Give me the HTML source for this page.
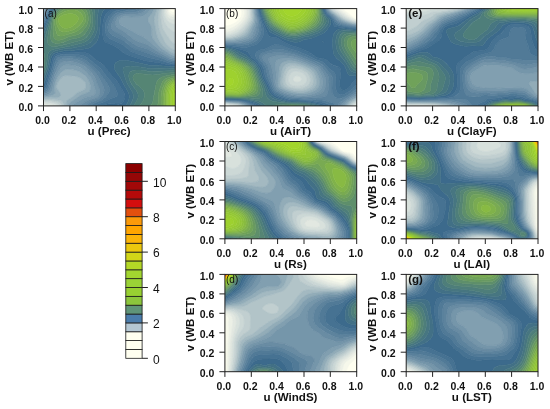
<!DOCTYPE html><html><head><meta charset="utf-8"><title>Figure</title>
<style>html,body{margin:0;padding:0;background:#fff}svg{display:block}text{font-family:"Liberation Sans",sans-serif;fill:#111}.tk{font-size:10.5px;font-weight:bold}.xl{font-size:11.6px;font-weight:bold}.pl{font-size:10px}.pl.b{font-weight:bold;font-size:11.5px}.cb{font-size:12px}</style></head><body>
<svg width="550" height="409" viewBox="0 0 550 409">
<rect width="550" height="409" fill="#fff"/>
<g>
<clipPath id="cpa"><rect x="43.5" y="8.6" width="131.8" height="97.3"/></clipPath>
<g clip-path="url(#cpa)">
<path fill="#fffff0" stroke="#fffff0" stroke-width="0.6" fill-rule="evenodd" d="M169.9,8.6 173.8,8.6 174.9,11.6 174.3,12.3 173.3,12.5 172.3,12.2 171.3,11.7 170.3,10.6Z"/>
<path fill="#f6f8eb" stroke="#f6f8eb" stroke-width="0.6" fill-rule="evenodd" d="M168.1,8.6 169.9,8.6 170.3,10.6 171.2,11.6 172.3,12.2 173.3,12.5 174.3,12.3 174.9,11.6 173.8,8.6 175.3,8.6 175.3,15.1 173.3,15.1 172.3,14.9 170.3,13.9 169.3,12.8 168.3,10.5Z"/>
<path fill="#ecf0e6" stroke="#ecf0e6" stroke-width="0.6" fill-rule="evenodd" d="M166.7,8.6 168.1,8.6 168.3,10.5 169.3,12.8 170.3,13.9 172.3,14.9 173.3,15.1 175.3,15.1 175.3,17.2 173.3,17.2 171.3,16.9 170.3,16.4 169.2,15.6 168.3,14.6 167.3,12.6 166.8,10.6ZM43.5,105.2 45.5,105.3 48.8,105.9 43.5,105.9Z"/>
<path fill="#e2e8e1" stroke="#e2e8e1" stroke-width="0.6" fill-rule="evenodd" d="M165.4,8.6 166.7,8.6 166.8,10.6 167.3,12.6 168.3,14.6 169.3,15.7 170.3,16.4 172.3,17.1 175.3,17.2 175.3,19.9 173.3,19.8 171.3,19.5 169.3,18.5 168.2,17.5 166.8,15.6 166.0,13.6 165.6,11.6ZM43.5,103.9 46.5,104.0 49.5,104.4 52.5,105.1 54.7,105.9 48.8,105.9 45.5,105.3 43.5,105.2Z"/>
<path fill="#d8e1dc" stroke="#d8e1dc" stroke-width="0.6" fill-rule="evenodd" d="M164.2,8.6 165.4,8.6 165.6,11.6 166.0,13.6 166.8,15.6 168.3,17.7 169.3,18.5 171.3,19.5 173.3,19.8 175.3,19.9 175.3,24.6 172.3,23.8 170.3,22.9 168.3,21.5 166.6,19.5 165.3,17.2 164.5,14.6 164.1,11.6ZM43.5,102.6 48.5,102.9 53.5,103.7 56.5,104.8 58.0,105.9 54.7,105.9 52.5,105.1 49.5,104.4 46.5,104.0 43.5,103.9Z"/>
<path fill="#ccd8d6" stroke="#ccd8d6" stroke-width="0.6" fill-rule="evenodd" d="M162.8,8.6 164.2,8.6 164.2,12.6 164.7,15.6 166.0,18.5 167.3,20.5 168.3,21.5 170.3,22.9 172.3,23.8 175.3,24.6 175.3,32.5 172.3,31.0 169.3,28.8 167.3,26.8 165.3,23.7 163.7,19.5 162.8,15.6 162.6,12.6ZM43.5,101.5 49.5,101.6 52.5,102.0 55.5,102.7 58.3,103.9 60.2,105.9 58.0,105.9 56.7,104.9 55.5,104.3 51.5,103.3 47.5,102.8 43.5,102.6Z"/>
<path fill="#c1cfd0" stroke="#c1cfd0" stroke-width="0.6" fill-rule="evenodd" d="M161.3,8.6 162.8,8.6 162.6,13.6 162.9,16.5 164.3,21.4 165.8,24.5 167.3,26.8 169.3,28.8 172.3,31.0 175.3,32.5 175.3,43.8 174.1,43.4 172.5,42.4 170.3,40.2 165.3,33.0 162.7,28.5 161.5,23.5 160.7,17.5 160.7,13.6ZM43.5,100.3 47.5,100.2 50.5,100.3 54.5,100.9 57.5,101.6 59.5,102.5 60.5,103.3 61.5,104.5 62.2,105.9 60.2,105.9 58.3,103.9 55.5,102.7 52.5,102.0 49.5,101.6 43.5,101.5Z"/>
<path fill="#b2c4c8" stroke="#b2c4c8" stroke-width="0.6" fill-rule="evenodd" d="M159.3,8.6 161.3,8.6 160.7,13.6 160.7,17.5 161.5,23.5 162.7,28.5 165.3,33.0 170.3,40.2 172.5,42.4 174.1,43.4 175.3,43.8 175.3,50.1 173.3,49.5 171.3,48.4 168.4,46.3 166.4,44.3 164.3,41.3 160.1,32.4 158.7,27.5 157.9,20.5 158.1,15.6ZM43.5,99.1 48.5,98.9 51.5,98.9 58.5,99.9 60.5,100.3 61.6,100.9 62.6,101.9 63.5,103.5 64.3,105.9 62.2,105.9 61.5,104.5 60.5,103.3 59.5,102.5 57.5,101.6 54.5,100.9 50.5,100.3 47.5,100.2 43.5,100.3Z"/>
<path fill="#a3b9c1" stroke="#a3b9c1" stroke-width="0.6" fill-rule="evenodd" d="M43.5,9.9 43.5,8.6 44.1,8.6ZM156.9,8.6 159.3,8.6 158.1,15.6 157.9,20.5 158.7,27.5 160.3,33.0 164.3,41.3 166.4,44.3 168.4,46.3 171.3,48.4 173.3,49.5 175.3,50.1 175.3,53.7 173.3,53.2 171.3,52.2 165.5,48.3 163.1,46.3 161.4,44.3 160.2,42.4 157.2,36.4 156.1,32.4 154.1,21.5 154.0,19.5 154.5,16.5ZM67.5,75.5 75.5,76.4 78.4,77.1 80.4,78.1 82.4,79.4 84.4,81.5 85.8,84.1 86.1,86.0 85.5,88.0 84.4,89.2 83.2,90.0 77.4,92.7 75.5,94.2 72.4,97.0 67.7,99.9 66.9,100.9 66.5,101.9 66.2,103.9 66.3,105.9 64.3,105.9 63.5,103.5 62.6,101.9 61.6,100.9 60.5,100.3 58.5,99.9 51.5,98.9 48.5,98.9 43.5,99.1 43.5,98.0 50.5,97.3 57.5,97.5 59.1,97.0 60.3,96.0 60.6,95.0 60.5,94.0 60.2,93.0 57.5,89.3 56.5,87.0 56.7,85.0 58.5,81.3 59.5,79.8 61.5,77.6 62.5,76.9 64.5,75.9 65.5,75.6Z"/>
<path fill="#92acb8" stroke="#92acb8" stroke-width="0.6" fill-rule="evenodd" d="M45.3,8.6 43.5,12.3 43.5,9.9 44.1,8.6ZM154.0,8.6 156.9,8.6 154.3,17.5 154.0,20.5 156.3,33.4 157.6,37.4 160.2,42.4 161.4,44.3 163.1,46.3 165.5,48.3 171.3,52.2 173.3,53.2 175.3,53.7 175.3,56.3 173.3,55.8 170.3,54.3 161.1,48.3 159.0,46.3 153.5,39.4 152.3,37.4 151.6,34.4 151.7,29.4 151.4,27.5 150.3,24.8 148.3,21.5 148.0,19.5 148.7,17.5 152.3,12.4ZM68.5,69.3 73.5,69.8 77.4,70.8 80.4,72.1 83.4,74.2 86.4,77.2 87.9,79.1 89.0,81.1 90.0,84.1 90.5,88.0 90.1,90.0 89.6,91.0 88.5,92.0 86.7,93.0 82.4,94.5 79.8,96.0 70.5,102.2 69.0,103.9 68.5,105.9 66.3,105.9 66.2,103.9 66.5,101.9 66.9,100.9 67.7,99.9 72.4,97.0 75.5,94.2 77.4,92.7 83.4,89.9 84.7,89.0 85.5,88.0 85.9,87.0 86.0,85.0 85.4,83.1 84.9,82.1 82.4,79.4 80.4,78.1 78.4,77.1 74.5,76.2 67.5,75.5 65.5,75.6 63.5,76.3 61.5,77.6 59.5,79.8 57.5,83.1 56.5,86.0 56.5,87.0 57.3,89.0 60.2,93.0 60.6,95.0 60.3,96.0 59.1,97.0 57.5,97.5 56.5,97.6 50.5,97.3 43.5,98.0 43.5,96.8 48.3,96.0 52.6,95.0 54.6,94.0 55.0,93.0 54.4,88.0 54.6,85.0 55.5,82.2 57.5,77.6 59.5,74.5 62.5,71.2 63.5,70.5 65.5,69.6Z"/>
<path fill="#819fb0" stroke="#819fb0" stroke-width="0.6" fill-rule="evenodd" d="M46.5,8.6 43.5,14.7 43.5,12.3 45.3,8.6ZM121.3,17.5 122.4,17.0 124.4,16.6 131.4,16.9 139.4,16.7 142.4,16.2 144.3,15.2 147.3,13.0 149.3,10.8 150.7,8.6 154.0,8.6 152.3,12.4 148.7,17.5 148.0,19.5 148.3,21.5 150.3,24.8 151.4,27.5 151.7,29.4 151.6,34.4 152.3,37.4 153.5,39.4 159.0,46.3 161.1,48.3 170.3,54.3 173.3,55.8 175.3,56.3 175.3,58.1 173.3,57.7 170.3,56.5 161.4,51.3 157.2,48.3 151.3,43.0 143.3,37.1 141.4,36.0 136.4,33.8 121.4,25.1 119.8,23.5 119.3,21.5 119.7,19.5 120.3,18.5ZM66.5,64.7 68.5,64.7 71.5,65.0 74.5,65.6 77.4,66.4 81.7,68.2 83.4,69.3 85.4,71.0 89.2,75.1 91.9,79.1 93.4,83.1 95.5,91.0 95.4,93.1 95.1,94.0 94.0,95.0 91.4,95.9 85.4,97.4 83.4,98.2 74.1,103.9 72.8,104.9 72.1,105.9 68.5,105.9 69.0,103.9 70.5,102.2 80.4,95.6 82.4,94.5 86.7,93.0 88.4,92.1 89.6,91.0 90.4,89.0 90.4,86.0 89.8,83.1 88.5,80.1 87.2,78.1 85.4,76.1 82.4,73.4 79.4,71.6 76.4,70.4 72.5,69.6 67.5,69.3 65.5,69.6 64.5,70.0 62.5,71.2 60.5,73.2 58.5,75.9 57.5,77.6 55.5,82.2 54.5,86.0 54.4,88.0 55.0,93.0 54.6,94.0 52.6,95.0 48.3,96.0 43.5,96.8 43.5,95.5 46.5,94.9 48.9,94.0 50.6,93.0 51.5,92.0 52.3,90.0 53.0,85.0 54.1,81.1 55.5,77.1 57.5,73.0 59.5,69.5 61.5,66.9 63.5,65.5 64.5,65.1Z"/>
<path fill="#7596aa" stroke="#7596aa" stroke-width="0.6" fill-rule="evenodd" d="M47.6,8.6 43.5,17.1 43.5,14.7 46.5,8.6ZM118.9,16.5 120.5,15.6 123.4,14.7 125.4,14.5 134.4,14.3 139.4,13.6 141.4,13.0 143.3,12.0 145.3,10.4 147.0,8.6 150.7,8.6 149.3,10.8 147.3,13.0 144.3,15.2 142.4,16.2 139.4,16.7 131.4,16.9 124.4,16.6 122.4,17.0 121.4,17.5 120.3,18.5 119.3,20.5 119.4,22.5 119.8,23.5 120.6,24.5 121.9,25.5 137.4,34.3 141.4,36.0 143.3,37.1 151.3,43.0 157.2,48.3 159.8,50.3 170.3,56.5 173.3,57.7 175.3,58.1 175.3,59.5 172.3,59.1 169.3,58.0 157.1,51.3 149.3,45.8 145.3,44.1 138.4,41.8 135.4,40.4 133.4,39.0 128.4,34.8 125.4,32.5 122.4,30.5 118.5,28.5 117.4,27.7 116.4,26.6 115.8,25.5 115.5,24.5 115.5,22.5 116.5,19.5 117.8,17.5ZM64.5,61.3 66.5,61.1 69.5,61.2 75.5,62.3 78.4,63.2 81.4,64.4 83.4,65.5 85.4,66.9 88.0,69.2 90.8,72.1 94.4,76.9 96.1,80.1 99.5,89.0 99.9,91.0 99.8,93.0 99.1,95.0 97.5,97.0 95.4,98.0 89.4,99.8 86.6,100.9 84.4,102.2 79.5,105.9 72.1,105.9 72.8,104.9 74.5,103.7 83.4,98.2 85.4,97.4 91.4,95.9 94.0,95.0 95.1,94.0 95.4,93.1 95.5,91.0 92.8,81.1 91.3,78.1 89.4,75.4 86.4,72.0 83.2,69.2 80.4,67.5 76.4,66.1 71.5,65.0 68.5,64.7 66.5,64.7 64.5,65.1 63.5,65.5 61.5,66.9 60.4,68.2 58.5,71.2 55.5,77.1 53.5,83.1 52.3,90.0 51.5,92.0 50.6,93.0 48.9,94.0 46.5,94.9 43.5,95.5 43.5,94.2 45.5,93.6 47.5,92.7 48.5,92.0 50.1,90.0 50.8,88.0 52.2,82.1 53.5,77.9 58.3,66.2 59.5,64.2 60.5,63.1 62.5,61.9Z"/>
<path fill="#698ca3" stroke="#698ca3" stroke-width="0.6" fill-rule="evenodd" d="M48.7,8.6 43.5,19.4 43.5,17.1 47.6,8.6ZM117.4,15.0 120.4,13.6 123.4,13.0 136.4,11.9 138.4,11.4 140.2,10.6 143.0,8.6 147.0,8.6 145.3,10.4 143.3,12.0 141.4,13.0 139.6,13.6 137.4,14.0 134.4,14.3 125.4,14.5 123.4,14.7 121.4,15.2 119.4,16.2 117.8,17.5 117.0,18.5 115.7,21.5 115.5,24.5 116.3,26.5 117.1,27.5 118.4,28.4 122.4,30.5 126.4,33.2 133.4,39.0 135.4,40.4 138.4,41.8 145.3,44.1 148.3,45.3 150.3,46.4 157.1,51.3 167.9,57.2 170.3,58.4 172.3,59.1 175.3,59.5 175.3,60.9 172.3,60.6 169.3,59.7 166.3,58.4 162.3,56.3 155.4,53.3 147.3,48.9 139.4,46.7 136.4,45.6 132.4,43.2 126.4,38.2 123.4,36.0 121.4,34.9 116.1,32.4 113.4,30.7 112.3,29.4 111.4,27.5 111.4,25.5 111.8,23.5 112.9,20.5 114.0,18.5 115.5,16.5ZM61.5,59.0 64.5,58.5 67.5,58.4 69.5,58.4 72.5,58.8 76.4,59.6 79.4,60.5 82.4,61.7 84.4,62.8 87.4,64.9 90.0,67.2 93.0,70.2 95.6,73.1 98.4,77.1 102.8,85.0 103.9,88.0 104.2,91.0 103.3,94.0 102.1,96.0 100.1,98.0 98.7,99.0 96.6,99.9 90.4,102.4 87.8,103.9 85.6,105.9 79.5,105.9 84.4,102.2 86.6,100.9 89.4,99.8 95.4,98.0 97.5,97.0 98.4,96.0 99.5,94.0 99.9,92.0 99.8,90.0 95.6,79.1 93.9,76.1 91.7,73.1 88.0,69.2 84.4,66.1 81.0,64.2 76.4,62.6 70.5,61.3 66.5,61.1 64.5,61.3 62.5,61.9 60.5,63.1 59.5,64.2 58.3,66.2 54.5,75.1 52.5,81.1 50.8,88.0 50.1,90.0 48.5,92.0 47.5,92.7 45.5,93.6 43.5,94.2 43.5,92.7 45.4,92.0 46.5,91.4 47.5,90.5 48.7,89.0 49.8,86.0 52.5,76.2 56.7,64.2 57.5,62.4 58.5,60.8 59.5,59.9Z"/>
<path fill="#5d839d" stroke="#5d839d" stroke-width="0.6" fill-rule="evenodd" d="M49.8,8.6 45.2,18.5 43.5,21.6 43.5,19.4 48.7,8.6ZM115.4,13.7 118.4,12.3 121.4,11.6 127.4,10.7 135.4,9.9 136.5,9.6 138.6,8.6 143.0,8.6 140.4,10.5 137.4,11.7 134.4,12.2 123.4,13.0 120.4,13.6 117.4,15.0 115.5,16.5 114.7,17.5 113.4,19.5 112.1,22.5 111.5,24.5 111.3,26.5 111.7,28.5 112.3,29.4 113.4,30.7 115.4,32.1 121.4,34.9 124.4,36.7 132.4,43.2 135.4,45.1 138.4,46.4 147.3,48.9 155.4,53.3 162.3,56.3 168.1,59.2 171.3,60.3 175.3,60.9 175.3,62.2 171.3,61.9 168.3,61.1 161.3,58.1 154.3,55.8 146.3,52.7 138.4,50.4 135.4,49.4 133.4,48.4 131.4,47.0 125.4,42.1 122.4,39.9 119.4,38.4 113.4,35.8 111.4,34.5 109.4,32.5 108.3,30.4 107.8,28.5 108.0,25.5 108.8,22.5 110.9,18.5 113.1,15.6ZM59.0,57.2 61.5,56.6 64.5,56.3 69.5,56.2 72.5,56.4 77.4,57.1 80.4,57.9 83.4,59.0 85.4,60.1 87.4,61.4 90.4,63.8 97.2,70.2 100.4,74.1 108.1,85.0 109.3,88.0 109.4,91.0 108.6,93.0 106.5,96.0 104.4,98.0 101.6,99.9 99.4,101.0 93.4,103.5 91.4,104.7 89.9,105.9 85.6,105.9 87.4,104.2 89.4,102.9 91.3,101.9 96.6,99.9 98.7,99.0 100.1,98.0 102.1,96.0 103.3,94.0 104.0,92.0 104.2,90.0 103.9,88.0 102.8,85.0 98.4,77.1 96.4,74.1 93.9,71.2 89.4,66.7 85.4,63.4 82.4,61.7 78.4,60.1 72.5,58.8 69.5,58.4 67.5,58.4 62.5,58.8 60.5,59.4 59.1,60.2 57.6,62.2 56.5,64.6 52.2,77.1 49.1,88.0 48.0,90.0 47.0,91.0 45.5,92.0 43.5,92.7 43.5,91.2 45.5,90.1 46.5,89.2 47.9,87.0 55.5,61.4 56.5,59.3 57.3,58.2Z"/>
<path fill="#517a97" stroke="#517a97" stroke-width="0.6" fill-rule="evenodd" d="M50.9,8.6 45.5,20.2 43.5,23.9 43.5,21.6 45.2,18.5 49.8,8.6ZM112.5,12.6 114.4,11.5 117.4,10.4 128.0,8.6 138.6,8.6 136.5,9.6 135.4,9.9 126.4,10.8 119.4,12.0 116.4,13.1 114.2,14.6 112.2,16.5 110.9,18.5 109.3,21.5 108.2,24.5 107.8,26.5 107.8,28.5 108.3,30.4 109.4,32.4 110.4,33.7 112.7,35.4 120.4,38.9 123.4,40.6 131.4,47.0 134.4,48.9 137.4,50.1 146.3,52.7 154.3,55.8 161.3,58.1 168.3,61.1 171.3,61.9 175.3,62.2 175.3,63.5 171.3,63.4 167.3,62.6 160.3,60.3 149.3,57.8 134.4,53.0 131.4,51.7 129.4,50.4 124.4,46.1 121.4,44.0 118.2,42.4 111.4,39.5 109.4,38.3 107.4,36.4 105.9,33.4 105.1,29.4 105.2,25.5 106.1,21.5 107.5,18.5 110.2,14.6ZM56.4,56.3 58.6,55.3 62.5,54.6 67.5,54.3 73.5,54.3 78.4,54.7 81.5,55.3 84.4,56.1 87.4,57.7 97.9,66.2 100.4,68.6 102.7,71.2 107.4,77.5 113.0,84.1 115.4,88.0 117.3,93.0 117.3,95.0 116.4,96.3 115.3,97.0 110.4,98.7 102.4,102.4 96.4,104.5 94.0,105.9 89.9,105.9 91.4,104.7 93.4,103.5 99.4,101.0 101.6,99.9 103.1,99.0 105.5,97.0 108.0,94.0 109.1,92.0 109.5,90.0 109.1,87.0 107.4,84.1 98.9,72.1 95.2,68.2 88.4,62.2 85.4,60.1 81.4,58.2 76.4,57.0 70.5,56.2 64.5,56.3 60.5,56.8 58.5,57.5 57.5,58.1 56.5,59.2 55.2,62.2 47.9,87.0 46.5,89.2 45.5,90.1 43.5,91.2 43.5,89.5 45.5,88.0 47.1,85.0 51.7,69.2 53.9,60.2 54.8,58.2 55.5,57.1Z"/>
<path fill="#467292" stroke="#467292" stroke-width="0.6" fill-rule="evenodd" d="M52.1,8.6 49.5,13.5 46.1,21.5 43.5,26.5 43.5,23.9 45.5,20.2 48.9,12.6 50.9,8.6ZM109.8,10.6 111.5,9.6 114.0,8.6 128.0,8.6 122.6,9.6 118.4,10.2 115.4,11.0 113.4,12.0 111.4,13.4 108.7,16.5 107.0,19.5 106.1,21.5 105.3,24.5 105.0,27.5 105.2,30.4 105.9,33.4 106.8,35.4 108.4,37.5 109.5,38.4 111.4,39.5 118.2,42.4 121.4,44.0 124.4,46.1 129.2,50.3 131.4,51.7 133.4,52.6 137.4,54.0 148.3,57.5 152.3,58.5 160.3,60.3 167.3,62.6 171.3,63.4 175.3,63.5 175.3,64.8 171.3,64.9 168.3,64.7 159.3,62.7 149.3,61.6 144.3,60.4 130.4,56.1 125.4,54.1 123.4,52.8 119.5,49.3 116.4,47.3 112.9,45.3 107.4,43.0 105.4,41.9 104.4,40.8 103.6,39.4 102.8,36.4 102.4,30.4 102.8,23.5 103.6,19.5 105.2,15.6 107.4,12.6ZM55.5,54.8 56.5,54.2 58.5,53.5 62.5,52.8 66.5,52.5 77.4,52.2 81.4,52.3 85.4,52.8 88.4,53.7 90.4,54.9 95.4,59.8 101.2,63.2 103.7,65.2 105.5,67.2 110.4,74.1 115.8,80.1 118.4,83.6 123.7,92.0 124.9,95.0 125.1,97.0 124.7,99.0 123.4,101.5 122.0,102.9 120.4,103.8 119.4,104.1 117.4,104.2 112.4,103.6 110.4,103.6 107.4,104.1 101.0,105.9 94.0,105.9 96.4,104.5 102.4,102.4 110.4,98.7 115.4,96.9 116.8,96.0 117.3,95.0 117.3,93.0 115.4,88.0 113.0,84.1 107.4,77.5 102.7,71.2 100.4,68.6 97.9,66.2 87.4,57.7 84.4,56.1 80.4,55.0 73.5,54.3 65.5,54.3 62.5,54.6 59.5,55.0 57.5,55.7 56.4,56.3 55.5,57.1 54.8,58.2 53.9,60.2 51.7,69.2 46.7,86.0 45.4,88.0 43.5,89.5 43.5,87.6 44.5,86.6 45.5,84.8 49.9,70.2 52.5,59.1 53.9,56.3Z"/>
<path fill="#3c6a8c" stroke="#3c6a8c" stroke-width="0.6" fill-rule="evenodd" d="M53.3,8.6 50.0,14.6 46.5,23.4 43.5,29.8 43.5,26.5 46.1,21.5 49.5,13.6 52.1,8.6ZM105.0,8.6 114.0,8.6 110.4,10.2 107.4,12.6 105.2,15.6 104.3,17.5 103.4,20.2 102.5,26.5 102.6,34.4 103.4,38.9 104.4,40.8 105.4,41.9 107.4,43.0 112.9,45.3 116.4,47.3 119.5,49.3 123.4,52.8 125.4,54.1 130.4,56.1 144.3,60.4 149.3,61.6 159.3,62.7 168.3,64.7 171.3,64.9 175.3,64.8 175.3,66.2 170.3,66.6 167.3,66.5 158.3,65.4 149.3,65.3 131.4,61.3 128.4,60.8 125.4,60.5 122.4,60.5 119.4,60.8 117.4,61.5 116.3,62.2 115.3,63.2 114.3,65.2 114.2,67.2 114.7,69.2 116.2,72.1 120.5,78.1 124.0,85.0 127.6,91.0 128.6,93.0 129.1,95.0 129.3,97.0 128.7,99.9 127.4,102.9 125.5,105.9 101.0,105.9 107.4,104.1 109.4,103.7 112.4,103.6 118.4,104.2 120.4,103.8 121.4,103.4 122.4,102.6 123.4,101.5 124.7,99.0 125.1,96.0 124.7,94.0 123.4,91.4 117.4,82.1 115.4,79.6 110.4,74.1 104.4,65.9 101.4,63.3 95.4,59.8 90.4,54.9 88.4,53.7 85.4,52.8 82.4,52.4 78.4,52.2 63.5,52.7 58.5,53.5 56.5,54.2 54.9,55.3 53.5,56.9 52.5,59.2 50.2,69.2 45.8,84.1 44.9,86.0 43.5,87.6 43.5,84.7 44.5,82.4 48.8,69.2 51.0,58.2 51.8,56.3 53.5,54.1 54.6,53.3 56.5,52.4 60.5,51.4 64.5,50.8 71.5,50.4 84.4,49.0 88.4,48.3 90.4,47.5 91.4,46.9 93.4,45.1 96.1,42.4 97.8,39.4 99.2,34.4 99.8,29.4 100.4,19.5 101.2,15.6 102.7,11.6 103.4,10.4Z"/>
<path fill="#427086" stroke="#427086" stroke-width="0.6" fill-rule="evenodd" d="M54.5,8.6 52.5,11.8 50.6,15.6 43.5,34.5 43.5,29.8 46.5,23.4 49.6,15.6 51.5,11.6 53.3,8.6ZM105.0,8.6 103.4,10.4 102.7,11.6 101.2,15.6 100.4,19.5 99.8,29.4 99.2,34.4 97.8,39.4 96.1,42.4 93.4,45.1 91.4,46.9 90.4,47.5 88.4,48.3 84.4,49.0 71.5,50.4 64.5,50.8 60.5,51.4 56.5,52.4 54.6,53.3 53.5,54.1 51.8,56.3 51.0,58.2 48.8,69.2 44.5,82.4 43.5,84.7 43.5,79.4 47.5,68.3 49.5,57.0 50.1,55.3 51.4,53.3 52.5,52.3 54.2,51.3 58.5,50.0 63.5,49.1 71.5,48.3 83.4,45.8 87.3,44.3 90.2,42.4 92.4,40.1 94.4,37.3 95.8,34.4 97.1,30.4 97.5,27.5 97.6,17.5 98.5,8.6ZM175.3,66.2 175.3,67.9 169.3,68.6 159.3,68.2 149.3,68.5 140.4,66.9 130.4,66.1 126.4,66.4 124.0,67.2 123.1,68.2 122.9,70.2 125.8,80.1 127.5,84.1 132.3,92.0 133.1,94.0 133.4,96.0 133.2,98.0 132.6,99.9 129.7,105.9 125.5,105.9 127.4,102.9 128.7,99.9 129.3,97.0 129.1,95.0 128.6,93.0 127.6,91.0 124.0,85.0 120.5,78.1 116.2,72.1 114.7,69.2 114.2,67.2 114.3,65.2 115.3,63.2 116.3,62.2 117.4,61.5 119.4,60.8 122.4,60.5 126.4,60.6 131.4,61.3 149.3,65.3 158.3,65.4 169.3,66.6Z"/>
<path fill="#477681" stroke="#477681" stroke-width="0.6" fill-rule="evenodd" d="M55.9,8.6 52.6,13.6 50.8,17.5 44.7,38.4 43.5,41.8 43.5,34.5 49.8,17.5 51.5,13.6 54.5,8.7ZM98.5,8.6 97.6,17.5 97.6,25.5 97.3,29.4 96.5,32.4 95.4,35.4 93.0,39.4 91.3,41.4 88.9,43.4 86.4,44.8 84.4,45.5 80.4,46.5 71.5,48.3 63.5,49.1 59.5,49.8 55.5,50.8 53.5,51.7 52.5,52.3 50.6,54.3 49.7,56.3 49.0,59.2 47.5,68.3 43.5,79.4 43.5,74.3 45.9,68.2 46.5,65.2 47.7,55.3 48.2,53.3 49.4,51.3 51.5,49.9 53.5,49.2 62.5,47.4 69.5,46.3 81.4,43.3 85.4,41.7 88.4,39.5 90.4,37.3 92.3,34.4 93.8,31.4 94.7,28.5 95.0,26.5 95.1,22.5 94.9,13.6 94.5,8.6ZM175.3,67.9 175.3,69.8 170.3,70.7 151.3,71.4 147.3,71.1 140.4,70.1 137.4,70.0 133.4,70.4 131.4,71.1 130.4,71.8 129.4,73.1 128.8,75.1 128.8,77.1 129.5,80.1 131.4,83.9 135.9,90.0 137.1,92.0 137.9,94.0 138.2,96.0 137.9,98.0 137.1,99.9 133.6,105.9 129.7,105.9 131.8,101.9 133.0,99.0 133.4,97.0 133.3,95.0 132.3,92.0 127.5,84.1 125.8,80.1 122.9,70.2 123.1,68.2 124.0,67.2 126.4,66.4 130.4,66.1 140.4,66.9 149.3,68.5 159.3,68.2 169.3,68.6Z"/>
<path fill="#4e7e7a" stroke="#4e7e7a" stroke-width="0.6" fill-rule="evenodd" d="M94.5,8.6 94.9,13.6 95.1,22.5 94.9,27.5 94.4,29.7 93.4,32.4 91.8,35.4 90.4,37.3 88.5,39.4 86.4,41.1 84.4,42.2 82.4,43.0 69.5,46.3 62.5,47.4 53.5,49.2 51.5,49.9 50.5,50.4 49.4,51.3 48.7,52.3 47.9,54.3 46.2,67.2 45.3,70.2 43.5,74.3 43.5,69.8 44.7,66.2 45.0,58.2 44.5,54.3 43.5,52.3 43.5,41.8 44.7,38.4 50.8,17.5 52.6,13.6 55.9,8.6 57.5,8.6 55.5,11.0 53.8,13.6 52.5,16.0 51.5,18.5 48.2,33.4 47.5,40.4 47.9,43.4 48.5,44.5 49.3,45.3 51.5,46.2 55.5,46.4 58.5,46.0 64.5,44.7 72.5,42.4 80.4,40.5 83.4,39.4 86.1,37.4 87.9,35.4 89.9,32.4 91.4,29.4 92.3,26.5 92.7,22.5 92.7,17.5 92.4,13.6 91.4,8.6ZM175.3,69.8 175.3,72.0 171.3,72.8 162.3,73.7 156.3,74.8 152.3,74.9 138.4,73.4 136.4,73.6 135.4,73.9 134.4,74.5 133.4,75.7 132.9,77.1 132.9,78.1 133.5,80.1 134.8,82.1 136.4,83.9 141.2,88.0 143.0,90.0 144.1,92.0 144.5,95.0 144.1,98.0 143.0,100.9 141.7,102.9 139.1,105.9 133.6,105.9 137.5,99.0 138.1,97.0 138.1,95.0 137.6,93.0 136.6,91.0 131.5,84.1 129.5,80.1 128.8,77.1 128.8,75.1 129.4,73.1 130.4,71.8 132.4,70.7 134.4,70.2 136.4,70.0 140.4,70.1 148.3,71.2 153.3,71.4 169.3,70.7Z"/>
<path fill="#558574" stroke="#558574" stroke-width="0.6" fill-rule="evenodd" d="M91.4,8.6 92.4,13.6 92.7,17.5 92.7,22.5 92.3,26.5 91.4,29.4 89.9,32.4 87.9,35.4 85.4,38.0 83.4,39.4 80.4,40.5 72.5,42.4 66.0,44.3 59.5,45.8 56.5,46.3 53.5,46.4 51.5,46.2 49.5,45.5 48.5,44.5 47.9,43.4 47.6,41.4 47.6,39.4 48.2,33.4 50.5,22.5 51.5,18.5 52.7,15.6 54.5,12.4 57.5,8.6 59.4,8.6 56.5,11.6 54.5,14.4 53.4,16.5 52.4,19.5 51.5,24.5 50.4,35.4 50.9,39.4 51.9,41.4 53.0,42.4 54.5,43.1 55.5,43.4 57.5,43.5 60.5,43.1 63.2,42.4 70.5,39.3 76.4,38.2 79.4,37.5 82.4,36.1 84.4,34.4 86.4,31.8 88.5,28.5 89.7,25.5 90.3,22.5 90.5,19.5 90.3,15.6 89.5,11.6 88.4,8.6ZM43.5,52.3 44.5,54.3 45.0,58.2 44.7,66.2 43.5,69.8ZM175.3,72.0 175.3,74.1 173.3,74.6 166.3,75.8 162.3,77.0 160.4,78.1 159.1,79.1 157.3,81.1 156.7,82.1 156.1,84.1 154.1,94.0 153.1,100.9 151.8,103.9 150.2,105.9 139.1,105.9 141.7,102.9 143.4,99.9 144.3,97.0 144.5,95.0 144.3,93.0 143.7,91.0 143.0,90.0 141.2,88.0 136.4,83.9 134.8,82.1 133.5,80.1 132.9,78.1 132.9,77.1 133.4,75.7 134.4,74.5 135.4,73.9 136.4,73.6 138.4,73.4 152.3,74.9 155.3,74.9 163.3,73.6 172.3,72.6Z"/>
<path fill="#5e8f6b" stroke="#5e8f6b" stroke-width="0.6" fill-rule="evenodd" d="M88.4,8.6 89.5,11.6 90.3,15.6 90.5,19.5 90.2,23.5 89.4,26.5 88.0,29.4 85.4,33.2 83.4,35.3 82.0,36.4 79.7,37.4 76.4,38.2 70.5,39.3 65.5,41.5 61.5,42.8 58.5,43.4 56.5,43.5 54.5,43.1 53.5,42.7 52.5,42.0 51.5,40.7 50.9,39.4 50.5,37.4 50.5,33.4 51.8,22.5 52.6,18.5 53.8,15.6 55.5,12.9 58.5,9.5 59.4,8.6 61.9,8.6 59.5,10.5 57.5,12.4 55.7,14.6 54.5,16.5 53.3,20.5 53.0,25.5 53.1,33.4 53.3,35.4 53.9,37.4 54.5,38.5 55.5,39.5 56.5,40.0 58.5,40.3 60.5,40.0 62.5,39.5 69.5,36.5 75.5,35.3 77.4,34.7 80.0,33.4 82.4,31.3 85.4,27.6 86.7,25.5 87.5,23.5 88.2,20.5 88.3,17.5 87.8,14.6 86.8,11.6 85.0,8.6ZM175.3,74.1 175.3,75.9 169.3,77.2 166.3,78.3 163.7,80.1 162.3,82.1 159.7,89.0 158.9,92.0 158.4,96.0 158.2,102.9 157.5,105.9 150.2,105.9 151.8,103.9 152.8,101.9 156.1,84.1 156.7,82.1 158.1,80.1 160.4,78.1 163.3,76.6 167.3,75.6 173.3,74.6Z"/>
<path fill="#689962" stroke="#689962" stroke-width="0.6" fill-rule="evenodd" d="M85.0,8.6 86.8,11.6 87.8,14.6 88.3,17.5 88.2,20.5 87.5,23.5 86.4,26.0 84.4,28.9 82.3,31.4 80.4,33.1 78.1,34.4 75.5,35.3 69.5,36.5 63.5,39.1 61.5,39.8 58.5,40.3 56.5,40.0 55.5,39.5 54.5,38.5 53.9,37.4 53.3,35.4 53.1,31.4 53.1,22.5 53.5,19.5 54.5,16.7 55.5,14.9 57.5,12.4 59.5,10.5 61.9,8.6 65.7,8.6 61.5,10.9 58.5,13.4 55.9,16.5 54.8,19.5 54.6,21.5 54.7,24.5 55.8,30.4 56.6,33.4 57.5,35.0 58.5,35.8 59.5,36.1 61.5,36.1 63.5,35.6 73.5,32.8 76.4,31.6 79.4,29.6 82.5,26.5 84.4,23.8 85.4,21.7 85.9,19.5 86.0,17.5 85.4,15.1 84.3,12.6 82.4,10.2 80.5,8.6ZM175.3,75.9 175.3,77.4 171.3,78.4 168.3,79.6 166.2,81.1 164.6,83.1 162.6,88.0 161.5,92.0 161.1,96.0 161.1,103.9 160.9,105.9 157.5,105.9 158.2,102.9 158.4,96.0 158.9,92.0 159.7,89.0 162.3,82.1 163.7,80.1 166.3,78.3 169.3,77.2Z"/>
<path fill="#70a25a" stroke="#70a25a" stroke-width="0.6" fill-rule="evenodd" d="M80.5,8.6 82.4,10.2 83.6,11.6 84.8,13.6 85.8,16.5 86.0,18.5 85.5,21.5 84.6,23.5 83.3,25.5 79.4,29.6 77.4,31.1 75.5,32.1 62.5,35.9 60.5,36.1 58.5,35.8 57.5,35.0 56.5,33.1 55.5,28.9 54.6,23.5 54.6,20.5 55.0,18.5 55.9,16.5 57.3,14.6 59.5,12.5 61.5,10.9 65.7,8.6ZM76.8,10.6 74.5,10.0 72.5,9.9 69.5,10.1 66.5,10.9 64.5,11.6 61.5,13.2 59.5,14.6 57.5,16.7 56.5,18.4 56.3,19.5 56.5,23.5 57.5,26.5 58.5,28.6 59.8,30.4 61.5,31.6 63.5,32.0 66.5,31.7 70.5,30.8 73.5,29.7 75.5,28.6 77.4,27.2 79.4,25.3 81.4,23.0 82.4,21.4 83.2,19.5 83.3,18.5 83.0,16.5 82.0,14.6 80.4,12.8 78.4,11.3ZM175.3,77.4 175.3,78.6 171.3,79.9 168.3,81.6 166.9,83.1 165.7,85.0 164.2,89.0 163.3,93.0 163.0,97.0 163.1,105.9 160.9,105.9 161.1,103.9 161.0,97.0 161.4,93.0 162.0,90.0 164.1,84.1 165.3,82.0 167.4,80.1 170.3,78.7Z"/>
<path fill="#79aa52" stroke="#79aa52" stroke-width="0.6" fill-rule="evenodd" d="M76.8,10.6 78.4,11.3 80.4,12.8 82.0,14.6 83.0,16.5 83.3,18.5 83.2,19.5 82.4,21.4 81.4,23.0 79.4,25.3 77.4,27.2 75.5,28.6 73.5,29.7 70.5,30.8 66.5,31.7 63.5,32.0 61.5,31.6 59.8,30.4 58.5,28.6 57.5,26.5 56.5,23.5 56.3,19.5 56.5,18.4 57.5,16.7 59.5,14.6 61.5,13.2 64.5,11.6 66.5,10.9 69.5,10.1 72.5,9.9 74.5,10.0ZM72.5,13.8 70.5,13.6 68.5,13.7 64.5,14.5 62.5,15.3 60.6,16.5 59.5,17.5 58.8,18.5 58.4,19.5 58.5,21.5 59.5,24.2 61.5,26.7 63.5,27.9 64.5,28.2 66.5,28.3 68.5,28.0 70.5,27.4 72.5,26.3 74.5,24.8 75.9,23.5 77.5,21.5 78.4,19.5 78.5,18.5 78.3,17.5 77.7,16.5 76.7,15.6 75.5,14.8ZM175.3,78.6 175.3,79.7 171.8,81.1 169.3,82.7 168.1,84.1 166.9,86.0 165.5,90.0 164.8,94.0 164.7,105.9 163.1,105.9 163.0,97.0 163.3,93.0 164.2,89.0 165.7,85.0 166.9,83.1 169.0,81.1 171.3,79.9Z"/>
<path fill="#80b24a" stroke="#80b24a" stroke-width="0.6" fill-rule="evenodd" d="M72.5,13.8 75.5,14.8 76.7,15.6 77.7,16.5 78.3,17.5 78.5,18.5 78.4,19.5 77.5,21.5 75.9,23.5 74.5,24.8 72.5,26.3 70.5,27.4 68.5,28.0 66.5,28.3 64.5,28.2 63.5,27.9 61.5,26.7 59.5,24.2 58.5,21.5 58.4,19.5 58.8,18.5 59.5,17.5 60.6,16.5 62.5,15.3 64.5,14.5 68.5,13.7 70.5,13.6ZM175.3,79.7 175.3,80.9 172.3,82.2 169.9,84.1 168.5,86.0 167.5,88.0 166.7,91.0 166.3,94.0 166.2,105.9 164.7,105.9 164.8,94.0 165.5,90.0 166.4,87.0 167.4,85.0 169.3,82.7 171.8,81.1Z"/>
<path fill="#88ba43" stroke="#88ba43" stroke-width="0.6" fill-rule="evenodd" d="M175.3,80.9 175.3,82.0 173.0,83.1 171.3,84.4 170.0,86.0 169.0,88.0 168.1,91.0 167.6,94.0 167.6,105.9 166.2,105.9 166.3,94.0 166.7,91.0 167.5,88.0 169.1,85.0 170.3,83.6 172.5,82.1Z"/>
<path fill="#8dc03e" stroke="#8dc03e" stroke-width="0.6" fill-rule="evenodd" d="M175.3,82.0 175.3,83.1 173.6,84.1 172.3,85.1 170.8,87.0 170.0,89.0 169.2,92.0 168.9,95.0 168.9,105.9 167.6,105.9 167.6,95.0 167.9,92.0 168.6,89.0 170.0,86.0 171.3,84.4 173.0,83.1Z"/>
<path fill="#92c539" stroke="#92c539" stroke-width="0.6" fill-rule="evenodd" d="M175.3,83.1 175.3,84.3 174.1,85.0 173.0,86.0 171.7,88.0 171.0,90.0 170.2,95.0 170.3,105.9 168.9,105.9 168.9,95.0 169.7,90.0 170.3,88.0 171.5,86.0 173.3,84.2Z"/>
<path fill="#96c936" stroke="#96c936" stroke-width="0.6" fill-rule="evenodd" d="M175.3,84.3 175.3,85.7 174.3,86.5 173.3,87.9 172.1,91.0 171.6,96.0 171.7,105.9 170.3,105.9 170.2,96.0 170.8,91.0 171.3,89.0 172.3,87.0 173.3,85.8Z"/>
<path fill="#9acd32" stroke="#9acd32" stroke-width="0.6" fill-rule="evenodd" d="M175.3,85.7 175.3,87.5 174.0,90.0 173.1,94.0 173.1,105.9 171.7,105.9 171.5,97.0 171.9,92.0 172.4,90.0 173.2,88.0 174.3,86.5Z"/>
<path fill="#9ed12f" stroke="#9ed12f" stroke-width="0.6" fill-rule="evenodd" d="M175.3,87.5 175.3,91.3 174.7,94.0 174.4,97.0 174.5,105.9 173.1,105.9 173.1,94.0 174.0,90.0Z"/>
<path fill="#a2d52c" stroke="#a2d52c" stroke-width="0.6" fill-rule="evenodd" d="M175.3,91.3 175.3,105.9 174.5,105.9 174.5,96.0Z"/>
</g>
<rect x="43.5" y="8.6" width="131.8" height="97.3" fill="none" stroke="#222" stroke-width="1"/>
<path d="M43.5,105.9v5.2M43.5,105.9h-5.5M69.9,105.9v5.2M43.5,86.4h-5.5M96.2,105.9v5.2M43.5,67.0h-5.5M122.6,105.9v5.2M43.5,47.5h-5.5M148.9,105.9v5.2M43.5,28.1h-5.5M175.3,105.9v5.2M43.5,8.6h-5.5" stroke="#222" stroke-width="1" fill="none"/>
<text class="tk" x="42.5" y="124.0" text-anchor="middle">0.0</text>
<text class="tk" x="33.0" y="111.0" text-anchor="end">0.0</text>
<text class="tk" x="68.9" y="124.0" text-anchor="middle">0.2</text>
<text class="tk" x="33.0" y="91.5" text-anchor="end">0.2</text>
<text class="tk" x="95.2" y="124.0" text-anchor="middle">0.4</text>
<text class="tk" x="33.0" y="72.1" text-anchor="end">0.4</text>
<text class="tk" x="121.6" y="124.0" text-anchor="middle">0.6</text>
<text class="tk" x="33.0" y="52.6" text-anchor="end">0.6</text>
<text class="tk" x="147.9" y="124.0" text-anchor="middle">0.8</text>
<text class="tk" x="33.0" y="33.2" text-anchor="end">0.8</text>
<text class="tk" x="174.3" y="124.0" text-anchor="middle">1.0</text>
<text class="tk" x="33.0" y="13.7" text-anchor="end">1.0</text>
<text class="xl" x="109.1" y="135.4" text-anchor="middle">u (Prec)</text>
<text class="xl" transform="translate(12.8,58.2) rotate(-90)" text-anchor="middle">v (WB ET)</text>
<text class="pl" x="44.6" y="16.9">(a)</text>
</g>
<g>
<clipPath id="cpb"><rect x="224.9" y="8.6" width="131.8" height="97.3"/></clipPath>
<g clip-path="url(#cpb)">
<path fill="#fffff0" stroke="#fffff0" stroke-width="0.6" fill-rule="evenodd" d="M240.6,8.6 241.7,11.6 241.7,14.6 240.6,17.5 238.9,19.9 235.9,22.3 231.9,24.5 229.9,25.3 227.9,25.7 225.9,25.8 224.9,25.6 224.9,8.6ZM341.5,8.6 356.7,8.6 356.7,18.9 355.4,18.5 353.6,17.5 347.7,12.7ZM224.9,105.6 227.2,105.9 224.9,105.9Z"/>
<path fill="#f6f8eb" stroke="#f6f8eb" stroke-width="0.6" fill-rule="evenodd" d="M243.8,8.6 244.6,11.6 244.6,13.6 244.2,15.6 243.0,18.5 240.9,21.4 237.5,24.5 232.9,27.5 230.9,28.5 228.2,29.4 226.9,29.7 224.9,29.7 224.9,25.6 225.9,25.8 227.9,25.7 229.9,25.3 231.9,24.5 235.9,22.3 237.9,20.8 239.2,19.5 241.1,16.5 241.8,13.6 241.7,11.6 240.6,8.6ZM338.5,8.6 341.5,8.6 347.7,12.7 353.6,17.5 355.4,18.5 356.7,18.9 356.7,19.8 354.7,19.3 351.5,17.5ZM224.9,105.1 230.5,105.9 227.2,105.9 224.9,105.6Z"/>
<path fill="#ecf0e6" stroke="#ecf0e6" stroke-width="0.6" fill-rule="evenodd" d="M246.1,8.6 246.6,10.6 246.7,12.6 246.1,16.5 244.7,19.5 241.9,23.3 237.9,26.9 235.8,28.5 232.9,30.2 228.9,31.8 226.9,32.2 224.9,32.2 224.9,29.7 226.9,29.7 228.2,29.4 230.9,28.5 232.9,27.5 237.5,24.5 240.9,21.4 243.0,18.5 244.2,15.6 244.6,13.6 244.6,11.6 243.8,8.6ZM336.0,8.6 338.5,8.6 351.5,17.5 354.7,19.3 356.7,19.8 356.7,20.5 353.7,19.8 351.1,18.5 346.2,15.6ZM224.9,104.5 233.9,105.9 230.5,105.9 224.9,105.1ZM356.7,105.2 356.7,105.9 355.7,105.9Z"/>
<path fill="#e2e8e1" stroke="#e2e8e1" stroke-width="0.6" fill-rule="evenodd" d="M247.9,8.6 248.4,12.6 247.9,16.8 246.2,20.5 242.9,24.9 238.9,28.7 234.7,31.4 229.9,33.4 226.9,34.1 224.9,34.2 224.9,32.2 226.9,32.2 228.9,31.8 232.9,30.2 235.8,28.5 237.9,26.9 241.9,23.3 244.7,19.5 246.1,16.5 246.7,12.6 246.6,10.6 246.1,8.6ZM334.0,8.6 336.0,8.6 347.7,16.5 353.0,19.5 354.7,20.1 356.7,20.5 356.7,21.3 354.7,20.9 352.7,20.3 347.2,17.5 344.0,15.6ZM356.7,103.9 356.7,105.2 355.7,105.9 354.1,105.9ZM224.9,104.0 233.9,105.3 236.9,105.9 233.9,105.9 224.9,104.5Z"/>
<path fill="#d8e1dc" stroke="#d8e1dc" stroke-width="0.6" fill-rule="evenodd" d="M249.4,8.6 249.7,10.6 249.8,13.6 249.5,16.5 249.0,18.5 246.9,22.4 242.9,27.5 240.9,29.4 238.9,31.0 234.9,33.3 232.1,34.4 228.9,35.3 226.9,35.7 224.9,35.8 224.9,34.2 226.9,34.1 230.0,33.4 232.9,32.3 235.9,30.8 239.9,27.9 242.9,24.9 245.5,21.5 247.3,18.5 247.9,16.5 248.4,13.6 248.3,10.6 247.9,8.6ZM332.3,8.6 334.0,8.6 345.5,16.5 349.1,18.5 352.7,20.3 354.7,20.9 356.7,21.3 356.7,21.9 354.2,21.5 351.7,20.7 345.1,17.5ZM295.8,76.0 296.8,75.8 298.8,76.1 300.5,77.1 301.2,78.1 301.4,79.1 301.2,80.1 300.5,81.1 298.8,82.1 296.8,82.3 295.3,82.1 293.8,81.1 293.3,80.1 293.2,79.1 293.8,77.3 294.8,76.4ZM356.7,102.7 356.7,103.9 354.1,105.9 352.6,105.9 354.7,103.9ZM224.9,103.5 235.4,104.9 239.1,105.9 236.9,105.9 233.9,105.3 224.9,104.0Z"/>
<path fill="#ccd8d6" stroke="#ccd8d6" stroke-width="0.6" fill-rule="evenodd" d="M250.7,8.6 251.1,13.6 250.9,16.5 250.5,18.5 248.6,22.5 243.9,28.9 240.9,31.8 238.9,33.1 236.4,34.4 233.8,35.4 230.3,36.4 226.9,37.1 224.9,37.2 224.9,35.8 227.9,35.5 230.9,34.8 233.9,33.7 236.7,32.4 239.9,30.3 242.9,27.5 246.8,22.5 248.9,18.8 249.5,16.5 249.8,13.6 249.7,10.6 249.4,8.6ZM330.9,8.6 332.3,8.6 345.1,17.5 351.7,20.7 354.2,21.5 356.7,21.9 356.7,22.6 354.7,22.3 351.7,21.5 344.7,18.5 342.7,17.2 337.7,13.5 332.7,10.2ZM292.8,71.7 293.8,71.4 295.8,71.2 297.8,71.4 299.8,71.8 301.8,72.6 303.8,73.8 305.8,75.9 306.7,78.1 306.8,80.1 306.6,81.1 305.6,83.1 304.7,84.1 302.8,85.2 300.8,85.9 298.8,86.2 296.8,86.3 294.3,86.0 292.8,85.7 291.2,85.0 289.9,84.1 289.2,83.1 288.7,82.1 288.3,80.1 288.8,76.6 289.8,74.4 290.8,73.1ZM295.8,76.0 294.8,76.4 293.8,77.3 293.2,79.1 293.3,80.1 293.8,81.1 295.3,82.1 296.8,82.3 298.8,82.1 300.5,81.1 301.2,80.1 301.4,79.1 301.2,78.1 300.5,77.1 298.8,76.1 296.8,75.8ZM356.7,101.6 356.7,102.7 354.7,103.9 352.6,105.9 351.0,105.9 353.7,103.4ZM224.9,103.0 236.9,104.6 238.9,105.1 240.8,105.9 239.1,105.9 235.4,104.9 224.9,103.5Z"/>
<path fill="#c1cfd0" stroke="#c1cfd0" stroke-width="0.6" fill-rule="evenodd" d="M251.8,8.6 252.2,14.6 252.0,17.5 251.6,19.5 249.7,23.5 245.9,29.2 244.0,31.4 240.9,33.9 236.9,35.9 230.9,37.6 226.9,38.2 224.9,38.3 224.9,37.2 226.9,37.1 230.3,36.4 233.8,35.4 236.9,34.2 240.9,31.8 243.9,28.9 247.9,23.5 250.2,19.5 250.7,17.5 251.0,14.6 251.0,11.6 250.7,8.6ZM329.9,8.6 330.9,8.6 332.7,10.2 337.7,13.5 342.7,17.2 344.7,18.5 351.7,21.5 354.7,22.3 356.7,22.6 356.7,23.2 353.7,22.8 350.7,21.9 347.1,20.5 343.7,19.0 331.7,10.5ZM291.8,68.3 293.8,68.1 296.0,68.2 298.8,68.7 301.8,69.6 304.8,71.1 306.4,72.1 307.8,73.4 309.0,75.1 309.9,77.1 310.4,79.1 310.4,81.1 309.8,83.1 308.8,84.8 307.5,86.0 305.8,87.1 303.8,87.9 301.8,88.4 298.8,88.7 295.8,88.6 292.8,88.1 290.8,87.6 288.8,86.6 286.9,85.0 286.2,84.1 285.4,82.1 285.3,80.1 285.6,77.1 286.4,74.1 287.3,72.1 288.7,70.2 289.9,69.2ZM292.8,71.7 290.8,73.1 289.8,74.4 288.8,76.6 288.3,80.1 288.7,82.1 289.2,83.1 289.9,84.1 291.2,85.0 292.8,85.7 294.3,86.0 296.8,86.3 298.8,86.2 300.8,85.9 302.8,85.2 304.7,84.1 305.6,83.1 306.6,81.1 306.8,80.1 306.7,78.1 305.8,75.9 303.8,73.8 301.8,72.6 299.8,71.8 297.8,71.4 295.8,71.2 293.8,71.4ZM356.7,100.5 356.7,101.6 353.7,103.4 351.0,105.9 349.5,105.9 352.6,102.9ZM224.9,102.6 236.9,103.9 239.9,104.8 242.4,105.9 240.8,105.9 238.3,104.9 235.9,104.4 224.9,103.0Z"/>
<path fill="#b2c4c8" stroke="#b2c4c8" stroke-width="0.6" fill-rule="evenodd" d="M252.7,8.6 253.3,15.6 253.1,18.5 252.6,20.5 250.9,24.3 247.1,30.4 245.6,32.4 243.9,34.0 241.9,35.3 237.9,37.1 234.9,37.9 230.9,38.7 227.9,39.2 224.9,39.3 224.9,38.3 227.9,38.1 231.6,37.4 235.4,36.4 237.9,35.5 241.6,33.4 244.0,31.4 245.9,29.2 248.9,24.7 251.2,20.5 251.9,18.5 252.2,15.6 251.8,8.6ZM329.1,8.6 329.9,8.6 331.7,10.5 343.7,19.0 347.1,20.5 350.7,21.9 353.7,22.8 356.7,23.2 356.7,23.8 353.7,23.4 350.2,22.5 345.7,20.8 342.9,19.5 330.7,10.6ZM288.8,66.2 290.8,65.6 292.8,65.4 295.8,65.7 299.8,66.6 302.8,67.6 306.1,69.2 309.1,71.2 310.8,72.8 312.3,75.1 313.3,78.1 313.6,81.1 313.3,83.1 312.8,84.5 311.8,86.0 309.8,87.8 307.7,89.0 304.8,90.0 301.8,90.5 298.8,90.6 295.8,90.4 292.8,90.0 289.3,89.0 286.8,87.8 284.4,86.0 283.1,84.1 282.7,82.1 282.8,79.1 283.7,74.1 284.6,71.2 285.6,69.2 286.8,67.6ZM291.8,68.3 289.9,69.2 288.7,70.2 287.3,72.1 286.4,74.1 285.6,77.1 285.3,80.1 285.4,82.1 286.2,84.1 286.9,85.0 288.8,86.6 290.8,87.6 292.8,88.1 295.8,88.6 298.8,88.7 301.8,88.4 303.8,87.9 305.8,87.1 307.5,86.0 308.8,84.8 309.8,83.1 310.4,81.1 310.4,79.1 309.9,77.1 309.0,75.1 307.8,73.4 306.4,72.1 304.8,71.1 301.8,69.6 298.8,68.7 296.0,68.2 293.8,68.1ZM356.7,99.3 356.7,100.5 352.6,102.9 349.5,105.9 347.9,105.9 349.7,103.9 351.7,102.2 353.7,100.9ZM224.9,102.1 237.9,103.5 240.9,104.5 243.9,105.9 242.4,105.9 239.9,104.8 236.9,103.9 224.9,102.6Z"/>
<path fill="#a3b9c1" stroke="#a3b9c1" stroke-width="0.6" fill-rule="evenodd" d="M253.6,8.6 254.3,16.5 254.1,19.5 253.6,21.5 252.9,23.6 248.7,31.4 246.9,34.0 245.2,35.4 243.5,36.4 241.4,37.4 238.5,38.4 234.9,39.2 230.9,39.8 224.9,40.2 224.9,39.3 227.9,39.2 231.9,38.6 235.9,37.7 238.9,36.7 242.9,34.7 245.6,32.4 247.1,30.4 250.9,24.3 252.6,20.5 253.1,18.5 253.3,15.6 252.7,8.6ZM328.3,8.6 329.1,8.6 330.7,10.6 342.9,19.5 345.7,20.8 350.2,22.5 353.7,23.4 356.7,23.8 356.7,24.5 353.7,24.1 350.7,23.4 346.7,22.1 342.7,20.4 339.8,18.5 335.0,14.6 330.7,11.5 329.7,10.6ZM286.8,63.9 288.8,63.2 291.8,63.0 294.8,63.3 298.8,64.2 302.8,65.5 306.8,67.2 310.4,69.2 312.8,71.2 314.3,73.1 315.6,76.1 316.5,80.1 316.6,83.1 316.1,85.0 314.8,87.0 312.8,88.9 310.8,90.1 307.8,91.3 303.8,92.2 299.8,92.4 295.8,92.1 290.8,91.1 287.2,90.0 283.8,88.3 281.8,86.6 280.7,85.0 280.4,84.1 280.2,82.1 281.8,70.9 282.6,68.2 283.8,66.2 284.8,65.1ZM288.8,66.2 286.8,67.6 285.6,69.2 284.6,71.2 283.7,74.1 282.8,79.1 282.7,82.1 283.1,84.1 284.4,86.0 286.8,87.8 289.3,89.0 292.8,90.0 295.8,90.4 298.8,90.6 301.8,90.5 304.8,90.0 307.7,89.0 309.8,87.8 311.8,86.0 312.8,84.5 313.3,83.1 313.6,81.1 313.3,78.1 312.3,75.1 310.8,72.8 309.1,71.2 306.1,69.2 302.8,67.6 299.8,66.6 295.8,65.7 292.8,65.4 290.8,65.6ZM356.7,98.1 356.7,99.3 353.7,100.9 351.7,102.2 349.7,103.9 347.9,105.9 346.3,105.9 348.0,103.9 350.7,101.6 353.2,99.9ZM224.9,101.7 237.9,102.9 241.2,103.9 245.4,105.9 243.9,105.9 240.9,104.5 237.9,103.5 224.9,102.1Z"/>
<path fill="#92acb8" stroke="#92acb8" stroke-width="0.6" fill-rule="evenodd" d="M254.5,8.6 255.3,16.5 255.0,21.5 253.9,25.1 252.1,28.5 250.1,33.4 248.9,35.1 247.4,36.4 245.6,37.4 242.9,38.5 239.9,39.5 236.9,40.1 232.9,40.7 228.9,41.0 224.9,41.1 224.9,40.2 227.9,40.1 231.9,39.7 235.9,39.0 238.9,38.3 243.5,36.4 245.2,35.4 246.9,34.0 248.7,31.4 252.9,23.6 253.6,21.5 254.1,19.5 254.3,16.5 253.6,8.6ZM327.6,8.6 328.3,8.6 329.7,10.6 330.7,11.5 341.7,19.8 345.2,21.5 349.7,23.1 352.7,23.9 356.7,24.5 356.7,25.1 352.7,24.6 349.7,23.9 344.7,22.2 341.7,20.8 339.7,19.5 335.0,15.6 329.7,11.6 328.7,10.5ZM282.8,62.1 285.8,61.0 288.8,60.6 291.8,60.7 295.8,61.4 300.8,62.8 306.8,65.1 311.8,67.5 314.8,69.5 316.2,71.2 317.8,74.1 319.4,79.1 319.7,82.1 319.4,85.0 318.5,87.0 316.9,89.0 314.8,90.6 311.8,92.1 307.8,93.3 303.8,93.9 298.8,93.9 293.8,93.3 286.8,91.5 283.2,90.0 280.3,88.0 278.6,86.0 278.2,85.0 277.9,83.1 278.0,81.1 278.8,76.1 279.0,70.2 279.5,67.2 280.1,65.2 281.4,63.2ZM286.8,63.9 284.8,65.1 283.8,66.2 282.6,68.2 281.8,70.9 280.2,82.1 280.4,84.1 280.7,85.0 281.8,86.6 283.8,88.3 287.2,90.0 290.8,91.1 295.8,92.1 299.8,92.4 303.8,92.2 307.8,91.3 310.8,90.1 312.8,88.9 314.8,87.0 316.1,85.0 316.6,83.1 316.5,80.1 315.6,76.1 314.3,73.1 312.8,71.2 310.4,69.2 306.8,67.2 302.8,65.5 298.8,64.2 294.8,63.3 291.8,63.0 288.8,63.2ZM356.7,96.9 356.7,98.1 353.2,99.9 350.7,101.6 348.0,103.9 346.3,105.9 344.5,105.9 346.7,103.4 349.6,100.9 352.7,98.9ZM224.9,101.3 230.9,101.9 236.9,102.2 238.9,102.5 242.9,103.9 247.0,105.9 245.4,105.9 241.2,103.9 237.9,102.9 224.9,101.7Z"/>
<path fill="#819fb0" stroke="#819fb0" stroke-width="0.6" fill-rule="evenodd" d="M255.3,8.6 256.4,17.5 256.2,22.5 255.5,25.5 252.6,33.4 250.9,36.5 249.9,37.4 247.9,38.5 244.9,39.6 240.9,40.7 237.0,41.4 232.9,41.8 224.9,41.9 224.9,41.1 228.9,41.0 232.9,40.7 236.9,40.1 240.9,39.2 245.6,37.4 247.4,36.4 248.9,35.1 250.6,32.4 252.1,28.5 253.9,25.1 254.8,22.5 255.2,20.5 255.3,17.5 254.5,8.6ZM326.9,8.6 327.6,8.6 328.8,10.6 330.7,12.4 335.0,15.6 339.7,19.5 341.7,20.8 344.7,22.2 349.7,23.9 352.7,24.6 356.7,25.1 356.7,25.7 352.7,25.2 348.7,24.3 343.7,22.7 340.7,21.3 338.7,20.0 333.8,15.6 329.7,12.5 328.0,10.6ZM277.1,60.2 278.8,59.2 279.8,58.9 283.8,58.3 288.8,58.2 292.8,58.7 297.8,59.9 304.8,62.4 313.6,66.2 316.8,68.1 318.6,70.2 320.7,74.1 322.2,78.1 322.8,81.1 322.7,84.1 321.9,87.0 320.8,89.2 318.9,91.0 315.3,93.0 310.8,94.5 305.8,95.3 300.8,95.4 294.8,94.9 287.8,93.4 283.7,92.0 279.8,89.9 277.8,88.1 277.0,87.0 276.2,85.0 275.8,83.1 275.8,81.1 276.3,76.1 275.4,64.2 275.7,62.2 276.2,61.2ZM282.7,62.2 281.4,63.2 280.6,64.2 279.5,67.2 279.0,70.2 278.8,76.1 278.0,81.1 277.9,83.1 278.2,85.0 278.8,86.4 280.3,88.0 283.2,90.0 286.8,91.5 293.8,93.3 298.8,93.9 303.8,93.9 307.8,93.3 311.8,92.1 314.8,90.6 316.9,89.0 318.5,87.0 319.4,85.0 319.7,82.1 319.4,79.1 317.8,74.1 316.2,71.2 314.8,69.5 311.8,67.5 306.8,65.1 300.8,62.8 295.8,61.4 291.8,60.7 288.8,60.6 285.1,61.2ZM356.7,95.4 356.7,96.9 352.7,98.9 349.6,100.9 346.7,103.4 344.5,105.9 342.5,105.9 344.1,103.9 347.7,100.8 350.7,98.7ZM224.9,100.8 230.9,101.4 236.9,101.7 238.9,102.0 243.9,103.6 248.7,105.9 247.0,105.9 242.9,103.9 238.9,102.5 236.9,102.2 230.9,101.9 224.9,101.3Z"/>
<path fill="#7596aa" stroke="#7596aa" stroke-width="0.6" fill-rule="evenodd" d="M256.1,8.6 257.5,18.5 257.5,24.5 256.9,27.9 255.5,32.4 254.3,35.4 252.9,37.6 251.9,38.6 249.9,39.7 246.9,40.8 242.9,41.9 238.9,42.4 233.9,42.8 224.9,42.8 224.9,41.9 228.9,42.0 233.9,41.7 237.9,41.2 241.9,40.5 244.9,39.6 248.1,38.4 249.9,37.4 250.9,36.5 252.6,33.4 255.2,26.5 256.0,23.5 256.4,20.5 256.4,17.5 255.3,8.6ZM326.2,8.6 326.9,8.6 328.0,10.6 329.7,12.5 333.8,15.6 338.7,20.0 340.7,21.3 343.7,22.7 348.7,24.3 352.7,25.2 356.7,25.7 356.7,26.4 352.7,25.9 348.7,25.1 342.7,23.2 339.7,21.8 337.7,20.4 332.7,15.6 328.7,12.5 327.2,10.6ZM268.8,58.2 270.5,57.2 272.8,56.5 277.8,55.5 283.8,55.4 290.8,56.2 295.8,57.3 300.8,59.0 313.5,64.2 317.7,66.2 319.8,68.2 322.0,71.2 324.8,76.1 325.7,79.1 325.9,83.1 325.3,87.0 324.3,90.0 322.8,92.2 321.8,93.0 319.9,94.0 313.8,95.8 307.8,96.7 302.8,96.9 294.8,96.3 287.8,94.8 283.8,93.6 279.8,91.7 277.8,90.3 276.5,89.0 275.2,87.0 274.4,85.0 273.8,82.1 273.1,75.1 272.1,69.2 271.0,65.2 268.7,60.2 268.5,59.2ZM277.1,60.2 276.2,61.2 275.7,62.2 275.4,64.2 276.3,76.1 275.8,81.1 275.8,83.1 276.2,85.0 277.0,87.0 277.8,88.1 279.8,89.9 283.7,92.0 287.8,93.4 294.8,94.9 300.8,95.4 305.8,95.3 310.8,94.5 315.3,93.0 318.9,91.0 320.8,89.2 321.9,87.0 322.7,84.1 322.8,81.1 322.2,78.1 320.7,74.1 318.6,70.2 316.8,68.1 313.6,66.2 304.8,62.4 297.8,59.9 292.8,58.7 288.8,58.2 283.8,58.3 279.8,58.9 278.8,59.2ZM356.7,93.5 356.7,95.4 350.7,98.7 347.7,100.8 344.1,103.9 342.5,105.9 340.3,105.9 341.7,103.9 345.1,100.9 349.7,97.7ZM224.9,100.4 230.9,101.0 238.9,101.4 243.9,102.9 250.4,105.9 248.7,105.9 243.9,103.6 238.9,102.0 227.9,101.2 224.9,100.8Z"/>
<path fill="#698ca3" stroke="#698ca3" stroke-width="0.6" fill-rule="evenodd" d="M256.9,8.6 258.8,20.5 259.1,27.5 258.6,30.4 257.7,33.4 256.4,36.4 254.9,38.6 252.9,40.3 250.9,41.3 246.9,42.7 243.9,43.4 240.9,43.7 234.9,43.9 224.9,43.6 224.9,42.8 233.9,42.8 238.9,42.4 242.9,41.9 246.9,40.8 249.9,39.7 251.9,38.6 252.9,37.6 254.3,35.4 255.2,33.4 256.4,29.4 257.3,25.5 257.6,22.5 257.5,19.5 256.1,8.6ZM325.5,8.6 326.2,8.6 327.2,10.6 328.9,12.6 332.7,15.6 337.7,20.4 339.7,21.8 342.7,23.2 348.7,25.1 352.7,25.9 356.7,26.4 356.7,27.0 351.7,26.5 347.7,25.7 341.7,23.9 338.8,22.5 336.7,20.9 332.7,16.5 327.9,12.6 326.4,10.6ZM263.8,55.3 264.8,54.7 266.8,54.1 271.8,53.1 275.8,52.5 280.8,52.4 286.8,53.2 293.8,54.6 298.8,56.2 306.8,59.4 316.8,63.7 319.5,65.2 321.8,67.2 324.9,71.2 327.7,75.1 328.9,78.1 329.1,82.1 328.2,90.0 327.2,94.0 326.7,95.1 326.0,96.0 324.7,96.6 323.2,97.0 315.8,97.8 303.8,98.2 293.8,97.5 288.8,96.6 284.8,95.4 280.8,93.8 277.8,92.1 276.4,91.0 274.8,89.2 273.1,86.0 270.2,76.1 268.4,67.2 266.8,64.2 263.6,60.2 262.6,58.2 262.6,57.2 262.9,56.3ZM268.8,58.2 268.5,59.2 268.7,60.2 271.0,65.2 272.1,69.2 273.1,75.1 273.8,82.1 274.4,85.0 275.2,87.0 276.5,89.0 277.8,90.3 279.8,91.7 283.8,93.6 287.8,94.8 294.8,96.3 302.8,96.9 307.8,96.7 313.8,95.8 319.9,94.0 321.8,93.0 322.8,92.2 324.3,90.0 325.3,87.0 325.9,83.1 325.7,79.1 324.8,76.1 322.0,71.2 319.8,68.2 317.7,66.2 313.5,64.2 300.8,59.0 295.8,57.3 290.8,56.2 283.8,55.4 277.8,55.5 272.8,56.5 270.5,57.2ZM356.7,91.3 356.7,93.5 349.7,97.7 345.1,100.9 341.7,103.9 340.3,105.9 337.9,105.9 338.5,103.9 339.2,102.9 340.3,101.9 353.0,94.0ZM224.9,100.0 230.9,100.6 238.9,100.9 242.8,101.9 245.7,102.9 249.9,104.7 252.1,105.9 250.4,105.9 243.9,102.9 238.9,101.4 227.9,100.7 224.9,100.4Z"/>
<path fill="#5d839d" stroke="#5d839d" stroke-width="0.6" fill-rule="evenodd" d="M257.6,8.6 260.5,23.5 261.2,29.4 261.0,31.4 260.2,34.4 258.7,37.4 256.9,39.9 254.9,41.6 252.9,42.7 247.9,44.4 244.9,45.1 241.9,45.3 234.9,45.1 224.9,44.5 224.9,43.6 235.9,43.9 241.9,43.6 244.9,43.2 247.9,42.4 250.9,41.3 252.9,40.3 254.9,38.6 256.4,36.4 257.4,34.4 258.4,31.4 259.0,28.5 259.1,24.5 258.8,20.5 256.9,8.6ZM324.9,8.6 325.5,8.6 326.4,10.6 327.9,12.6 332.7,16.5 336.7,20.9 338.8,22.5 341.7,23.9 347.7,25.7 351.7,26.5 356.7,27.0 356.7,27.7 351.7,27.2 348.7,26.7 340.7,24.7 338.1,23.5 335.7,21.5 332.6,17.5 328.7,14.3 327.0,12.6 325.7,10.7ZM260.3,54.3 261.4,53.3 262.8,52.6 270.8,50.2 273.8,49.6 278.8,49.3 281.8,49.5 284.8,50.0 294.8,52.6 298.8,54.0 307.8,57.7 320.8,63.7 323.9,66.2 330.0,73.1 331.4,75.1 332.3,78.1 332.4,81.1 332.0,89.0 332.5,93.0 333.3,95.0 335.7,97.5 336.7,98.1 338.7,98.5 340.7,98.4 343.7,97.4 347.9,95.0 352.5,92.0 356.7,88.3 356.7,91.3 353.0,94.0 340.3,101.9 339.2,102.9 338.5,103.9 337.9,105.9 335.0,105.9 334.0,103.9 332.7,103.1 329.7,102.3 324.7,100.4 321.8,100.1 316.8,100.1 311.8,99.4 303.8,99.4 297.8,98.9 291.8,98.8 288.8,98.1 282.4,96.0 278.8,94.4 275.8,92.4 273.8,90.3 272.4,88.0 267.5,76.1 266.3,69.2 265.7,67.2 264.6,65.2 260.7,60.2 259.6,58.2 259.4,56.3 259.6,55.3ZM263.8,55.3 262.9,56.3 262.6,57.2 262.6,58.2 263.6,60.2 266.8,64.2 268.4,67.2 270.2,76.1 273.1,86.0 274.8,89.2 276.4,91.0 277.8,92.1 280.8,93.8 284.8,95.4 288.8,96.6 293.8,97.5 303.8,98.2 315.8,97.8 323.2,97.0 324.7,96.6 326.0,96.0 326.7,95.1 327.2,94.0 328.2,90.0 329.1,82.1 328.9,78.1 327.7,75.1 324.9,71.2 321.8,67.2 319.5,65.2 316.8,63.7 306.8,59.4 298.8,56.2 293.8,54.6 286.8,53.2 280.8,52.4 275.8,52.5 271.8,53.1 266.8,54.1 264.8,54.7ZM224.9,99.7 230.9,100.1 237.9,100.4 240.9,100.8 244.9,101.9 247.7,102.9 251.9,104.7 253.9,105.9 252.1,105.9 249.9,104.7 245.7,102.9 242.8,101.9 238.9,100.9 227.9,100.3 224.9,100.0Z"/>
<path fill="#517a97" stroke="#517a97" stroke-width="0.6" fill-rule="evenodd" d="M258.4,8.6 259.8,15.4 263.5,28.5 263.8,31.4 263.5,34.4 262.7,36.4 261.1,39.4 258.8,42.2 256.9,44.0 254.9,45.0 250.9,45.9 246.9,47.2 244.9,47.5 242.9,47.4 237.9,46.7 224.9,45.3 224.9,44.5 234.9,45.1 241.9,45.3 244.9,45.1 247.9,44.4 252.9,42.7 254.9,41.6 256.9,39.9 258.7,37.4 260.2,34.4 261.0,31.4 261.2,29.4 260.5,23.5 257.6,8.6ZM324.2,8.6 324.9,8.6 326.3,11.6 327.7,13.4 332.6,17.5 335.7,21.5 338.1,23.5 340.7,24.7 348.7,26.7 351.7,27.2 356.7,27.7 356.7,28.4 351.7,28.0 348.7,27.6 339.7,25.7 337.7,25.0 336.8,24.5 335.7,23.6 334.8,22.5 333.0,19.5 331.5,17.5 326.7,13.4 325.5,11.6ZM257.3,51.3 259.8,50.1 263.8,49.4 265.8,48.8 272.8,45.2 274.8,44.6 275.8,44.4 277.8,44.6 280.8,45.3 284.8,46.6 289.8,48.7 297.8,50.9 308.8,55.7 315.3,59.2 320.8,61.2 322.9,62.2 325.6,64.2 329.2,68.2 333.7,71.9 335.2,74.1 335.7,76.1 335.8,79.1 335.5,86.0 335.8,89.0 337.0,92.0 338.7,93.8 339.7,94.4 341.7,94.8 343.7,94.5 345.7,93.6 348.4,92.0 351.1,90.0 353.2,88.0 356.7,84.1 356.7,88.3 352.5,92.0 347.9,95.0 343.7,97.4 341.7,98.1 339.7,98.5 337.7,98.4 336.7,98.1 335.1,97.0 333.7,95.5 332.8,94.0 332.2,92.0 332.0,88.0 332.4,79.1 332.2,77.1 331.7,75.8 330.0,73.1 323.9,66.2 321.8,64.3 318.8,62.6 313.8,60.6 307.8,57.7 299.8,54.4 295.8,52.9 282.8,49.6 279.8,49.3 273.8,49.6 270.8,50.2 264.8,51.9 261.8,53.0 260.3,54.3 259.6,55.3 259.4,57.2 259.6,58.2 260.7,60.2 264.6,65.2 265.7,67.2 266.3,69.2 267.3,75.1 267.9,77.1 272.4,88.0 273.6,90.0 275.4,92.0 277.8,93.8 280.8,95.3 285.2,97.0 290.8,98.6 297.8,98.9 303.8,99.4 311.8,99.4 316.8,100.1 321.8,100.1 324.7,100.4 329.7,102.3 332.7,103.1 334.0,103.9 335.0,105.9 332.0,105.9 330.7,104.9 325.7,103.0 322.8,102.3 316.8,101.7 310.8,100.6 303.8,100.5 296.8,99.9 290.8,100.0 281.8,97.2 277.8,95.5 275.4,94.0 273.3,92.0 271.2,89.0 268.2,82.1 265.6,77.1 265.0,75.1 264.0,69.2 263.3,67.2 262.0,65.2 257.2,59.2 255.4,56.3 255.2,54.3 255.6,53.3ZM224.9,99.3 230.9,99.7 237.9,99.9 242.9,100.7 246.9,101.8 250.9,103.3 253.9,104.7 255.8,105.9 253.9,105.9 251.9,104.7 247.7,102.9 244.9,101.9 240.9,100.8 237.9,100.4 230.9,100.1 224.9,99.7Z"/>
<path fill="#467292" stroke="#467292" stroke-width="0.6" fill-rule="evenodd" d="M258.4,8.6 259.2,8.6 260.8,15.6 263.8,24.4 267.8,34.2 268.8,35.8 269.6,36.4 270.8,36.9 275.8,37.6 277.8,38.3 282.8,41.5 289.8,45.1 291.8,45.8 297.8,47.3 303.8,50.1 308.8,52.1 311.8,53.9 316.8,57.4 318.8,57.9 323.8,58.7 325.7,59.5 327.7,60.7 331.7,64.5 333.7,65.4 338.7,67.0 340.3,68.2 340.8,69.2 341.1,71.2 339.7,82.1 339.6,85.0 340.3,88.0 340.9,89.0 341.7,89.7 342.7,90.1 343.7,90.2 344.7,90.0 346.7,89.1 347.7,88.4 350.1,86.0 353.8,81.1 354.7,80.1 356.7,78.8 356.7,84.1 352.2,89.0 348.7,91.8 344.7,94.1 342.7,94.7 341.7,94.8 339.7,94.4 337.8,93.0 337.0,92.0 335.8,89.0 335.5,85.0 335.8,78.1 335.7,76.1 335.2,74.1 333.7,71.9 329.2,68.2 325.7,64.4 324.4,63.2 321.8,61.6 315.3,59.2 308.8,55.7 297.8,50.9 289.8,48.7 283.8,46.3 279.8,45.0 276.8,44.4 274.8,44.6 271.8,45.7 265.8,48.8 263.8,49.4 259.8,50.1 257.9,50.9 256.3,52.3 255.6,53.3 255.1,55.3 255.4,56.3 256.5,58.2 262.0,65.2 263.3,67.2 264.0,69.2 265.0,75.1 265.6,77.1 268.2,82.1 270.8,88.2 272.5,91.0 274.8,93.5 277.8,95.5 281.8,97.2 289.8,99.8 291.8,100.1 297.8,99.9 303.8,100.5 310.8,100.6 316.8,101.7 321.8,102.1 324.7,102.7 330.7,104.9 332.0,105.9 327.9,105.9 324.7,104.7 321.8,103.8 310.8,101.8 303.8,101.4 297.8,100.9 290.8,101.1 289.8,100.9 280.8,98.2 275.8,96.0 272.8,93.8 271.3,92.0 270.1,90.0 267.4,84.1 263.7,77.1 262.2,70.2 261.5,68.2 260.4,66.2 258.1,63.2 255.9,60.8 251.7,57.2 250.8,56.3 248.2,52.3 246.5,51.3 237.9,48.4 228.9,46.7 224.9,46.2 224.9,45.3 237.9,46.7 242.9,47.4 245.9,47.4 247.9,46.9 250.9,45.9 254.9,45.0 256.9,44.0 258.8,42.2 261.1,39.4 262.7,36.4 263.5,34.4 263.8,31.4 263.5,28.5 259.8,15.4ZM323.5,8.6 324.2,8.6 325.5,11.6 326.7,13.4 331.5,17.5 333.0,19.5 334.8,22.5 335.7,23.6 336.7,24.5 337.7,25.0 339.7,25.7 348.7,27.6 351.7,28.0 356.7,28.4 356.7,29.3 349.7,28.6 342.7,27.4 337.7,27.1 335.7,26.7 334.7,26.2 333.7,24.9 332.2,20.5 331.1,18.5 327.7,15.6 325.9,13.6 324.7,11.6ZM322.1,41.4 322.8,41.0 323.8,41.0 324.1,41.4 323.8,42.2 322.8,42.1ZM224.9,98.9 238.9,99.6 243.9,100.3 247.9,101.4 252.4,102.9 254.9,104.0 257.9,105.9 255.8,105.9 252.9,104.2 249.9,102.9 245.9,101.5 241.9,100.5 237.9,99.9 230.9,99.7 224.9,99.3Z"/>
<path fill="#3c6a8c" stroke="#3c6a8c" stroke-width="0.6" fill-rule="evenodd" d="M259.2,8.6 259.9,8.6 261.4,14.6 264.8,23.3 267.8,28.7 269.8,31.4 271.0,32.4 272.8,33.6 278.8,36.2 283.8,39.0 287.8,40.6 292.8,41.9 295.8,42.3 298.8,42.0 300.8,41.3 304.4,39.4 309.8,38.8 311.8,38.3 321.8,34.1 324.5,32.4 326.5,30.4 330.6,24.5 330.8,23.5 330.9,21.5 330.3,19.5 329.7,18.5 326.7,15.9 324.9,13.6 323.8,11.3 322.8,8.6 323.5,8.6 324.7,11.7 326.7,14.6 331.1,18.5 332.2,20.5 333.7,24.9 334.7,26.2 335.7,26.7 337.7,27.1 342.7,27.4 349.7,28.6 356.7,29.3 356.7,30.2 349.7,29.6 343.7,28.8 340.7,28.9 338.3,29.4 336.3,30.4 335.2,31.4 333.9,33.4 333.0,36.4 332.5,41.4 333.0,50.3 333.5,53.3 334.3,55.3 336.6,58.2 341.7,62.4 344.3,65.2 345.4,67.2 347.4,73.1 348.7,75.0 349.7,75.5 350.7,75.7 352.7,75.7 356.7,75.3 356.7,78.8 354.7,80.1 353.8,81.1 349.7,86.5 348.2,88.0 346.7,89.1 344.7,90.0 343.7,90.2 342.7,90.1 341.7,89.7 340.9,89.0 339.9,87.0 339.6,85.0 339.6,83.1 340.9,73.1 341.0,70.2 340.8,69.2 340.3,68.2 339.0,67.2 337.7,66.6 332.7,65.0 330.7,63.6 327.7,60.7 325.7,59.5 323.8,58.7 318.8,57.9 316.8,57.4 310.8,53.2 307.8,51.6 303.8,50.1 297.8,47.3 291.8,45.8 289.8,45.1 282.8,41.5 277.8,38.3 275.8,37.6 270.8,36.9 269.8,36.5 268.8,35.8 267.8,34.2 262.8,21.7 260.2,13.6ZM322.1,41.4 322.8,42.1 323.8,42.2 324.1,41.4 323.8,41.0 322.8,41.0ZM224.9,46.2 228.9,46.7 237.9,48.4 246.5,51.3 248.2,52.3 250.8,56.3 251.7,57.2 255.9,60.8 258.1,63.2 260.4,66.2 261.5,68.2 262.2,70.2 263.7,77.1 267.4,84.1 270.1,90.0 271.3,92.0 272.8,93.8 275.8,96.0 280.8,98.2 289.8,100.9 290.8,101.1 297.8,100.9 303.8,101.4 310.8,101.8 321.8,103.8 324.7,104.7 327.9,105.9 323.1,105.9 320.3,104.9 317.8,104.2 308.8,102.6 297.8,101.7 291.8,101.9 289.8,101.8 280.8,99.6 276.8,98.2 274.2,97.0 271.6,95.0 269.3,92.0 266.3,85.0 262.6,78.1 260.7,71.2 259.6,68.2 257.9,65.5 255.9,63.1 253.9,61.3 249.7,58.2 246.9,55.8 244.9,54.5 235.9,49.7 230.9,48.2 224.9,47.1ZM224.9,98.5 238.9,99.1 245.9,100.1 249.3,100.9 254.9,102.7 257.9,104.3 260.2,105.9 257.9,105.9 254.9,104.0 252.4,102.9 247.9,101.4 243.9,100.3 238.9,99.6 224.9,98.9Z"/>
<path fill="#427086" stroke="#427086" stroke-width="0.6" fill-rule="evenodd" d="M259.9,8.6 260.7,8.6 262.0,13.6 265.3,21.5 267.6,25.5 269.8,28.5 271.8,30.4 274.8,32.2 283.8,36.9 287.8,38.2 293.8,39.2 295.8,39.3 297.8,39.0 303.8,36.9 309.8,36.0 313.8,34.8 319.3,32.4 322.8,30.1 325.4,27.5 327.7,24.5 328.6,22.5 328.8,21.5 328.3,19.5 325.1,15.6 323.9,13.6 322.1,8.6 322.8,8.6 324.3,12.6 325.7,14.8 329.7,18.5 330.7,20.5 330.9,22.5 330.6,24.5 327.3,29.4 325.7,31.3 323.8,33.0 320.8,34.6 312.8,37.9 310.8,38.6 308.8,38.9 304.4,39.4 300.8,41.3 298.8,42.0 295.8,42.3 291.8,41.7 286.8,40.3 283.8,39.0 278.8,36.2 272.8,33.6 271.0,32.4 269.8,31.4 267.8,28.7 264.5,22.5 261.4,14.6ZM339.7,29.1 341.7,28.8 343.7,28.8 349.7,29.6 356.7,30.2 356.7,31.2 353.7,30.9 343.7,30.3 341.7,30.7 340.0,31.4 338.7,32.4 337.9,33.4 336.8,35.4 336.0,38.4 335.8,41.4 335.9,44.3 336.5,48.3 337.5,51.3 338.4,53.3 345.7,62.6 350.2,70.2 351.3,71.2 352.7,72.0 354.7,72.6 356.7,72.9 356.7,75.3 352.7,75.7 350.7,75.7 349.7,75.5 348.7,75.0 347.4,73.1 345.4,67.2 344.3,65.2 341.7,62.4 336.6,58.2 334.9,56.3 333.8,54.3 333.1,51.3 332.5,42.4 332.7,38.4 333.2,35.4 334.5,32.4 335.7,30.9 337.7,29.7ZM224.9,47.1 227.9,47.5 231.4,48.3 234.7,49.3 237.2,50.3 245.9,55.1 253.9,61.3 255.9,63.1 257.9,65.5 259.6,68.2 260.7,71.2 262.6,78.1 266.3,85.0 269.3,92.0 271.6,95.0 274.2,97.0 276.8,98.2 280.8,99.6 289.8,101.8 291.8,101.9 297.8,101.7 309.8,102.7 318.8,104.5 323.1,105.9 319.1,105.9 316.8,105.2 311.8,104.1 306.8,103.3 297.8,102.6 290.8,102.6 286.8,102.2 281.8,101.3 274.8,99.3 272.0,98.0 269.7,96.0 267.8,93.3 265.1,86.0 261.1,78.1 258.3,69.2 256.5,66.2 254.9,64.2 251.9,61.6 246.9,58.1 244.9,56.9 239.9,54.6 235.2,51.3 233.2,50.3 230.6,49.3 226.9,48.3 224.9,48.0ZM224.9,98.1 240.9,98.8 247.9,99.7 253.9,101.1 256.9,102.1 259.8,103.6 262.8,105.9 260.2,105.9 257.9,104.3 254.9,102.7 249.3,100.9 245.9,100.1 238.9,99.1 224.9,98.5Z"/>
<path fill="#477681" stroke="#477681" stroke-width="0.6" fill-rule="evenodd" d="M260.7,8.6 261.5,8.6 262.9,13.6 266.6,21.5 268.8,25.0 270.8,27.3 273.8,29.7 279.8,33.1 283.8,35.2 287.8,36.5 293.8,37.3 295.8,37.3 297.8,37.0 303.2,35.4 309.8,34.0 312.8,33.1 317.8,30.9 320.8,28.9 322.8,27.0 324.9,24.5 326.0,22.5 326.2,21.5 326.0,19.5 323.3,14.6 321.4,8.6 322.1,8.6 323.4,12.6 324.7,15.1 328.3,19.5 328.8,21.5 328.3,23.5 325.4,27.5 322.4,30.4 318.8,32.7 313.8,34.8 309.8,36.0 303.8,36.9 298.8,38.8 296.8,39.2 293.8,39.2 287.8,38.2 283.8,36.9 274.8,32.2 271.8,30.4 269.8,28.5 267.0,24.5 264.8,20.5 262.0,13.6ZM342.7,30.4 345.7,30.4 356.7,31.2 356.7,32.3 352.7,31.9 346.7,31.9 344.7,32.1 342.7,32.8 341.7,33.4 340.7,34.3 339.7,35.9 338.9,38.4 338.6,41.4 339.1,46.3 339.9,49.3 340.9,51.3 345.7,58.2 351.7,67.7 353.7,69.5 355.0,70.2 356.7,70.6 356.7,72.9 354.7,72.6 352.7,72.0 351.3,71.2 350.2,70.2 345.7,62.6 342.7,58.6 339.1,54.3 337.9,52.3 337.1,50.3 336.3,47.3 335.8,43.4 335.9,39.4 336.5,36.4 337.3,34.4 338.7,32.4 340.7,31.1ZM224.9,48.0 226.9,48.3 230.6,49.3 234.9,51.1 239.9,54.6 244.9,56.9 246.9,58.1 251.9,61.6 254.8,64.2 256.5,66.2 258.3,69.2 261.1,78.1 265.1,86.0 267.8,93.3 269.7,96.0 272.0,98.0 273.8,98.9 275.8,99.6 280.8,101.1 285.2,101.9 289.8,102.6 297.8,102.6 306.8,103.3 311.8,104.1 316.8,105.2 319.1,105.9 314.6,105.9 308.8,104.6 303.8,103.8 296.8,103.4 288.8,103.3 280.8,102.6 272.8,101.2 270.8,100.5 269.8,99.9 267.8,98.2 266.3,96.0 265.6,94.0 263.8,87.0 260.1,79.1 257.1,70.2 255.5,67.2 253.9,65.2 250.9,62.5 246.9,59.8 243.9,58.2 238.9,56.2 234.9,53.0 232.1,51.3 228.9,50.0 224.9,49.1ZM224.9,97.7 244.9,98.5 248.7,99.0 255.9,100.2 258.9,100.9 261.8,102.2 264.4,103.9 266.5,105.9 262.8,105.9 259.8,103.6 256.9,102.1 253.9,101.1 247.9,99.7 240.9,98.8 224.9,98.1Z"/>
<path fill="#4e7e7a" stroke="#4e7e7a" stroke-width="0.6" fill-rule="evenodd" d="M261.5,8.6 262.3,8.6 263.8,13.6 266.8,19.7 268.8,22.9 270.9,25.5 273.8,27.9 279.8,31.6 283.8,33.7 287.8,35.1 290.8,35.6 293.8,35.8 295.8,35.7 298.8,35.2 308.8,32.6 311.8,31.7 315.8,29.9 318.8,28.0 320.4,26.5 322.1,24.5 323.3,22.5 323.8,20.5 323.5,18.5 321.9,13.6 320.7,8.6 321.4,8.6 323.3,14.6 326.0,19.5 326.2,20.5 326.0,22.5 324.1,25.5 320.8,28.9 317.8,30.9 312.8,33.1 309.8,34.0 303.8,35.3 298.8,36.8 296.8,37.2 294.8,37.3 292.8,37.2 287.8,36.5 283.8,35.2 279.8,33.1 273.8,29.7 270.8,27.3 268.5,24.5 265.8,20.1 262.8,13.5ZM344.7,32.1 346.7,31.9 351.7,31.9 356.7,32.3 356.7,33.6 353.7,33.2 349.7,33.3 346.7,33.8 344.7,34.5 343.5,35.4 342.1,37.4 341.5,39.4 341.2,42.4 341.8,46.3 343.4,50.3 352.8,65.2 354.7,67.3 356.7,68.3 356.7,70.6 355.0,70.2 353.7,69.5 352.7,68.8 351.3,67.2 345.7,58.2 341.5,52.3 339.6,48.3 338.9,45.3 338.6,42.4 338.7,39.4 339.2,37.4 340.0,35.4 341.7,33.4 343.5,32.4ZM224.9,49.1 228.9,50.0 232.9,51.7 234.9,53.0 238.9,56.2 244.9,58.7 247.9,60.5 251.8,63.2 253.9,65.2 255.5,67.2 257.1,70.2 260.1,79.1 263.8,87.0 265.6,94.0 266.3,96.0 267.8,98.2 269.8,99.9 270.8,100.5 272.8,101.2 280.8,102.6 288.8,103.3 296.8,103.4 303.8,103.8 308.8,104.6 314.6,105.9 310.1,105.9 305.8,104.9 303.8,104.6 290.8,104.0 278.8,104.4 275.1,104.9 273.0,105.9 266.5,105.9 264.4,103.9 261.8,102.2 258.9,100.9 255.9,100.2 248.7,99.0 244.9,98.5 224.9,97.7 224.9,97.3 237.9,97.8 245.9,97.8 254.9,98.4 258.8,98.3 260.7,98.0 261.8,97.1 262.4,96.0 262.7,93.0 262.4,89.0 261.5,86.0 258.7,79.1 256.0,71.2 254.5,68.2 253.1,66.2 251.0,64.2 247.9,62.0 243.9,59.7 237.9,57.3 233.9,54.0 231.9,52.7 228.9,51.2 224.9,50.2Z"/>
<path fill="#558574" stroke="#558574" stroke-width="0.6" fill-rule="evenodd" d="M262.3,8.6 263.1,8.6 263.6,10.6 264.8,13.6 267.8,19.4 269.8,22.4 271.8,24.6 274.8,27.1 281.8,31.3 285.8,33.2 288.8,34.0 291.8,34.4 294.8,34.5 296.8,34.3 299.8,33.6 306.8,31.8 309.8,30.8 313.8,29.0 316.8,27.2 318.6,25.5 320.2,23.5 321.5,20.5 321.6,17.5 320.0,8.6 320.7,8.6 321.9,13.6 323.5,18.5 323.8,20.5 323.3,22.5 321.3,25.5 318.2,28.5 314.8,30.4 310.8,32.0 307.8,32.9 296.8,35.6 292.8,35.8 287.8,35.1 283.8,33.7 279.6,31.4 273.8,27.9 270.8,25.4 268.5,22.5 265.8,17.8 263.4,12.6ZM348.7,33.4 353.7,33.2 356.7,33.6 356.7,35.0 353.7,34.7 350.7,34.9 348.7,35.4 346.6,36.4 345.6,37.4 344.7,38.7 344.2,40.4 344.0,42.4 344.3,45.3 345.3,48.3 353.7,61.9 355.5,64.2 356.7,65.2 356.7,68.3 354.7,67.3 352.7,65.1 343.4,50.3 341.8,46.3 341.3,43.4 341.2,41.4 341.5,39.4 342.1,37.4 343.5,35.4 344.7,34.5 346.7,33.8ZM224.9,50.2 227.9,50.9 230.9,52.1 233.9,54.0 237.9,57.3 242.9,59.3 245.9,60.7 251.0,64.2 253.9,67.2 256.0,71.2 258.7,79.1 262.1,88.0 262.7,92.0 262.6,95.0 262.0,97.0 260.8,97.9 258.8,98.3 255.9,98.4 245.9,97.8 237.9,97.8 224.9,97.3 224.9,96.9 238.9,97.4 251.9,96.8 254.9,96.5 256.9,96.0 258.8,94.7 259.8,92.9 260.3,90.0 259.7,86.0 255.3,73.1 253.5,69.2 251.9,66.7 249.9,64.9 246.9,62.7 242.9,60.5 237.4,58.2 230.9,53.5 227.9,52.1 224.9,51.4ZM273.0,105.9 274.8,105.0 277.8,104.5 281.8,104.2 290.8,104.0 303.8,104.6 305.8,104.9 310.1,105.9 306.1,105.9 303.8,105.5 290.8,104.7 285.8,105.2 281.4,105.9Z"/>
<path fill="#5e8f6b" stroke="#5e8f6b" stroke-width="0.6" fill-rule="evenodd" d="M263.1,8.6 264.0,8.6 265.4,12.6 267.8,17.4 270.6,21.5 272.8,24.0 275.8,26.3 281.8,29.9 285.8,31.9 288.8,32.8 291.8,33.2 294.8,33.2 297.8,32.8 305.8,30.7 308.8,29.6 311.8,28.2 314.8,26.4 315.9,25.5 317.7,23.5 318.9,21.5 319.6,19.5 320.0,15.6 319.3,8.6 320.0,8.6 321.4,16.5 321.6,19.5 321.2,21.5 319.5,24.5 316.8,27.2 313.8,29.0 309.8,30.8 305.8,32.1 296.8,34.3 292.8,34.5 288.8,34.0 285.8,33.2 281.8,31.3 274.8,27.1 271.8,24.6 269.2,21.5 266.8,17.6 264.4,12.6ZM352.7,34.7 354.7,34.7 356.7,35.0 356.7,36.7 354.7,36.5 352.7,36.7 350.4,37.4 348.9,38.4 348.0,39.4 347.2,41.4 347.2,44.3 348.1,47.3 349.7,50.3 354.7,58.0 356.7,60.2 356.7,65.2 355.5,64.2 353.7,61.9 346.7,50.8 344.9,47.3 344.1,44.3 344.0,42.4 344.2,40.4 344.7,38.7 345.6,37.4 346.7,36.4 348.7,35.4ZM224.9,51.4 227.9,52.1 229.9,53.0 232.0,54.3 237.4,58.2 242.9,60.5 245.9,62.1 249.9,64.9 252.2,67.2 253.5,69.2 254.9,72.1 259.4,85.0 260.1,88.0 260.2,91.0 259.8,93.0 258.5,95.0 256.9,96.0 254.9,96.5 252.9,96.8 238.9,97.4 224.9,96.9 224.9,96.4 231.9,96.5 238.9,96.9 248.9,95.8 252.9,95.1 255.4,94.0 256.9,92.7 257.7,91.0 258.1,88.0 257.4,84.1 253.8,73.1 252.0,69.2 250.5,67.2 248.3,65.2 244.9,62.8 241.9,61.3 236.9,59.1 229.7,54.3 226.9,53.1 224.9,52.6ZM281.4,105.9 285.8,105.2 290.8,104.7 303.8,105.5 306.1,105.9 296.1,105.9 290.8,105.5 287.8,105.9Z"/>
<path fill="#689962" stroke="#689962" stroke-width="0.6" fill-rule="evenodd" d="M264.0,8.6 265.0,8.6 266.0,11.6 268.8,17.1 271.1,20.5 273.8,23.4 276.6,25.5 282.8,29.2 285.8,30.7 288.8,31.7 290.8,32.0 293.8,32.1 296.8,31.8 300.8,30.9 304.8,29.8 307.8,28.6 310.8,27.0 313.1,25.5 314.8,24.0 316.1,22.5 317.2,20.5 318.0,18.5 318.8,14.6 318.8,11.6 318.5,8.6 319.3,8.6 319.9,13.6 319.9,17.5 319.3,20.5 317.7,23.5 315.8,25.6 313.2,27.5 308.8,29.6 303.8,31.3 296.8,33.0 292.8,33.3 288.8,32.8 285.8,31.9 281.8,29.9 275.8,26.3 272.3,23.5 269.8,20.5 267.8,17.4 265.4,12.6ZM353.7,36.5 356.7,36.7 356.7,39.4 355.7,39.2 354.1,39.4 352.3,40.4 351.5,41.4 351.2,42.4 351.1,44.3 351.7,46.3 352.7,48.3 354.7,51.1 356.7,53.4 356.7,60.2 354.7,58.0 349.7,50.3 348.1,47.3 347.2,44.3 347.2,41.4 347.7,39.9 348.7,38.5 350.7,37.2ZM224.9,52.6 226.9,53.1 229.7,54.3 236.9,59.1 241.9,61.3 244.9,62.8 248.9,65.6 251.3,68.2 252.5,70.2 253.9,73.3 257.1,83.1 258.0,87.0 258.0,90.0 257.3,92.0 255.9,93.7 253.9,94.7 251.9,95.3 248.9,95.8 238.9,96.9 231.9,96.5 224.9,96.4 224.9,95.9 231.9,96.0 238.9,96.4 245.9,95.2 249.9,94.3 252.9,93.1 254.3,92.0 255.6,90.0 256.1,87.0 255.5,83.1 252.9,74.7 251.5,71.2 249.6,68.2 246.9,65.6 243.3,63.2 235.9,59.7 228.9,55.2 226.9,54.4 224.9,53.9ZM287.8,105.9 290.8,105.5 296.1,105.9Z"/>
<path fill="#70a25a" stroke="#70a25a" stroke-width="0.6" fill-rule="evenodd" d="M265.0,8.6 266.1,8.6 267.1,11.6 269.8,16.7 271.8,19.7 274.5,22.5 277.8,24.9 283.8,28.5 286.8,29.9 289.8,30.8 291.8,31.0 294.8,30.9 297.8,30.4 301.8,29.4 304.7,28.5 306.9,27.5 309.8,25.9 311.7,24.5 314.6,21.5 315.8,19.5 316.8,17.2 317.5,14.6 317.8,12.7 317.6,8.6 318.5,8.6 318.8,12.6 318.5,16.5 317.6,19.5 316.1,22.5 314.3,24.5 311.7,26.5 307.8,28.6 303.8,30.1 296.8,31.8 292.8,32.1 289.8,31.9 286.8,31.1 283.8,29.7 276.8,25.6 273.8,23.4 271.1,20.5 268.8,17.1 266.0,11.6ZM354.7,39.3 356.7,39.4 356.7,53.4 354.7,51.1 352.7,48.3 351.7,46.3 351.1,44.3 351.2,42.4 351.7,41.1 352.7,40.1 353.7,39.5ZM224.9,53.9 226.9,54.4 228.9,55.2 235.9,59.7 243.9,63.5 247.6,66.2 250.4,69.2 251.9,72.1 254.0,78.1 255.7,84.1 256.1,87.0 255.9,89.1 254.9,91.3 253.0,93.0 250.9,94.0 247.3,95.0 238.9,96.4 231.9,96.0 224.9,95.9 224.9,95.3 232.9,95.5 237.9,95.9 238.9,95.8 242.9,95.0 246.9,93.9 249.9,92.8 251.2,92.0 252.3,91.0 253.6,89.0 254.2,86.0 253.6,82.1 251.2,74.1 249.9,71.1 247.8,68.2 244.9,65.5 241.9,63.6 234.9,60.3 228.9,56.6 226.9,55.7 224.9,55.2Z"/>
<path fill="#79aa52" stroke="#79aa52" stroke-width="0.6" fill-rule="evenodd" d="M266.1,8.6 267.3,8.6 268.4,11.6 270.8,16.2 272.8,19.2 275.0,21.5 277.8,23.6 284.3,27.5 287.8,29.1 290.8,29.8 292.8,29.9 295.8,29.6 302.8,27.8 306.8,25.9 310.4,23.5 313.2,20.5 315.5,16.5 316.6,12.6 316.8,10.6 316.6,8.6 317.6,8.6 317.8,12.6 317.3,15.6 316.2,18.5 314.6,21.5 311.8,24.4 308.8,26.5 304.7,28.5 299.8,29.9 294.8,30.9 290.8,30.9 287.8,30.2 283.8,28.5 277.8,24.9 274.5,22.5 271.8,19.7 269.8,16.7 267.1,11.6ZM224.9,55.2 226.9,55.7 228.9,56.6 234.9,60.3 242.9,64.2 246.9,67.2 248.7,69.2 249.9,71.1 251.2,74.1 253.3,81.1 254.0,84.1 254.1,87.0 253.6,89.0 252.3,91.0 251.2,92.0 249.9,92.8 246.7,94.0 241.9,95.2 237.9,95.9 232.9,95.5 224.9,95.3 224.9,94.6 226.9,94.8 231.9,94.8 236.9,95.2 238.9,95.1 243.2,94.0 246.0,93.0 248.9,91.5 250.6,90.0 251.8,88.0 252.3,85.0 251.7,81.1 249.6,74.1 248.2,71.2 246.0,68.2 243.8,66.2 240.9,64.2 234.6,61.2 227.9,57.6 224.9,56.5Z"/>
<path fill="#80b24a" stroke="#80b24a" stroke-width="0.6" fill-rule="evenodd" d="M267.3,8.6 268.7,8.6 269.7,11.6 271.8,15.6 273.7,18.5 275.8,20.8 278.8,23.0 284.8,26.4 287.8,27.8 290.8,28.7 293.8,28.6 298.8,27.6 302.8,26.3 306.2,24.5 310.1,21.5 311.8,19.7 313.3,17.5 314.7,14.6 315.3,12.6 315.6,10.6 315.5,8.6 316.6,8.6 316.8,10.6 316.6,12.6 315.8,15.8 313.8,19.7 311.5,22.5 308.8,24.7 304.8,27.0 300.8,28.4 294.8,29.7 292.8,29.9 290.8,29.8 287.8,29.1 284.3,27.5 277.8,23.6 275.0,21.5 272.8,19.2 270.8,16.2 268.4,11.6ZM224.9,56.5 226.9,57.1 228.9,58.0 233.9,60.9 239.9,63.7 242.5,65.2 245.0,67.2 246.9,69.2 248.2,71.2 249.6,74.1 251.2,79.1 252.1,83.1 252.3,86.0 251.8,88.0 250.6,90.0 249.6,91.0 248.1,92.0 243.9,93.8 239.6,95.0 237.9,95.2 231.9,94.8 225.9,94.8 224.9,94.6 224.9,93.9 226.9,94.2 231.9,94.2 236.9,94.4 238.9,94.3 241.9,93.4 244.9,92.1 246.8,91.0 248.1,90.0 249.0,89.0 250.1,87.0 250.4,84.1 249.8,80.1 248.0,74.1 245.9,70.2 244.2,68.2 242.0,66.2 238.9,64.3 233.9,62.1 228.9,59.5 226.9,58.6 224.9,58.0Z"/>
<path fill="#88ba43" stroke="#88ba43" stroke-width="0.6" fill-rule="evenodd" d="M268.7,8.6 270.3,8.6 271.2,11.6 273.2,15.6 275.2,18.5 276.8,20.1 279.8,22.2 285.8,25.5 288.8,26.8 290.8,27.4 291.8,27.5 295.8,26.9 299.8,25.8 303.0,24.5 306.3,22.5 309.8,19.4 312.6,15.6 313.5,13.6 314.0,11.6 314.1,8.6 315.5,8.6 315.6,10.6 314.8,14.4 313.3,17.5 310.8,20.8 307.8,23.4 304.5,25.5 300.8,27.0 295.8,28.3 291.8,28.7 289.7,28.5 285.8,26.9 279.7,23.5 275.8,20.8 273.7,18.5 271.8,15.6 269.7,11.6ZM224.9,58.0 227.9,59.0 233.9,62.1 238.9,64.3 240.9,65.4 243.2,67.2 245.1,69.2 246.5,71.2 248.0,74.1 249.6,79.1 250.4,83.1 250.3,86.0 249.6,88.0 248.1,90.0 245.9,91.6 243.0,93.0 238.9,94.3 236.9,94.4 225.9,94.1 224.9,93.9 224.9,93.1 227.9,93.4 237.9,93.5 240.1,93.0 242.4,92.0 245.5,90.0 246.9,88.6 247.8,87.0 248.5,84.1 247.9,79.2 246.3,74.1 244.1,70.2 242.4,68.2 240.1,66.2 237.9,64.9 226.9,60.1 224.9,59.6Z"/>
<path fill="#8dc03e" stroke="#8dc03e" stroke-width="0.6" fill-rule="evenodd" d="M270.3,8.6 272.0,8.6 272.8,11.6 274.2,14.6 276.0,17.5 277.8,19.4 281.1,21.5 286.8,24.5 289.8,25.7 291.8,26.0 294.8,25.7 298.8,24.5 301.8,23.3 304.7,21.5 308.2,18.5 310.8,15.3 311.7,13.6 312.4,11.6 312.5,8.6 314.1,8.6 314.2,10.6 313.5,13.6 311.8,16.9 309.7,19.5 306.8,22.1 303.8,24.1 300.8,25.5 295.8,26.9 291.8,27.5 290.8,27.4 288.8,26.8 285.8,25.5 279.8,22.2 276.8,20.1 275.2,18.5 273.2,15.6 271.2,11.6ZM224.9,59.6 226.9,60.1 237.9,64.9 240.1,66.2 242.4,68.2 244.1,70.2 246.3,74.1 247.6,78.1 248.4,82.1 248.4,85.0 247.8,87.0 246.5,89.0 244.1,91.0 241.9,92.2 238.9,93.3 236.9,93.6 227.9,93.4 224.9,93.1 224.9,92.1 227.9,92.6 235.9,92.6 237.9,92.4 239.9,91.8 242.8,90.0 244.8,88.0 245.9,86.0 246.4,83.1 246.0,79.1 244.8,75.1 242.9,71.2 240.9,68.5 239.4,67.2 237.9,66.2 227.9,62.1 224.9,61.3Z"/>
<path fill="#92c539" stroke="#92c539" stroke-width="0.6" fill-rule="evenodd" d="M272.0,8.6 273.9,8.6 274.7,11.6 276.0,14.6 277.8,17.4 279.0,18.5 282.2,20.5 286.8,22.9 289.8,24.0 291.8,24.3 293.8,24.1 296.8,23.4 299.8,22.2 302.8,20.5 306.5,17.5 309.0,14.6 310.4,11.6 310.6,8.6 312.5,8.6 312.5,10.6 311.7,13.6 309.9,16.5 307.8,18.9 304.8,21.4 301.8,23.3 298.8,24.5 294.8,25.7 291.8,26.0 289.8,25.7 286.8,24.5 281.1,21.5 277.8,19.4 276.0,17.5 274.2,14.6 272.8,11.6ZM224.9,61.3 226.9,61.8 236.9,65.7 238.9,66.8 240.5,68.2 242.2,70.2 244.4,74.1 245.7,78.1 246.3,81.1 246.4,84.1 245.9,86.0 244.8,88.0 242.8,90.0 239.9,91.8 237.9,92.4 235.9,92.6 228.9,92.6 226.9,92.5 224.9,92.1 224.9,90.8 225.9,91.2 227.9,91.6 231.9,91.6 235.9,91.4 237.8,91.0 238.9,90.5 241.1,89.0 242.8,87.0 243.7,85.0 244.2,82.1 243.9,79.1 242.8,75.1 241.5,72.1 239.4,69.2 238.4,68.2 236.9,67.2 228.9,64.2 226.9,63.6 224.9,63.2Z"/>
<path fill="#96c936" stroke="#96c936" stroke-width="0.6" fill-rule="evenodd" d="M273.9,8.6 276.3,8.6 276.8,11.6 277.8,14.0 278.8,15.7 280.7,17.5 283.8,19.5 286.8,21.0 289.8,22.0 291.8,22.3 293.8,22.2 296.4,21.5 298.8,20.5 300.8,19.4 304.4,16.5 306.8,13.9 308.0,11.6 308.4,8.6 310.6,8.6 310.7,9.6 310.4,11.6 309.0,14.6 306.8,17.2 304.1,19.5 301.2,21.5 297.8,23.1 294.8,24.0 291.8,24.3 289.8,24.0 286.8,22.9 282.2,20.5 278.8,18.4 277.1,16.5 276.0,14.6 274.7,11.6ZM224.9,63.2 226.9,63.6 228.9,64.2 236.9,67.2 237.9,67.8 240.2,70.2 242.4,74.1 243.4,77.1 244.0,80.1 244.1,83.1 243.7,85.0 242.8,87.0 241.1,89.0 238.9,90.5 236.9,91.2 233.9,91.6 228.9,91.6 226.9,91.4 224.9,90.8 224.9,89.3 226.9,90.1 228.9,90.4 230.9,90.4 234.9,90.0 237.5,89.0 239.6,87.0 240.8,85.0 241.4,83.1 241.5,81.1 241.2,78.1 240.4,75.1 239.1,72.1 237.7,70.2 235.9,68.8 233.9,67.9 227.9,65.9 224.9,65.5Z"/>
<path fill="#9acd32" stroke="#9acd32" stroke-width="0.6" fill-rule="evenodd" d="M276.3,8.6 279.2,8.6 279.6,11.6 280.4,13.6 281.8,15.4 283.2,16.5 284.8,17.6 287.8,19.0 289.8,19.6 291.8,19.9 294.7,19.5 296.8,18.8 299.1,17.5 301.8,15.6 303.8,13.6 304.8,12.2 305.5,10.6 305.7,8.6 308.4,8.6 308.4,9.6 308.0,11.6 306.8,13.9 304.8,16.2 302.0,18.5 298.8,20.5 296.8,21.4 293.8,22.2 291.8,22.3 288.8,21.7 285.8,20.5 282.1,18.5 279.8,16.8 278.7,15.6 277.6,13.6 276.8,11.5ZM224.9,65.5 226.9,65.7 228.9,66.2 233.9,67.9 235.9,68.8 237.9,70.4 239.1,72.1 240.0,74.1 241.0,77.1 241.5,80.1 241.5,82.1 241.2,84.1 240.3,86.0 238.7,88.0 236.9,89.3 235.0,90.0 231.9,90.4 228.9,90.4 226.9,90.1 224.9,89.3 224.9,86.8 226.6,88.0 228.9,88.7 231.9,88.6 233.9,88.1 234.9,87.6 235.9,86.8 237.1,85.0 238.0,83.1 238.4,81.1 238.1,78.1 237.2,75.1 236.3,73.1 235.6,72.1 234.5,71.2 232.9,70.3 229.9,69.4 226.9,69.1 225.9,69.2 224.9,69.8Z"/>
<path fill="#9ed12f" stroke="#9ed12f" stroke-width="0.6" fill-rule="evenodd" d="M279.2,8.6 283.6,8.6 283.7,10.6 284.0,11.6 285.3,13.6 286.5,14.6 288.2,15.6 289.8,16.1 291.8,16.4 293.8,16.1 295.6,15.6 298.8,13.6 300.8,11.3 301.5,9.6 301.6,8.6 305.7,8.6 305.7,9.6 305.1,11.6 304.5,12.6 302.9,14.6 300.5,16.5 297.8,18.3 295.8,19.2 293.8,19.7 291.8,19.9 289.8,19.6 286.8,18.6 284.7,17.5 282.0,15.6 280.8,14.2 279.9,12.6 279.4,10.6ZM226.1,69.2 226.9,69.1 228.9,69.2 231.9,69.9 233.9,70.8 235.9,72.5 236.9,74.1 237.5,76.1 238.4,80.1 238.3,82.1 237.7,84.1 236.5,86.0 235.6,87.0 234.1,88.0 231.9,88.6 229.9,88.7 227.9,88.5 226.6,88.0 224.9,86.8 224.9,69.8ZM231.9,78.0 230.9,77.9 229.9,78.6 228.7,80.1 227.7,82.1 227.6,83.1 227.9,84.2 228.8,85.0 229.9,85.3 230.9,85.2 231.9,84.8 232.7,84.1 233.3,83.1 233.5,82.1 233.4,80.1 232.9,78.9Z"/>
<path fill="#a2d52c" stroke="#a2d52c" stroke-width="0.6" fill-rule="evenodd" d="M283.7,10.6 283.6,8.6 301.6,8.6 301.5,9.6 300.8,11.3 298.8,13.5 295.8,15.4 292.8,16.3 291.8,16.4 289.8,16.1 288.2,15.6 286.8,14.8 284.8,13.0 284.0,11.6ZM231.9,78.0 232.9,78.9 233.4,80.1 233.5,82.1 233.3,83.1 232.7,84.1 231.9,84.8 230.9,85.2 229.9,85.3 228.8,85.0 227.9,84.2 227.6,83.1 227.7,82.1 228.7,80.1 229.9,78.6 230.9,77.9Z"/>
</g>
<rect x="224.9" y="8.6" width="131.8" height="97.3" fill="none" stroke="#222" stroke-width="1"/>
<path d="M224.9,105.9v5.2M224.9,105.9h-5.5M251.3,105.9v5.2M224.9,86.4h-5.5M277.6,105.9v5.2M224.9,67.0h-5.5M304.0,105.9v5.2M224.9,47.5h-5.5M330.3,105.9v5.2M224.9,28.1h-5.5M356.7,105.9v5.2M224.9,8.6h-5.5" stroke="#222" stroke-width="1" fill="none"/>
<text class="tk" x="223.9" y="124.0" text-anchor="middle">0.0</text>
<text class="tk" x="214.4" y="111.0" text-anchor="end">0.0</text>
<text class="tk" x="250.3" y="124.0" text-anchor="middle">0.2</text>
<text class="tk" x="214.4" y="91.5" text-anchor="end">0.2</text>
<text class="tk" x="276.6" y="124.0" text-anchor="middle">0.4</text>
<text class="tk" x="214.4" y="72.1" text-anchor="end">0.4</text>
<text class="tk" x="303.0" y="124.0" text-anchor="middle">0.6</text>
<text class="tk" x="214.4" y="52.6" text-anchor="end">0.6</text>
<text class="tk" x="329.3" y="124.0" text-anchor="middle">0.8</text>
<text class="tk" x="214.4" y="33.2" text-anchor="end">0.8</text>
<text class="tk" x="355.7" y="124.0" text-anchor="middle">1.0</text>
<text class="tk" x="214.4" y="13.7" text-anchor="end">1.0</text>
<text class="xl" x="290.5" y="135.4" text-anchor="middle">u (AirT)</text>
<text class="xl" transform="translate(194.2,58.2) rotate(-90)" text-anchor="middle">v (WB ET)</text>
<text class="pl" x="226.0" y="16.9">(b)</text>
</g>
<g>
<clipPath id="cpe"><rect x="406.2" y="8.6" width="131.8" height="97.3"/></clipPath>
<g clip-path="url(#cpe)">
<path fill="#ecf0e6" stroke="#ecf0e6" stroke-width="0.6" fill-rule="evenodd" d="M406.2,9.4 406.2,8.6 410.6,8.6ZM406.2,105.6 412.2,105.8 419.2,105.6 424.5,105.9 406.2,105.9Z"/>
<path fill="#e2e8e1" stroke="#e2e8e1" stroke-width="0.6" fill-rule="evenodd" d="M406.2,10.9 406.2,9.4 410.6,8.6 426.1,8.6 420.2,9.6ZM406.2,104.9 412.2,105.2 420.2,105.1 432.2,105.5 434.8,105.9 424.5,105.9 419.2,105.6 410.2,105.8 406.2,105.6Z"/>
<path fill="#d8e1dc" stroke="#d8e1dc" stroke-width="0.6" fill-rule="evenodd" d="M406.2,12.5 406.2,10.9 420.2,9.6 426.1,8.6 449.6,8.6 445.1,9.3 433.2,9.6 430.2,10.1 425.2,11.4 422.2,11.9 415.2,12.4ZM406.2,104.3 412.2,104.6 419.2,104.5 432.2,104.9 438.8,105.9 434.8,105.9 432.2,105.5 420.2,105.1 410.2,105.1 406.2,104.9Z"/>
<path fill="#ccd8d6" stroke="#ccd8d6" stroke-width="0.6" fill-rule="evenodd" d="M456.3,8.6 446.1,10.4 433.2,11.9 430.9,12.6 427.2,14.3 425.2,14.9 423.2,15.2 415.2,15.6 408.2,14.8 406.2,15.0 406.2,12.5 415.2,12.4 422.2,11.9 425.2,11.4 430.2,10.1 433.2,9.6 445.1,9.3 449.6,8.6ZM406.2,103.7 412.2,104.0 420.2,104.0 432.2,104.3 435.2,104.6 443.4,105.9 438.8,105.9 432.1,104.9 420.2,104.5 413.2,104.6 406.2,104.3Z"/>
<path fill="#c1cfd0" stroke="#c1cfd0" stroke-width="0.6" fill-rule="evenodd" d="M460.4,8.6 457.1,9.5 440.8,12.6 435.2,14.2 433.2,15.3 430.5,17.5 424.2,20.2 421.9,21.5 420.6,22.5 417.8,25.5 416.2,26.7 409.2,30.4 406.2,31.5 406.2,15.0 408.2,14.8 415.2,15.6 423.2,15.2 425.2,14.9 427.2,14.3 430.9,12.6 433.2,11.9 446.1,10.4 456.3,8.6ZM406.2,103.1 412.2,103.5 420.2,103.4 433.2,103.8 444.1,105.2 447.3,105.9 443.4,105.9 435.2,104.6 432.2,104.3 420.2,104.0 412.2,104.0 406.2,103.7Z"/>
<path fill="#b2c4c8" stroke="#b2c4c8" stroke-width="0.6" fill-rule="evenodd" d="M462.9,8.6 460.5,9.6 458.1,10.3 444.1,13.2 440.1,14.5 438.2,15.4 436.2,16.6 432.9,19.5 426.2,23.6 424.2,25.4 420.3,29.4 418.2,31.0 413.2,33.5 406.2,35.9 406.2,31.5 409.2,30.4 416.2,26.7 417.8,25.5 420.6,22.5 421.9,21.5 424.2,20.2 430.5,17.5 434.3,14.6 436.9,13.6 442.1,12.3 457.1,9.5 460.4,8.6ZM406.2,102.5 412.2,102.9 420.2,102.9 434.2,103.2 445.1,104.6 447.1,105.0 450.3,105.9 447.3,105.9 444.1,105.2 433.2,103.8 420.2,103.4 411.2,103.4 406.2,103.1Z"/>
<path fill="#a3b9c1" stroke="#a3b9c1" stroke-width="0.6" fill-rule="evenodd" d="M465.5,8.6 460.1,10.7 452.1,12.8 445.1,14.4 440.1,16.4 438.2,17.7 434.2,21.0 428.2,25.3 422.2,31.2 419.2,33.6 414.2,36.5 406.2,39.8 406.2,35.9 413.2,33.5 418.2,31.0 420.3,29.4 424.2,25.4 426.2,23.6 432.9,19.5 436.2,16.6 437.8,15.6 441.1,14.2 445.1,13.0 451.1,11.9 458.1,10.3 460.5,9.6 462.9,8.6ZM406.2,101.9 413.2,102.4 431.2,102.5 435.2,102.7 447.1,104.1 450.5,104.9 453.5,105.9 450.3,105.9 447.1,105.0 445.1,104.6 434.2,103.2 420.2,102.9 411.2,102.9 406.2,102.5Z"/>
<path fill="#92acb8" stroke="#92acb8" stroke-width="0.6" fill-rule="evenodd" d="M468.1,8.6 462.1,11.1 446.1,15.6 441.1,17.8 438.2,19.8 430.2,26.4 423.2,33.3 420.2,35.8 416.2,38.4 406.2,43.4 406.2,39.8 414.2,36.5 419.2,33.6 422.2,31.2 428.2,25.3 434.2,21.0 438.2,17.7 439.9,16.5 445.1,14.4 452.1,12.8 460.1,10.7 465.5,8.6ZM533.0,81.2 538.0,80.7 538.0,95.0 536.3,94.0 534.5,92.0 531.0,86.6 529.1,84.1 528.8,83.1 529.6,82.1ZM406.2,101.3 413.2,101.8 432.2,101.9 439.2,102.4 449.1,103.6 453.1,104.6 457.0,105.9 453.5,105.9 450.5,104.9 447.1,104.1 436.2,102.8 431.2,102.5 411.2,102.3 406.2,101.9Z"/>
<path fill="#819fb0" stroke="#819fb0" stroke-width="0.6" fill-rule="evenodd" d="M470.8,8.6 464.1,11.5 458.1,13.2 453.1,15.0 448.1,16.6 442.1,19.1 439.2,21.1 432.9,26.5 425.1,34.4 421.2,37.8 417.2,40.4 406.2,46.3 406.2,43.4 416.2,38.4 420.2,35.8 423.2,33.3 430.2,26.4 438.2,19.8 441.1,17.8 446.1,15.6 462.1,11.1 468.1,8.6ZM472.1,73.1 474.1,71.3 482.1,66.3 484.8,65.2 487.1,64.9 493.1,65.2 498.1,65.2 500.1,65.5 505.1,66.8 511.0,67.3 512.9,68.2 516.0,70.8 518.0,72.0 520.0,72.8 523.0,73.4 526.0,73.7 529.0,73.5 538.0,72.3 538.0,80.7 531.0,81.6 529.6,82.1 528.8,83.1 529.1,84.1 531.0,86.6 534.5,92.0 536.3,94.0 538.0,95.0 538.0,96.9 535.6,96.0 534.0,95.0 528.0,89.7 526.0,88.7 522.0,87.6 518.0,87.2 512.0,87.8 506.0,87.8 499.1,88.2 492.1,87.7 485.1,88.0 479.1,87.1 476.1,86.4 474.1,85.5 473.1,84.7 472.1,83.6 471.1,81.7 470.4,79.1 470.3,77.1 470.8,75.1ZM406.2,100.8 413.2,101.3 432.2,101.3 441.1,101.8 449.1,102.6 452.1,103.1 458.1,104.9 460.6,105.9 457.0,105.9 453.1,104.6 449.1,103.6 439.2,102.4 432.2,101.9 411.2,101.7 406.2,101.3Z"/>
<path fill="#7596aa" stroke="#7596aa" stroke-width="0.6" fill-rule="evenodd" d="M473.2,8.6 465.1,12.3 459.1,14.0 454.1,16.1 448.1,18.2 444.1,19.9 442.1,21.0 440.0,22.5 436.6,25.5 426.2,36.2 422.2,39.7 419.8,41.4 416.4,43.4 409.0,47.3 406.2,48.5 406.2,46.3 417.2,40.4 421.2,37.8 425.1,34.4 432.9,26.5 438.7,21.5 441.5,19.5 444.1,18.1 447.1,16.9 453.1,15.0 458.1,13.2 463.1,11.8 470.8,8.6ZM469.7,71.2 471.1,69.6 472.9,68.2 479.1,64.5 483.1,62.8 485.1,62.3 487.1,62.0 491.1,62.1 498.1,62.7 511.1,64.2 514.7,65.2 521.0,68.1 523.0,68.7 525.0,69.0 527.0,69.0 529.0,68.7 536.0,66.9 538.0,66.6 538.0,72.3 530.0,73.4 526.0,73.7 522.0,73.3 519.0,72.4 516.0,70.8 512.9,68.2 511.0,67.3 505.1,66.8 500.1,65.5 498.1,65.2 493.1,65.2 487.1,64.9 485.1,65.1 482.1,66.3 475.7,70.2 473.1,72.1 472.0,73.1 470.8,75.1 470.4,76.1 470.2,78.1 470.9,81.1 472.1,83.6 473.5,85.0 476.1,86.4 479.1,87.1 485.1,88.0 492.1,87.7 499.1,88.2 506.0,87.8 512.0,87.8 518.0,87.2 522.0,87.6 526.0,88.7 528.0,89.7 534.0,95.0 535.6,96.0 538.0,96.9 538.0,98.2 535.0,97.3 532.4,96.0 530.9,95.0 528.0,92.6 526.0,91.4 524.0,90.7 522.0,90.3 517.0,89.9 513.0,89.9 509.0,90.1 503.1,90.7 494.1,90.8 478.1,90.2 475.1,89.7 473.1,89.0 471.1,87.8 469.6,86.0 468.6,84.1 467.8,81.1 467.5,78.1 467.8,75.1 468.5,73.1ZM406.2,100.2 415.2,100.7 438.2,100.8 450.1,101.7 454.1,102.3 459.1,103.7 462.1,104.8 464.1,105.9 460.6,105.9 456.1,104.2 451.1,102.9 441.1,101.8 433.2,101.3 411.2,101.2 406.2,100.8Z"/>
<path fill="#698ca3" stroke="#698ca3" stroke-width="0.6" fill-rule="evenodd" d="M475.4,8.6 473.1,9.9 466.1,13.1 459.1,15.5 455.1,17.2 447.1,20.2 443.1,22.2 441.1,23.6 439.0,25.5 428.9,36.4 426.2,39.1 423.5,41.4 420.6,43.4 417.0,45.3 409.2,49.2 406.2,50.4 406.2,48.5 409.0,47.3 417.2,42.9 420.2,41.1 423.2,38.9 427.0,35.4 433.5,28.5 436.6,25.5 440.0,22.5 442.1,21.0 444.1,19.9 448.1,18.2 454.1,16.1 459.1,14.0 465.1,12.3 473.2,8.6ZM467.7,69.2 469.1,67.6 471.1,66.0 478.1,62.1 482.1,60.4 484.1,59.9 487.1,59.4 491.1,59.4 498.1,60.3 506.0,60.9 515.0,62.3 522.0,64.3 525.0,64.9 528.0,64.8 535.0,63.6 538.0,63.3 538.0,66.6 536.0,66.9 530.0,68.5 526.0,69.0 524.0,68.9 522.0,68.4 520.0,67.7 514.7,65.2 511.0,64.2 500.1,62.9 492.1,62.1 488.1,62.0 485.1,62.3 482.1,63.1 479.7,64.2 474.4,67.2 471.6,69.2 469.7,71.2 468.5,73.1 467.8,75.1 467.5,78.1 468.1,82.4 469.6,86.0 471.4,88.0 474.1,89.4 476.1,89.9 478.1,90.2 494.1,90.8 503.1,90.7 509.0,90.1 513.0,89.9 517.0,89.9 522.0,90.3 525.0,91.0 527.0,91.9 532.4,96.0 535.0,97.3 538.0,98.2 538.0,99.4 534.0,98.2 530.9,97.0 529.1,96.0 526.0,93.6 525.0,93.1 523.0,92.6 512.0,91.7 510.0,91.8 505.1,92.8 503.1,93.0 498.1,93.0 493.1,93.3 485.1,92.5 477.1,93.2 474.1,92.9 471.4,92.0 469.1,90.5 467.2,88.0 466.1,85.4 465.4,82.1 465.1,78.1 465.5,74.1 466.5,71.2ZM406.2,99.6 410.2,100.0 416.2,100.2 438.2,100.1 446.1,100.6 453.1,100.7 455.1,101.0 463.1,102.9 466.1,104.3 468.1,105.9 464.1,105.9 462.1,104.8 459.9,103.9 454.1,102.3 451.1,101.8 437.2,100.8 411.2,100.6 406.2,100.2Z"/>
<path fill="#5d839d" stroke="#5d839d" stroke-width="0.6" fill-rule="evenodd" d="M477.6,8.6 474.3,10.6 466.1,14.4 460.7,16.5 455.1,19.0 447.1,22.0 444.0,23.5 442.1,24.8 440.4,26.5 433.0,35.4 429.2,39.4 425.2,42.8 422.2,44.9 419.5,46.3 410.2,50.6 406.2,52.1 406.2,50.4 409.2,49.2 418.2,44.7 421.2,43.0 424.2,40.8 429.2,36.2 439.0,25.5 441.1,23.6 443.1,22.2 447.1,20.2 455.1,17.2 459.1,15.5 466.1,13.1 473.1,9.9 475.4,8.6ZM465.5,67.2 467.1,65.6 469.1,64.1 479.1,58.7 483.1,57.4 489.1,56.4 493.1,56.4 498.1,57.5 499.1,57.6 503.1,57.4 505.1,57.5 511.0,59.0 518.0,59.3 525.0,60.4 533.0,60.2 538.0,60.3 538.0,63.3 535.0,63.6 529.0,64.6 526.0,64.9 523.0,64.6 514.4,62.2 505.1,60.8 498.1,60.3 493.1,59.5 490.1,59.3 486.1,59.5 483.1,60.1 479.1,61.6 474.1,64.2 470.9,66.2 468.6,68.2 467.0,70.2 466.0,72.1 465.3,75.1 465.1,78.1 465.6,83.1 466.3,86.0 467.2,88.0 468.1,89.5 469.7,91.0 471.1,91.9 473.1,92.6 475.1,93.0 477.1,93.2 484.1,92.5 486.1,92.5 491.1,93.2 494.1,93.3 498.1,93.0 504.1,92.9 510.0,91.8 512.0,91.7 523.0,92.6 525.0,93.1 526.0,93.6 529.1,96.0 530.9,97.0 534.0,98.2 538.0,99.4 538.0,100.5 529.0,97.9 527.3,97.0 525.0,95.1 524.0,94.8 518.0,94.3 512.0,93.4 510.0,93.6 505.1,94.9 502.1,95.1 498.1,95.1 494.1,95.8 491.1,95.8 487.1,94.9 485.1,94.7 483.8,95.0 480.1,96.5 477.1,97.1 471.1,96.6 468.1,96.0 467.1,95.5 466.1,94.6 464.7,92.0 463.7,88.0 462.9,82.1 462.7,77.1 463.1,72.4 464.1,69.3ZM406.2,99.1 411.2,99.4 419.2,99.7 439.2,99.3 446.1,99.5 454.1,99.0 459.1,99.4 464.1,99.1 466.1,99.7 467.1,100.3 472.0,104.9 472.5,105.9 468.1,105.9 466.1,104.3 463.1,102.9 455.1,101.0 453.1,100.7 446.1,100.6 439.2,100.1 414.2,100.2 406.2,99.6Z"/>
<path fill="#517a97" stroke="#517a97" stroke-width="0.6" fill-rule="evenodd" d="M479.8,8.6 475.1,11.5 471.1,13.3 458.1,19.8 455.1,21.1 448.0,23.5 445.1,24.8 443.1,26.2 441.9,27.5 437.2,34.9 435.2,37.3 430.9,41.4 427.2,44.4 424.3,46.3 421.2,47.9 410.2,52.4 406.2,53.8 406.2,52.1 410.2,50.6 419.5,46.3 423.0,44.3 425.8,42.4 429.2,39.4 433.0,35.4 440.4,26.5 442.1,24.8 444.0,23.5 447.1,22.0 455.1,19.0 460.7,16.5 466.1,14.4 474.3,10.6 477.6,8.6ZM524.5,28.5 525.4,29.4 526.2,31.4 526.2,33.4 525.7,38.4 526.2,40.4 528.4,46.3 529.7,52.3 531.0,54.0 533.0,55.2 535.7,56.3 538.0,56.8 538.0,60.3 533.0,60.2 525.0,60.4 518.0,59.3 511.0,59.0 505.1,57.5 503.1,57.4 498.1,57.5 494.1,56.6 492.1,56.3 489.1,56.4 486.1,56.8 483.1,57.4 480.1,58.3 477.1,59.7 469.0,64.2 466.1,66.5 464.2,69.2 463.2,72.1 462.7,76.1 462.9,82.1 463.7,88.0 464.7,92.0 465.7,94.0 467.1,95.5 469.1,96.3 474.1,96.9 477.1,97.1 480.1,96.5 483.8,95.0 485.1,94.7 487.1,94.9 491.1,95.8 494.1,95.8 498.1,95.1 504.3,95.0 507.0,94.5 511.0,93.4 513.0,93.4 518.0,94.3 523.0,94.7 524.6,95.0 526.0,95.8 527.3,97.0 529.0,97.9 538.0,100.5 538.0,101.7 531.0,99.6 526.0,98.7 524.0,97.5 522.0,96.8 515.6,96.0 512.0,95.1 511.0,95.2 508.0,96.3 501.1,97.2 497.1,98.1 491.1,98.2 488.1,98.6 487.1,99.0 484.7,100.9 479.1,103.4 478.1,104.2 476.8,105.9 472.5,105.9 472.0,104.9 467.1,100.3 466.1,99.7 464.1,99.1 459.1,99.4 454.1,99.0 446.1,99.5 439.2,99.3 419.2,99.7 411.2,99.4 406.2,99.1 406.2,98.5 419.2,99.1 426.2,98.8 433.2,98.8 440.1,98.4 446.1,98.3 448.9,98.0 452.1,97.2 455.6,96.0 457.0,95.0 458.8,93.0 460.1,90.0 460.5,86.0 460.2,73.1 460.3,70.2 461.3,67.2 462.1,65.9 463.7,64.2 467.1,61.6 472.1,59.2 478.1,55.8 481.1,54.8 488.1,53.1 490.4,52.3 492.1,51.3 493.1,50.3 493.8,49.3 495.9,44.3 498.1,41.8 499.9,40.4 501.1,39.8 507.4,37.4 508.8,36.4 509.2,35.4 509.9,31.4 511.0,29.4 512.1,28.5 514.5,27.5 518.0,27.1 522.0,27.4Z"/>
<path fill="#467292" stroke="#467292" stroke-width="0.6" fill-rule="evenodd" d="M482.0,8.6 477.1,11.9 471.5,14.6 458.1,22.4 455.1,23.7 448.1,25.6 446.1,26.4 445.1,27.0 443.8,28.5 442.8,30.4 441.1,37.1 439.9,39.4 437.7,41.4 432.2,44.7 428.2,47.5 425.2,49.0 417.2,51.5 406.2,55.6 406.2,53.8 410.2,52.4 422.4,47.3 425.2,45.8 428.2,43.6 432.0,40.4 436.0,36.4 437.5,34.4 440.5,29.4 441.9,27.5 443.1,26.2 445.1,24.8 448.0,23.5 455.1,21.1 458.1,19.8 471.1,13.3 475.1,11.5 479.8,8.6ZM528.0,26.5 529.7,28.5 530.5,30.4 531.8,39.4 533.7,45.3 534.6,47.3 535.8,49.3 538.0,51.3 538.0,56.8 535.7,56.3 533.0,55.2 531.0,54.0 529.7,52.3 528.4,46.3 526.2,40.4 525.7,38.4 526.2,32.4 525.9,30.4 525.0,29.0 524.0,28.2 523.0,27.7 521.0,27.3 517.0,27.2 514.0,27.6 512.0,28.5 511.0,29.4 510.4,30.4 509.6,32.4 509.2,35.4 508.8,36.4 507.4,37.4 502.1,39.3 500.1,40.3 497.5,42.4 495.4,45.3 493.8,49.3 493.1,50.3 492.1,51.3 490.4,52.3 488.1,53.1 481.1,54.8 478.1,55.8 472.1,59.2 467.1,61.6 464.8,63.2 462.7,65.2 461.9,66.2 460.8,68.2 460.2,71.2 460.5,86.0 460.1,90.0 458.8,93.0 456.1,95.6 453.2,97.0 448.9,98.0 446.1,98.3 440.1,98.4 433.2,98.8 426.2,98.8 419.2,99.1 406.2,98.5 406.2,97.9 419.2,98.6 426.2,98.2 433.2,98.2 440.1,97.3 446.1,96.9 449.5,96.0 451.6,95.0 453.1,93.9 454.9,92.0 456.1,90.0 457.1,87.0 457.4,84.1 457.5,78.1 456.4,70.2 456.3,67.2 456.7,65.2 457.2,64.2 459.0,62.2 465.1,57.3 469.8,54.3 472.1,52.4 473.1,51.8 475.1,51.3 483.1,50.6 485.1,50.1 487.1,49.1 488.7,47.3 491.2,42.4 493.4,39.4 496.1,37.0 501.1,33.4 503.0,31.4 506.1,27.5 507.3,26.5 509.0,25.5 511.0,24.7 513.0,24.3 520.0,24.4 523.0,24.6 525.0,25.0 526.3,25.5ZM538.0,101.7 538.0,103.0 535.0,101.8 531.0,100.6 529.0,100.3 525.0,100.1 522.0,98.6 519.0,97.8 516.0,97.8 511.0,98.6 508.0,98.1 505.1,98.1 502.1,98.6 498.1,99.9 493.1,99.8 490.1,100.4 488.1,101.4 480.9,105.9 476.8,105.9 478.1,104.2 479.1,103.4 484.7,100.9 487.1,99.0 488.1,98.6 491.1,98.2 497.1,98.1 501.1,97.2 508.0,96.3 511.0,95.2 512.0,95.1 515.6,96.0 522.0,96.8 524.0,97.5 526.0,98.7 531.0,99.6Z"/>
<path fill="#3c6a8c" stroke="#3c6a8c" stroke-width="0.6" fill-rule="evenodd" d="M531.3,25.5 532.2,26.5 533.3,28.5 536.0,38.4 538.0,42.8 538.0,51.3 535.8,49.3 534.6,47.3 533.7,45.3 531.8,39.4 530.5,30.4 529.7,28.5 528.0,26.5 526.0,25.4 524.0,24.8 522.0,24.5 514.0,24.3 512.0,24.5 510.0,25.0 508.0,26.0 506.1,27.5 502.1,32.5 500.1,34.2 496.1,37.0 493.4,39.4 491.2,42.4 488.7,47.3 487.1,49.1 485.1,50.1 483.1,50.6 475.1,51.3 473.1,51.8 472.1,52.4 469.8,54.3 465.1,57.3 458.0,63.2 456.7,65.2 456.3,67.2 456.4,70.2 457.4,77.1 457.3,86.0 456.8,88.0 456.1,90.0 454.9,92.0 453.0,94.0 451.6,95.0 449.5,96.0 446.1,96.9 439.2,97.4 434.2,98.1 426.2,98.2 419.2,98.6 406.2,97.9 406.2,97.3 419.2,98.0 426.2,97.4 432.2,97.5 435.2,97.1 444.1,95.5 446.3,95.0 448.2,94.0 449.5,93.0 450.5,92.0 451.9,90.0 453.4,86.0 454.0,82.1 454.0,78.1 453.2,74.1 452.1,71.2 450.1,67.9 446.0,63.2 443.1,60.7 441.1,59.4 439.2,58.4 437.2,57.8 433.2,56.9 432.1,56.3 429.2,53.4 427.2,52.6 425.2,52.4 421.2,52.5 418.2,53.1 406.2,57.5 406.2,55.6 417.2,51.5 426.2,48.6 428.2,47.5 432.2,44.7 438.2,41.0 439.9,39.4 441.1,37.4 442.1,32.4 443.2,29.4 444.6,27.5 446.0,26.5 448.1,25.6 454.1,24.0 457.1,22.9 471.5,14.6 477.1,11.9 482.0,8.6 484.3,8.6 478.1,13.0 473.1,15.6 469.8,17.5 458.1,26.1 456.1,26.8 449.0,28.5 447.3,29.4 446.7,30.4 446.6,32.4 447.3,34.4 450.1,40.3 451.1,41.7 452.1,42.6 453.3,43.4 455.1,44.0 463.1,45.9 466.1,46.3 472.1,45.7 479.1,46.0 481.1,45.8 483.1,45.0 484.1,44.1 486.3,40.4 488.0,38.4 498.8,30.4 499.8,29.4 501.8,26.5 502.8,25.5 504.4,24.5 507.0,23.5 510.0,22.6 512.0,22.3 523.0,22.7 525.0,22.9 527.4,23.5 529.8,24.5ZM538.0,103.0 538.0,104.2 535.0,102.8 532.0,101.7 529.0,101.1 525.0,101.0 521.0,99.4 519.0,99.0 516.0,99.0 512.0,100.2 511.0,100.2 508.0,99.4 505.1,99.2 502.1,99.7 498.1,101.0 494.1,101.0 492.1,101.3 489.1,102.5 484.1,105.9 480.9,105.9 488.1,101.4 490.1,100.4 493.1,99.8 498.1,99.9 502.1,98.6 505.1,98.1 508.0,98.1 511.0,98.6 516.0,97.8 519.0,97.8 522.0,98.6 525.0,100.1 529.0,100.3 531.0,100.6 535.0,101.8Z"/>
<path fill="#427086" stroke="#427086" stroke-width="0.6" fill-rule="evenodd" d="M446.7,30.4 447.3,29.4 449.0,28.5 456.1,26.8 458.1,26.1 460.1,24.8 465.6,20.5 471.4,16.5 478.1,13.0 484.3,8.6 486.0,8.6 485.1,9.5 482.2,11.6 478.1,15.2 473.1,18.0 470.9,19.5 466.3,23.5 460.4,29.4 455.9,32.4 455.1,33.4 454.7,34.4 454.6,35.4 455.2,37.4 455.8,38.4 457.1,39.6 458.3,40.4 461.1,41.4 464.1,42.1 467.1,42.6 470.1,42.7 473.1,42.7 477.1,42.1 478.8,41.4 480.1,40.5 484.1,36.4 489.1,33.0 492.2,30.4 495.2,27.5 497.3,24.5 498.2,23.5 499.1,23.0 500.7,22.5 505.1,22.0 511.0,20.8 513.0,20.7 524.0,21.2 526.5,21.5 531.0,22.7 532.9,23.5 534.3,24.5 535.7,26.5 538.0,32.1 538.0,42.8 536.0,38.4 533.7,29.4 532.2,26.5 531.0,25.3 529.0,24.1 527.0,23.4 524.0,22.8 515.0,22.3 512.0,22.3 509.0,22.9 504.4,24.5 502.8,25.5 502.1,26.2 500.1,29.1 498.8,30.4 488.0,38.4 486.3,40.4 483.8,44.3 482.1,45.5 480.1,45.9 477.1,46.0 472.1,45.7 467.1,46.2 465.1,46.2 463.1,45.9 455.1,44.0 453.3,43.4 452.1,42.6 451.1,41.7 449.6,39.4 446.9,33.4 446.5,31.4ZM406.2,57.5 418.2,53.1 422.2,52.4 426.2,52.5 428.2,52.9 429.2,53.4 432.1,56.3 433.2,56.9 437.2,57.8 439.2,58.4 442.1,60.0 444.1,61.5 449.1,66.6 451.1,69.4 452.9,73.1 453.9,77.1 454.0,82.1 453.1,87.1 452.4,89.0 451.3,91.0 449.5,93.0 448.2,94.0 446.3,95.0 445.1,95.3 433.2,97.4 426.2,97.4 419.2,98.0 406.2,97.3 406.2,96.5 419.2,97.3 426.2,96.6 433.2,96.5 435.6,96.0 443.1,93.5 444.3,93.0 445.7,92.0 447.2,90.0 449.3,84.1 449.9,81.1 450.0,79.1 449.6,76.1 448.3,73.1 446.9,71.2 440.6,64.2 437.8,62.2 431.2,59.5 425.2,55.9 422.2,55.0 419.2,55.1 416.2,55.9 406.2,59.6ZM538.0,104.2 538.0,105.4 534.0,103.3 531.0,102.2 528.0,101.7 525.0,101.5 521.0,100.2 519.0,99.8 516.0,99.9 512.0,101.0 511.0,101.0 507.0,100.2 505.1,100.1 503.1,100.3 498.1,101.7 495.1,101.8 492.1,102.4 489.1,103.8 486.2,105.9 484.1,105.9 489.1,102.5 491.1,101.6 494.1,101.0 498.1,101.0 502.1,99.7 505.1,99.2 508.0,99.4 511.0,100.2 512.0,100.2 516.0,99.0 518.0,98.9 520.0,99.1 525.0,101.0 529.0,101.1 532.0,101.7 535.0,102.8Z"/>
<path fill="#477681" stroke="#477681" stroke-width="0.6" fill-rule="evenodd" d="M454.6,35.4 454.7,34.4 455.1,33.4 455.9,32.4 460.4,29.4 468.5,21.5 472.3,18.5 478.1,15.2 482.2,11.6 485.1,9.5 486.0,8.6 487.4,8.6 486.1,10.2 483.0,12.6 481.6,14.6 480.0,17.5 478.1,19.1 474.1,21.5 471.8,23.5 466.4,29.4 463.6,33.4 463.2,35.4 463.6,36.4 464.6,37.4 466.3,38.4 469.1,39.4 471.1,39.7 473.1,39.6 474.1,39.4 476.2,38.4 481.1,34.2 487.1,29.8 488.1,28.5 490.2,24.5 491.2,23.5 494.4,21.5 496.6,20.5 498.1,20.1 504.1,20.4 512.0,19.5 518.0,19.9 526.0,20.1 530.0,20.7 534.0,21.6 536.1,22.5 538.0,24.4 538.0,32.1 535.7,26.5 534.3,24.5 532.0,23.1 529.0,22.1 526.5,21.5 524.0,21.2 512.0,20.7 505.1,22.0 500.1,22.6 498.2,23.5 497.3,24.5 495.2,27.5 493.3,29.4 489.8,32.4 484.1,36.4 480.1,40.5 478.1,41.7 475.1,42.5 471.1,42.7 467.1,42.6 464.1,42.1 460.1,41.1 458.1,40.3 456.1,38.7 455.2,37.4ZM418.2,55.3 421.2,55.0 424.2,55.5 426.2,56.4 431.2,59.5 436.2,61.4 438.2,62.4 440.6,64.2 442.5,66.2 447.6,72.1 449.3,75.1 450.0,78.1 449.8,82.1 448.0,88.0 446.6,91.0 445.1,92.4 443.1,93.5 434.2,96.3 432.2,96.6 426.2,96.6 419.2,97.3 406.2,96.5 406.2,95.7 419.2,96.6 426.2,95.6 432.2,95.6 433.2,95.4 436.8,94.0 440.2,92.0 442.1,90.0 442.9,88.0 445.2,80.1 445.4,78.1 445.1,76.6 444.0,74.1 440.6,69.2 438.1,66.2 436.2,64.5 434.2,63.4 428.8,61.2 423.2,58.5 420.2,57.6 419.2,57.6 417.2,58.1 406.2,61.9 406.2,59.6ZM538.0,105.4 538.0,105.9 537.1,105.9 533.6,103.9 530.0,102.7 528.0,102.3 525.0,102.0 520.0,100.7 518.0,100.5 516.0,100.7 512.0,101.5 511.0,101.5 506.0,100.8 503.1,101.1 499.1,102.1 495.1,102.6 493.1,103.0 490.1,104.4 487.9,105.9 486.2,105.9 490.1,103.2 493.1,102.1 495.1,101.8 498.1,101.7 504.1,100.2 507.0,100.2 511.0,101.0 512.0,101.0 515.0,100.1 518.0,99.8 521.0,100.2 525.0,101.5 528.0,101.7 531.0,102.2 534.0,103.3Z"/>
<path fill="#4e7e7a" stroke="#4e7e7a" stroke-width="0.6" fill-rule="evenodd" d="M463.2,35.4 463.2,34.4 464.1,32.4 468.1,27.5 473.1,22.3 475.1,20.9 479.1,18.4 480.1,17.4 481.6,14.6 483.0,12.6 486.1,10.2 487.4,8.6 488.8,8.6 487.4,10.6 484.9,12.6 484.2,13.6 484.0,14.6 484.1,15.2 485.1,16.5 488.1,18.4 490.1,19.2 493.1,19.3 498.1,18.5 504.1,19.2 512.0,18.4 518.0,18.8 525.0,18.9 535.0,20.0 537.0,20.5 538.0,21.1 538.0,24.4 536.1,22.5 534.0,21.6 530.0,20.7 526.0,20.1 518.0,19.9 512.0,19.5 504.1,20.4 498.1,20.1 496.6,20.5 494.4,21.5 491.2,23.5 490.2,24.5 488.1,28.5 487.1,29.8 481.1,34.2 477.1,37.8 475.1,39.0 474.0,39.4 472.1,39.7 469.1,39.4 466.3,38.4 464.6,37.4 463.6,36.4ZM418.2,57.8 420.2,57.6 422.2,58.1 428.8,61.2 434.2,63.4 436.2,64.5 438.1,66.2 439.9,68.2 443.4,73.1 445.0,76.1 445.4,78.1 445.2,80.1 442.9,88.0 442.1,90.0 440.2,92.0 438.7,93.0 434.6,95.0 432.2,95.6 426.2,95.6 419.2,96.6 406.2,95.7 406.2,94.5 408.2,94.9 413.2,95.1 419.2,95.7 426.2,94.4 432.0,94.0 434.2,93.0 435.4,92.0 436.7,90.0 437.0,89.0 437.3,85.0 439.0,79.1 439.1,76.1 438.4,73.1 437.1,70.2 435.9,68.2 434.2,66.4 433.2,65.7 431.2,64.8 422.2,62.2 419.2,61.6 417.2,61.7 413.2,62.3 409.2,63.4 406.2,64.5 406.2,61.9ZM487.9,105.9 490.1,104.4 493.1,103.0 495.1,102.6 499.1,102.1 503.1,101.1 506.0,100.8 511.0,101.5 512.0,101.5 516.0,100.7 518.0,100.5 520.0,100.7 525.0,102.0 528.0,102.3 530.0,102.7 533.6,103.9 537.1,105.9 535.6,105.9 532.0,104.0 529.0,103.0 524.0,102.3 520.0,101.3 518.0,101.2 516.0,101.3 512.0,102.0 506.0,101.5 503.1,101.7 494.1,103.5 492.1,104.3 489.4,105.9Z"/>
<path fill="#558574" stroke="#558574" stroke-width="0.6" fill-rule="evenodd" d="M484.0,14.6 484.2,13.6 484.9,12.6 487.4,10.6 488.8,8.6 490.1,8.6 489.1,10.9 487.3,13.6 487.5,14.6 488.6,15.6 490.1,16.4 492.1,17.1 494.1,17.4 499.1,17.5 504.1,18.1 512.0,17.6 518.0,17.9 525.0,17.9 535.0,18.6 538.0,19.1 538.0,21.1 537.0,20.5 535.0,20.0 525.0,18.9 518.0,18.8 512.0,18.4 504.1,19.2 498.1,18.5 494.1,19.2 491.1,19.3 489.1,18.9 485.1,16.5 484.2,15.6ZM406.2,64.5 409.2,63.4 413.2,62.3 417.2,61.7 419.2,61.6 422.2,62.2 431.2,64.8 433.2,65.7 435.1,67.2 436.6,69.2 438.0,72.1 438.9,75.1 439.1,78.1 438.8,80.1 437.3,85.0 437.0,89.0 436.7,90.0 435.4,92.0 434.2,93.0 433.2,93.6 432.0,94.0 426.2,94.4 419.2,95.7 413.2,95.1 408.2,94.9 406.2,94.5 406.2,92.6 407.2,93.2 409.2,93.6 418.2,94.4 420.2,94.3 428.4,92.0 430.1,91.0 430.6,90.0 430.4,85.0 432.8,78.1 433.4,74.1 433.2,72.1 432.5,70.2 431.8,69.2 430.2,68.1 426.2,67.1 419.2,66.5 416.2,65.8 414.2,65.6 412.2,65.6 410.2,65.9 406.2,67.3ZM489.4,105.9 492.1,104.3 494.1,103.5 503.1,101.7 506.0,101.5 512.0,102.0 516.0,101.3 518.0,101.2 520.0,101.3 524.0,102.3 530.0,103.3 533.0,104.4 535.6,105.9 534.3,105.9 531.0,104.3 528.0,103.4 520.0,101.9 518.0,101.8 512.0,102.4 506.0,102.1 503.1,102.3 495.1,103.9 493.1,104.7 490.9,105.9Z"/>
<path fill="#5e8f6b" stroke="#5e8f6b" stroke-width="0.6" fill-rule="evenodd" d="M487.3,13.6 489.1,10.9 490.1,8.6 491.5,8.6 490.7,11.6 490.9,13.6 492.1,14.9 493.1,15.6 495.1,16.2 504.1,17.1 512.0,16.8 518.0,17.0 525.0,17.0 536.0,17.4 538.0,17.7 538.0,19.1 535.0,18.6 525.0,17.9 518.0,17.9 512.0,17.6 504.1,18.1 498.1,17.5 494.1,17.4 491.1,16.8 489.1,15.8 487.5,14.6ZM406.2,67.3 409.2,66.2 411.2,65.8 413.2,65.6 415.2,65.6 419.2,66.5 424.2,66.8 427.2,67.2 430.2,68.1 431.8,69.2 432.5,70.2 433.2,72.1 433.4,75.1 432.8,78.1 430.4,85.0 430.6,90.0 430.1,91.0 428.4,92.0 421.6,94.0 419.2,94.4 409.2,93.6 407.2,93.2 406.2,92.6 406.2,87.5 407.2,89.8 408.2,90.9 409.2,91.4 411.8,92.0 417.2,92.4 419.2,92.3 421.2,91.6 422.4,91.0 423.7,90.0 424.5,89.0 425.0,88.0 427.5,79.1 427.8,76.1 427.5,74.1 427.0,73.1 426.1,72.1 424.3,71.2 422.2,70.5 416.2,69.2 413.2,68.8 411.2,68.9 409.2,69.2 406.2,70.3ZM534.3,105.9 532.9,105.9 530.0,104.5 527.0,103.7 520.0,102.5 518.0,102.3 512.0,102.8 507.0,102.6 504.1,102.7 497.1,104.0 494.2,104.9 492.3,105.9 490.9,105.9 493.1,104.7 495.1,103.9 503.1,102.3 506.0,102.1 512.0,102.4 518.0,101.8 521.0,102.1 529.0,103.6 532.0,104.7Z"/>
<path fill="#689962" stroke="#689962" stroke-width="0.6" fill-rule="evenodd" d="M491.5,8.6 492.9,8.6 492.6,11.6 492.8,12.6 493.4,13.6 494.5,14.6 497.1,15.6 500.1,15.9 504.1,16.1 512.0,16.1 536.0,16.4 538.0,16.6 538.0,17.7 536.0,17.4 525.0,17.0 518.0,17.0 512.0,16.8 503.1,17.0 495.1,16.2 493.1,15.6 492.1,14.9 490.9,13.6 490.7,11.6ZM409.2,69.2 411.2,68.9 414.2,68.9 422.2,70.5 425.2,71.6 426.2,72.2 427.2,73.4 427.8,75.1 427.7,78.1 425.0,88.0 424.5,89.0 423.7,90.0 422.4,91.0 420.2,92.1 419.2,92.3 417.2,92.4 412.2,92.0 410.2,91.7 408.2,90.9 407.3,90.0 406.2,87.5 406.2,81.1 411.2,87.0 412.2,87.7 413.2,88.0 414.2,87.8 415.2,87.2 417.7,84.1 421.1,81.1 422.2,79.4 422.6,78.1 422.3,76.1 421.7,75.1 420.2,73.9 417.2,72.9 414.2,72.4 411.2,72.4 408.2,73.1 406.2,74.4 406.2,70.3ZM492.3,105.9 494.2,104.9 496.1,104.2 503.1,102.9 506.0,102.6 512.0,102.8 518.0,102.3 521.0,102.6 528.0,103.9 530.0,104.5 532.9,105.9 531.7,105.9 529.0,104.7 526.1,103.9 521.0,103.1 518.0,102.8 512.0,103.2 507.0,103.1 504.1,103.3 498.1,104.3 495.8,104.9 493.7,105.9Z"/>
<path fill="#70a25a" stroke="#70a25a" stroke-width="0.6" fill-rule="evenodd" d="M492.9,8.6 494.3,8.6 494.3,11.6 494.7,12.6 495.5,13.6 497.0,14.6 498.1,14.9 500.1,15.1 536.0,15.5 538.0,15.7 538.0,16.6 535.0,16.4 525.0,16.2 503.1,16.1 497.1,15.6 494.5,14.6 493.4,13.6 492.8,12.6 492.6,11.6ZM411.2,72.4 413.2,72.4 415.2,72.6 419.2,73.5 420.5,74.1 421.7,75.1 422.3,76.1 422.6,77.1 422.3,79.1 421.1,81.1 417.7,84.1 415.2,87.2 414.2,87.8 413.2,88.0 412.2,87.7 411.2,87.0 406.2,81.1 406.2,74.4 408.2,73.1ZM531.7,105.9 530.4,105.9 528.0,104.9 525.0,104.1 520.0,103.4 517.0,103.3 504.1,103.8 499.1,104.5 497.1,105.0 495.0,105.9 493.7,105.9 497.1,104.5 503.1,103.4 506.0,103.1 512.0,103.2 518.0,102.8 521.0,103.1 527.0,104.1 529.5,104.9Z"/>
<path fill="#79aa52" stroke="#79aa52" stroke-width="0.6" fill-rule="evenodd" d="M494.3,8.6 495.8,8.6 495.8,10.6 496.5,12.6 497.4,13.6 499.1,14.1 512.0,14.6 536.0,14.6 538.0,14.8 538.0,15.7 534.0,15.4 500.1,15.1 498.1,14.9 496.1,14.0 494.7,12.6 494.2,10.6ZM495.0,105.9 498.1,104.7 504.1,103.8 517.0,103.3 520.0,103.4 525.0,104.1 528.0,104.9 530.4,105.9 529.2,105.9 527.0,105.0 525.0,104.5 520.0,103.9 517.0,103.8 505.1,104.2 499.1,105.0 496.3,105.9Z"/>
<path fill="#80b24a" stroke="#80b24a" stroke-width="0.6" fill-rule="evenodd" d="M495.8,8.6 497.5,8.6 497.6,10.6 498.1,12.0 498.6,12.6 500.1,13.0 512.0,13.9 536.0,13.8 538.0,13.9 538.0,14.8 534.0,14.5 512.0,14.6 499.1,14.1 497.4,13.6 496.5,12.6 495.8,10.6ZM496.3,105.9 499.1,105.0 505.1,104.2 517.0,103.8 520.0,103.9 525.0,104.5 527.0,105.0 529.2,105.9 528.0,105.9 526.0,105.2 524.0,104.7 519.0,104.3 516.0,104.2 507.0,104.5 500.1,105.4 497.7,105.9Z"/>
<path fill="#88ba43" stroke="#88ba43" stroke-width="0.6" fill-rule="evenodd" d="M497.5,8.6 499.4,8.6 500.0,10.6 501.7,11.6 509.0,12.8 513.0,13.1 536.0,12.9 538.0,13.1 538.0,13.9 534.0,13.7 512.0,13.9 500.1,13.0 498.6,12.6 498.1,12.0 497.6,10.6ZM497.7,105.9 500.1,105.4 506.0,104.6 511.0,104.3 519.0,104.3 524.0,104.7 526.0,105.2 528.0,105.9 526.8,105.9 525.0,105.3 522.0,105.0 518.0,104.7 512.0,104.6 507.0,105.0 499.9,105.9Z"/>
<path fill="#8dc03e" stroke="#8dc03e" stroke-width="0.6" fill-rule="evenodd" d="M499.4,8.6 501.4,8.6 502.2,9.6 503.9,10.6 507.7,11.6 511.0,12.1 524.0,12.3 536.0,12.2 538.0,12.3 538.0,13.1 533.0,12.9 513.0,13.1 510.0,12.9 503.1,11.9 501.1,11.3 500.0,10.6ZM499.9,105.9 507.0,105.0 512.0,104.6 518.0,104.7 523.0,105.1 525.0,105.3 526.8,105.9 520.0,105.3 512.0,105.0 503.6,105.9Z"/>
<path fill="#92c539" stroke="#92c539" stroke-width="0.6" fill-rule="evenodd" d="M501.4,8.6 503.8,8.6 505.4,9.6 507.0,10.2 510.0,11.0 512.0,11.3 524.0,11.5 536.0,11.4 538.0,11.5 538.0,12.3 534.0,12.1 524.0,12.3 511.0,12.1 507.7,11.6 503.9,10.6 502.2,9.6ZM503.6,105.9 512.0,105.0 524.0,105.6 525.6,105.9 512.0,105.3 507.0,105.9Z"/>
<path fill="#96c936" stroke="#96c936" stroke-width="0.6" fill-rule="evenodd" d="M503.8,8.6 506.6,8.6 510.0,10.0 513.0,10.4 524.0,10.7 532.0,10.5 538.0,10.7 538.0,11.5 533.0,11.3 524.0,11.5 512.0,11.3 510.0,11.0 507.0,10.2 505.4,9.6ZM507.0,105.9 512.0,105.3 522.8,105.9 515.2,105.9 512.0,105.7Z"/>
<path fill="#9acd32" stroke="#9acd32" stroke-width="0.6" fill-rule="evenodd" d="M506.6,8.6 509.7,8.6 512.0,9.3 514.0,9.5 523.0,9.9 532.0,9.7 538.0,9.9 538.0,10.7 532.0,10.5 524.0,10.7 513.0,10.4 510.0,10.0ZM510.0,105.9 512.0,105.7 515.2,105.9Z"/>
<path fill="#9ed12f" stroke="#9ed12f" stroke-width="0.6" fill-rule="evenodd" d="M509.7,8.6 516.8,8.6 525.0,9.0 531.0,8.8 538.0,9.0 538.0,9.9 532.0,9.7 524.0,9.9 515.0,9.5 512.0,9.3Z"/>
<path fill="#a2d52c" stroke="#a2d52c" stroke-width="0.6" fill-rule="evenodd" d="M516.8,8.6 538.0,8.6 538.0,9.0 532.0,8.8 524.0,9.0Z"/>
</g>
<rect x="406.2" y="8.6" width="131.8" height="97.3" fill="none" stroke="#222" stroke-width="1"/>
<path d="M406.2,105.9v5.2M406.2,105.9h-5.5M432.6,105.9v5.2M406.2,86.4h-5.5M458.9,105.9v5.2M406.2,67.0h-5.5M485.3,105.9v5.2M406.2,47.5h-5.5M511.6,105.9v5.2M406.2,28.1h-5.5M538.0,105.9v5.2M406.2,8.6h-5.5" stroke="#222" stroke-width="1" fill="none"/>
<text class="tk" x="405.2" y="124.0" text-anchor="middle">0.0</text>
<text class="tk" x="395.7" y="111.0" text-anchor="end">0.0</text>
<text class="tk" x="431.6" y="124.0" text-anchor="middle">0.2</text>
<text class="tk" x="395.7" y="91.5" text-anchor="end">0.2</text>
<text class="tk" x="457.9" y="124.0" text-anchor="middle">0.4</text>
<text class="tk" x="395.7" y="72.1" text-anchor="end">0.4</text>
<text class="tk" x="484.3" y="124.0" text-anchor="middle">0.6</text>
<text class="tk" x="395.7" y="52.6" text-anchor="end">0.6</text>
<text class="tk" x="510.6" y="124.0" text-anchor="middle">0.8</text>
<text class="tk" x="395.7" y="33.2" text-anchor="end">0.8</text>
<text class="tk" x="537.0" y="124.0" text-anchor="middle">1.0</text>
<text class="tk" x="395.7" y="13.7" text-anchor="end">1.0</text>
<text class="xl" x="471.8" y="135.4" text-anchor="middle">u (ClayF)</text>
<text class="xl" transform="translate(375.5,58.2) rotate(-90)" text-anchor="middle">v (WB ET)</text>
<text class="pl b" x="408.2" y="17.2">(e)</text>
</g>
<g>
<clipPath id="cpc"><rect x="224.9" y="141.5" width="131.8" height="97.3"/></clipPath>
<g clip-path="url(#cpc)">
<path fill="#fffff0" stroke="#fffff0" stroke-width="0.6" fill-rule="evenodd" d="M325.6,141.5 356.7,141.5 356.7,158.8 353.7,154.7 352.7,153.8 350.7,152.9 344.7,152.0 342.9,151.4 341.5,150.4 336.7,146.0 333.7,144.0 330.6,142.5Z"/>
<path fill="#f6f8eb" stroke="#f6f8eb" stroke-width="0.6" fill-rule="evenodd" d="M321.3,141.5 325.6,141.5 330.7,142.5 333.7,144.0 335.7,145.3 337.7,146.9 341.5,150.4 342.9,151.4 344.7,152.0 349.7,152.7 352.0,153.4 353.7,154.7 356.7,158.8 356.7,160.4 355.5,159.4 352.7,156.1 350.7,154.6 348.7,153.8 343.7,152.6 342.7,152.2 341.3,151.4 334.7,146.8 329.7,143.8 326.7,142.8Z"/>
<path fill="#ecf0e6" stroke="#ecf0e6" stroke-width="0.6" fill-rule="evenodd" d="M319.0,141.5 321.3,141.5 326.7,142.8 329.7,143.8 334.7,146.8 341.3,151.4 342.7,152.2 343.7,152.6 348.7,153.8 350.7,154.6 352.7,156.1 355.5,159.4 356.7,160.4 356.7,161.4 355.2,160.4 351.7,156.7 349.7,155.3 347.7,154.5 343.7,153.3 341.5,152.4 328.4,144.5 325.7,143.5Z"/>
<path fill="#e2e8e1" stroke="#e2e8e1" stroke-width="0.6" fill-rule="evenodd" d="M317.7,141.5 319.0,141.5 327.7,144.2 329.7,145.2 341.5,152.4 343.7,153.3 347.7,154.5 349.7,155.3 351.7,156.7 355.2,160.4 356.7,161.4 356.7,162.0 355.4,161.4 350.7,157.0 348.7,155.8 346.7,154.9 342.7,153.6 340.1,152.4 332.8,148.4 328.7,145.8 326.7,144.8 324.7,144.0 319.8,142.4ZM224.9,144.0 231.7,154.4 232.0,155.4 231.9,156.4 230.9,157.0 224.9,157.3ZM305.2,221.9 306.1,220.9 306.8,220.5 308.8,219.7 311.8,219.6 314.0,219.9 316.8,221.1 319.2,222.9 319.8,223.9 320.1,224.9 319.8,225.9 318.6,226.9 316.8,227.4 315.8,227.5 310.8,227.2 307.8,226.8 305.8,225.9 305.1,224.9 304.7,223.9 304.8,222.9Z"/>
<path fill="#d8e1dc" stroke="#d8e1dc" stroke-width="0.6" fill-rule="evenodd" d="M224.9,141.5 226.5,141.5 231.9,147.7 238.3,153.4 239.8,155.4 240.9,157.4 241.4,159.4 241.3,161.4 240.9,162.9 240.1,164.3 238.9,165.8 237.9,166.7 235.9,167.8 233.9,168.4 231.9,168.4 230.9,168.3 224.9,166.0 224.9,157.3 230.9,157.0 231.9,156.4 232.0,155.4 231.2,153.4 224.9,144.0ZM316.8,141.5 317.7,141.5 319.8,142.4 324.7,144.0 326.7,144.8 328.7,145.8 332.8,148.4 340.1,152.4 342.7,153.6 346.7,154.9 348.7,155.8 350.7,157.0 355.4,161.4 356.7,162.0 356.7,162.7 354.3,161.4 350.7,158.0 348.3,156.4 340.7,153.4 332.6,149.4 326.4,145.5 323.8,144.3 318.8,142.7ZM301.1,218.9 302.1,217.9 303.8,217.0 306.8,216.3 308.8,216.2 311.8,216.4 315.8,217.4 317.8,218.2 320.7,219.9 323.3,221.9 325.0,223.9 325.6,225.9 325.5,226.9 325.0,227.9 323.8,228.9 322.8,229.3 320.8,229.9 317.8,230.2 308.8,229.7 305.8,229.3 304.2,228.9 302.8,228.0 301.8,226.9 300.3,223.9 300.2,220.9ZM305.2,221.9 304.8,222.9 304.7,223.9 305.1,224.9 305.8,225.9 307.8,226.8 310.8,227.2 315.8,227.5 316.8,227.4 318.6,226.9 319.8,225.9 320.1,224.9 319.8,223.9 319.2,222.9 316.8,221.1 314.0,219.9 311.8,219.6 308.8,219.7 306.8,220.5 306.1,220.9Z"/>
<path fill="#ccd8d6" stroke="#ccd8d6" stroke-width="0.6" fill-rule="evenodd" d="M226.5,141.5 229.2,141.5 233.9,146.4 239.9,151.4 243.7,155.4 244.9,157.4 245.6,159.4 245.8,162.3 245.2,165.3 243.9,168.9 242.5,171.3 240.9,172.9 238.9,174.1 236.9,174.8 233.9,175.4 227.9,175.7 224.9,175.1 224.9,166.0 229.9,168.0 231.9,168.4 233.9,168.4 235.9,167.8 237.9,166.7 238.9,165.8 240.7,163.3 241.3,161.4 241.2,158.4 240.4,156.4 238.3,153.4 231.9,147.7ZM316.2,141.5 316.8,141.5 318.8,142.7 325.7,145.1 327.7,146.2 332.7,149.5 340.7,153.4 348.3,156.4 350.7,158.0 354.3,161.4 356.7,162.7 356.7,163.3 354.7,162.3 349.7,158.1 347.7,156.8 341.6,154.4 332.7,150.4 330.7,149.3 325.7,145.9 323.8,145.0 317.8,142.7ZM297.8,215.4 298.8,214.7 300.8,214.0 303.8,213.6 306.8,213.6 309.8,213.8 312.8,214.2 315.5,215.0 317.8,215.9 321.4,217.9 324.5,219.9 326.7,221.8 327.7,222.9 328.7,224.9 329.1,226.9 328.8,228.9 328.2,229.9 327.1,230.9 325.7,231.4 323.8,231.9 320.8,232.1 315.8,232.0 307.8,231.5 304.8,231.0 302.8,230.3 300.6,228.9 298.8,227.0 297.5,224.9 296.8,222.9 296.4,220.9 296.3,218.9 296.8,217.0ZM301.1,218.9 300.2,220.9 300.3,223.9 301.8,226.9 302.8,228.0 304.2,228.9 305.8,229.3 308.8,229.7 317.8,230.2 320.8,229.9 322.8,229.3 323.8,228.9 325.0,227.9 325.5,226.9 325.6,225.9 325.0,223.9 323.3,221.9 320.7,219.9 317.8,218.2 315.8,217.4 311.8,216.4 308.8,216.2 306.8,216.3 303.8,217.0 302.1,217.9Z"/>
<path fill="#c1cfd0" stroke="#c1cfd0" stroke-width="0.6" fill-rule="evenodd" d="M229.2,141.5 231.5,141.5 235.9,145.9 246.1,154.4 247.8,156.4 248.9,158.4 249.4,160.4 249.6,163.3 248.7,170.3 248.4,175.3 248.0,176.2 246.7,177.2 243.3,178.2 237.9,178.9 231.9,179.0 226.9,179.3 224.9,179.2 224.9,175.1 226.9,175.6 228.9,175.7 234.7,175.3 238.6,174.3 240.9,172.9 242.5,171.3 243.9,168.9 245.2,165.3 245.8,162.3 245.8,160.4 245.4,158.4 243.7,155.4 239.9,151.4 232.9,145.5ZM315.6,141.5 316.2,141.5 317.3,142.5 318.8,143.2 323.8,145.0 325.7,145.9 330.7,149.3 332.8,150.4 341.6,154.4 347.7,156.8 349.7,158.1 354.7,162.3 356.7,163.3 356.7,163.8 353.8,162.3 349.7,158.9 347.5,157.4 331.1,150.4 325.4,146.5 322.8,145.2 317.8,143.2 316.6,142.5ZM292.9,212.0 294.2,211.0 295.8,210.5 297.8,210.3 299.8,210.3 307.8,211.4 312.8,212.3 315.8,213.1 318.8,214.5 326.7,219.4 328.6,220.9 329.7,222.4 331.0,224.9 331.6,227.9 331.4,229.9 330.3,231.9 329.1,232.8 327.7,233.5 325.7,234.0 322.8,234.0 306.8,232.9 303.8,232.3 300.8,231.2 298.8,229.9 296.7,227.9 295.2,225.9 293.7,222.9 292.7,219.9 292.0,216.0 292.1,214.0ZM297.8,215.4 296.8,217.0 296.3,218.9 296.4,220.9 296.8,222.9 297.5,224.9 298.8,227.0 300.6,228.9 302.8,230.3 304.8,231.0 307.8,231.5 315.8,232.0 320.8,232.1 323.8,231.9 325.7,231.4 327.1,230.9 328.2,229.9 328.8,228.9 329.1,226.9 328.7,224.9 327.7,222.9 326.7,221.8 324.5,219.9 321.4,217.9 317.8,215.9 315.5,215.0 312.8,214.2 309.8,213.8 306.8,213.6 303.8,213.6 300.8,214.0 298.8,214.7Z"/>
<path fill="#b2c4c8" stroke="#b2c4c8" stroke-width="0.6" fill-rule="evenodd" d="M231.5,141.5 233.6,141.5 238.9,146.5 249.2,154.4 251.6,157.4 252.6,159.4 253.5,162.3 254.4,168.3 254.9,170.3 258.4,176.2 259.0,178.2 259.0,179.2 258.6,180.2 257.6,181.2 255.4,182.2 252.9,182.6 250.9,182.7 242.9,181.8 232.9,181.3 224.9,181.3 224.9,179.2 226.9,179.3 231.9,179.0 237.9,178.9 242.9,178.3 246.7,177.2 248.0,176.2 248.4,175.3 248.7,170.3 249.6,163.3 249.4,160.4 248.4,157.4 246.1,154.4 235.9,145.9ZM315.1,141.5 315.6,141.5 316.6,142.5 317.8,143.2 322.8,145.2 325.4,146.5 331.7,150.8 347.5,157.4 349.7,158.9 353.8,162.3 356.7,163.8 356.7,164.4 353.7,162.9 348.7,158.9 346.7,157.6 330.7,151.1 324.7,146.8 316.8,143.2ZM289.8,207.2 290.8,206.6 292.8,206.2 294.8,206.1 296.8,206.4 314.8,211.1 316.8,211.8 319.2,213.0 328.7,218.9 330.7,220.9 332.0,222.9 332.8,224.9 333.5,227.9 333.6,229.9 333.1,231.9 331.9,233.8 330.7,234.8 328.7,235.7 325.7,236.1 316.8,235.1 308.8,234.6 305.8,234.2 302.8,233.5 299.8,232.4 297.8,231.3 294.9,228.9 292.4,225.9 290.1,221.9 288.0,217.0 287.3,214.0 287.4,211.0 288.1,209.0 288.8,208.0ZM292.9,212.0 292.1,214.0 292.0,216.0 292.7,219.9 293.7,222.9 295.2,225.9 296.7,227.9 298.8,229.9 300.8,231.2 303.8,232.3 306.8,232.9 322.8,234.0 325.7,234.0 327.7,233.5 329.1,232.8 330.3,231.9 331.4,229.9 331.6,227.9 331.0,224.9 329.7,222.4 328.6,220.9 326.7,219.4 318.8,214.5 315.8,213.1 312.8,212.3 307.8,211.4 299.8,210.3 297.8,210.3 295.8,210.5 294.2,211.0Z"/>
<path fill="#a3b9c1" stroke="#a3b9c1" stroke-width="0.6" fill-rule="evenodd" d="M233.6,141.5 235.5,141.5 238.6,144.5 241.9,147.3 250.8,153.4 252.9,155.4 255.3,158.4 256.5,160.4 260.1,168.3 262.1,171.3 266.3,176.2 268.1,179.2 268.6,181.2 268.3,183.2 267.1,185.2 265.9,186.2 264.8,186.7 261.8,187.3 258.8,187.2 239.9,183.9 232.9,183.2 224.9,182.8 224.9,181.3 232.9,181.3 241.9,181.7 250.9,182.7 252.9,182.6 255.4,182.2 257.6,181.2 258.6,180.2 259.0,179.2 259.0,178.2 258.4,176.2 254.9,170.3 253.3,161.4 252.1,158.4 250.9,156.4 249.2,154.4 238.9,146.5ZM314.5,141.5 315.1,141.5 315.9,142.5 317.8,143.7 322.8,145.8 324.7,146.8 330.7,151.1 346.7,157.6 348.7,158.9 353.7,162.9 356.7,164.4 356.7,164.9 353.3,163.3 348.4,159.4 345.7,157.7 330.1,151.4 325.7,148.1 323.8,146.9 316.8,143.6 315.3,142.5ZM286.8,203.3 288.8,202.4 291.8,202.1 294.8,202.5 297.8,203.4 307.8,207.4 315.8,209.8 317.8,210.6 320.8,212.3 329.6,217.9 331.7,219.9 333.1,221.9 334.5,224.9 335.3,227.9 335.5,230.9 335.1,232.8 334.1,234.8 332.7,236.3 331.7,237.0 329.7,237.8 327.7,238.1 324.7,238.0 317.8,236.6 309.8,236.1 303.8,235.2 299.2,233.8 295.5,231.9 292.1,228.9 288.7,224.9 285.6,219.9 283.9,216.0 283.2,212.0 283.4,209.0 284.4,206.0 285.8,204.1ZM289.8,207.2 288.8,208.0 288.1,209.0 287.4,211.0 287.3,214.0 288.0,217.0 290.1,221.9 292.4,225.9 294.9,228.9 297.8,231.3 299.8,232.4 302.8,233.5 305.8,234.2 308.8,234.6 316.8,235.1 325.7,236.1 328.7,235.7 330.7,234.8 331.9,233.8 333.1,231.9 333.6,229.9 333.5,227.9 332.8,224.9 332.0,222.9 330.7,220.9 328.7,218.9 319.2,213.0 316.8,211.8 314.8,211.1 296.8,206.4 294.8,206.1 292.8,206.2 290.8,206.6Z"/>
<path fill="#92acb8" stroke="#92acb8" stroke-width="0.6" fill-rule="evenodd" d="M235.5,141.5 237.2,141.5 242.9,146.6 245.9,148.7 251.9,152.4 256.6,156.4 259.1,159.4 261.8,164.0 263.8,166.9 270.8,174.6 274.4,179.2 275.4,181.2 275.6,182.2 275.5,184.2 275.0,186.2 273.5,189.2 271.8,191.1 270.5,192.1 268.8,192.9 265.8,193.2 262.8,192.8 258.8,191.5 251.9,188.9 239.9,185.9 233.9,185.0 224.9,184.2 224.9,182.8 234.9,183.3 242.9,184.3 257.9,187.1 261.8,187.3 263.8,187.0 265.9,186.2 267.1,185.2 268.3,183.2 268.6,181.2 267.6,178.2 266.3,176.2 262.8,172.2 260.7,169.3 259.1,166.3 256.5,160.4 254.6,157.4 252.9,155.4 250.8,153.4 241.9,147.3 238.6,144.5ZM314.0,141.5 314.5,141.5 315.3,142.5 316.8,143.6 322.8,146.3 324.7,147.5 330.7,151.8 344.7,157.3 346.7,158.3 348.7,159.6 353.3,163.3 356.7,164.9 356.7,165.5 354.7,164.7 352.7,163.5 347.7,159.6 345.7,158.3 331.7,152.8 329.7,151.9 323.7,147.5 316.8,144.1 314.8,142.5ZM283.8,197.9 285.8,197.0 287.8,196.9 289.8,197.2 293.8,198.7 300.8,201.8 308.9,206.0 316.8,208.8 318.8,209.7 328.7,216.0 331.5,217.9 333.3,219.9 335.2,222.9 336.7,226.9 337.3,229.9 337.3,232.8 336.7,234.8 335.5,236.8 333.2,238.8 320.4,238.8 316.8,238.0 310.8,237.6 306.8,237.1 300.8,236.0 297.8,235.0 294.8,233.5 291.8,231.3 288.1,227.9 284.1,222.9 281.8,218.9 280.1,214.0 279.4,209.0 279.7,205.0 280.3,203.1 281.2,201.1 282.5,199.1ZM286.8,203.3 285.8,204.1 284.4,206.0 283.4,209.0 283.2,212.0 283.9,216.0 285.6,219.9 288.7,224.9 292.1,228.9 295.5,231.9 299.2,233.8 303.8,235.2 309.8,236.1 317.8,236.6 324.7,238.0 327.7,238.1 329.7,237.8 331.7,237.0 332.7,236.3 334.1,234.8 335.1,232.8 335.5,230.9 335.3,227.9 334.5,224.9 333.1,221.9 331.7,219.9 329.6,217.9 320.8,212.3 317.8,210.6 315.8,209.8 307.8,207.4 297.8,203.4 294.8,202.5 291.8,202.1 288.8,202.4Z"/>
<path fill="#819fb0" stroke="#819fb0" stroke-width="0.6" fill-rule="evenodd" d="M237.2,141.5 238.9,141.5 242.0,144.5 244.9,146.7 252.5,151.4 258.2,155.4 260.5,157.4 264.8,163.3 271.7,170.3 277.8,177.6 279.4,180.2 281.8,186.7 282.8,188.0 283.8,188.9 289.8,191.7 295.8,196.4 303.8,200.9 308.8,204.1 312.7,206.0 318.1,208.0 320.8,209.4 330.7,216.0 333.1,217.9 334.8,219.9 336.7,222.9 338.0,225.9 339.1,229.9 339.4,232.8 339.1,234.8 338.3,236.8 336.8,238.8 333.2,238.8 334.7,237.7 336.2,235.8 337.1,233.8 337.4,231.9 337.3,229.9 336.7,226.9 335.6,223.9 334.0,220.9 332.5,218.9 330.2,217.0 320.8,210.8 317.8,209.2 308.9,206.0 299.8,201.3 292.8,198.3 289.8,197.2 287.8,196.9 286.8,196.9 284.8,197.4 282.8,198.8 281.8,200.1 280.3,203.1 279.4,207.0 279.5,211.0 280.3,215.0 281.8,218.9 283.5,221.9 286.4,225.9 289.1,228.9 291.2,230.9 293.8,232.8 296.8,234.5 299.8,235.7 307.8,237.3 316.8,238.0 320.4,238.8 308.1,238.8 299.8,237.3 296.8,236.4 294.8,235.5 290.8,233.0 286.0,228.9 282.5,224.9 279.8,220.9 278.4,217.9 274.4,204.1 273.2,202.1 271.8,200.8 269.8,199.8 264.8,198.1 250.9,191.5 241.2,188.2 236.9,187.1 224.9,185.5 224.9,184.2 233.9,185.0 239.9,185.9 251.9,188.9 261.8,192.5 265.8,193.2 268.8,192.9 270.5,192.1 271.8,191.1 273.8,188.6 275.3,185.2 275.6,182.2 275.4,181.2 274.4,179.2 270.8,174.6 263.8,166.9 261.8,164.0 259.1,159.4 257.6,157.4 255.5,155.4 251.9,152.4 245.9,148.7 242.9,146.6ZM313.5,141.5 314.0,141.5 314.8,142.5 316.8,144.1 323.7,147.5 329.0,151.4 330.7,152.4 343.7,157.4 345.8,158.4 347.7,159.6 352.7,163.5 354.7,164.7 356.7,165.5 356.7,166.0 354.7,165.2 352.7,164.2 347.7,160.2 344.7,158.4 331.7,153.5 329.7,152.5 322.8,147.5 315.8,143.9 314.8,143.1Z"/>
<path fill="#7596aa" stroke="#7596aa" stroke-width="0.6" fill-rule="evenodd" d="M238.9,141.5 240.4,141.5 243.6,144.5 246.9,146.9 259.5,154.4 262.2,156.4 266.4,161.4 273.0,167.3 278.8,174.2 281.0,177.2 284.4,183.2 285.8,184.9 287.8,186.6 291.8,189.2 298.1,195.1 304.8,199.3 308.5,202.1 311.6,204.1 313.8,205.1 318.8,207.0 321.8,208.6 331.7,215.4 333.7,217.0 336.3,219.9 338.2,222.9 340.0,226.9 341.2,230.9 341.6,232.8 341.5,234.8 340.9,236.8 339.7,238.8 336.8,238.8 338.3,236.8 339.1,234.8 339.4,232.8 339.1,229.9 338.0,225.9 336.7,222.9 334.8,219.9 333.1,217.9 330.7,216.0 320.8,209.4 318.1,208.0 312.7,206.0 308.8,204.1 303.8,200.9 295.8,196.4 289.8,191.7 283.8,188.9 282.8,188.0 281.8,186.7 279.4,180.2 277.8,177.6 271.7,170.3 264.8,163.3 260.5,157.4 258.2,155.4 252.5,151.4 244.9,146.7 242.0,144.5ZM313.0,141.5 313.5,141.5 314.8,143.1 315.8,143.9 322.8,147.5 329.7,152.5 331.7,153.5 344.7,158.4 347.7,160.2 352.7,164.2 354.7,165.2 356.7,166.0 356.7,166.6 352.7,164.8 347.0,160.4 344.7,159.0 329.7,153.1 327.7,151.9 322.8,148.0 315.8,144.4 314.6,143.5ZM224.9,185.5 236.9,187.1 241.2,188.2 250.9,191.5 264.8,198.1 269.8,199.8 271.8,200.8 273.2,202.1 274.4,204.1 277.4,215.0 278.8,219.0 281.8,223.9 285.1,227.9 288.2,230.9 290.6,232.8 292.8,234.4 295.5,235.8 299.8,237.3 308.1,238.8 299.1,238.8 296.8,238.2 293.8,237.0 291.6,235.8 288.8,234.0 286.1,231.9 282.0,227.9 278.8,223.8 276.2,218.9 273.3,211.0 271.8,207.7 269.8,205.0 267.3,203.1 257.9,197.9 248.9,193.6 240.8,190.1 236.9,188.9 224.9,186.8Z"/>
<path fill="#698ca3" stroke="#698ca3" stroke-width="0.6" fill-rule="evenodd" d="M240.4,141.5 241.9,141.5 244.9,144.3 247.9,146.5 255.9,151.1 261.8,154.2 263.5,155.4 268.3,160.4 275.8,166.4 281.8,173.6 287.2,182.2 289.2,184.2 293.8,187.6 298.1,192.1 300.3,194.1 305.8,197.8 312.7,203.1 314.8,204.1 320.8,206.6 323.3,208.0 328.6,212.0 333.1,215.0 335.4,217.0 337.9,219.9 340.3,223.9 341.7,226.9 343.6,231.9 343.9,233.8 343.7,235.8 342.3,238.8 339.7,238.8 340.9,236.8 341.5,234.8 341.6,232.8 341.2,230.9 340.0,226.9 338.2,222.9 336.3,219.9 333.7,217.0 331.7,215.4 321.8,208.6 318.8,207.0 313.8,205.1 311.6,204.1 308.5,202.1 304.8,199.3 299.8,196.3 297.8,194.9 291.8,189.2 287.8,186.6 285.8,184.9 284.4,183.2 281.0,177.2 278.8,174.2 273.0,167.3 266.4,161.4 262.2,156.4 259.5,154.4 246.9,146.9 243.6,144.5ZM312.5,141.5 313.0,141.5 314.6,143.5 315.8,144.4 322.8,148.0 327.7,151.9 329.7,153.1 344.7,159.0 347.0,160.4 352.7,164.8 356.7,166.6 356.7,167.1 353.7,165.9 351.7,164.8 346.7,160.8 344.4,159.4 331.7,154.6 328.7,153.2 322.5,148.4 315.2,144.5 313.8,143.2ZM224.9,186.8 236.9,188.9 239.9,189.8 248.9,193.6 257.9,197.9 267.8,203.4 269.8,205.0 271.8,207.7 273.3,211.0 276.8,220.3 278.9,223.9 281.8,227.6 286.1,231.9 290.8,235.3 294.8,237.4 299.1,238.8 293.1,238.8 288.8,236.4 286.6,234.8 280.9,229.9 278.3,226.9 275.8,222.9 274.3,219.9 271.5,213.0 269.8,209.7 267.8,207.0 264.8,204.6 257.9,200.4 238.9,191.6 235.9,190.6 227.9,188.6 224.9,188.0Z"/>
<path fill="#5d839d" stroke="#5d839d" stroke-width="0.6" fill-rule="evenodd" d="M241.9,141.5 243.2,141.5 246.6,144.5 249.9,146.7 255.9,150.1 262.8,153.3 264.5,154.4 269.8,159.4 276.8,164.2 280.1,167.3 283.8,171.8 288.2,179.2 289.7,181.2 295.8,186.0 300.1,191.1 301.8,192.8 306.8,196.3 313.7,202.1 315.8,203.2 320.8,205.2 323.8,206.7 329.1,211.0 333.7,214.0 336.2,216.0 338.7,218.9 342.1,223.9 345.5,230.9 345.9,232.8 345.9,235.8 345.7,237.0 344.8,238.8 342.3,238.8 343.7,235.8 343.9,233.8 343.6,231.9 341.7,226.9 340.3,223.9 337.1,218.9 334.7,216.3 322.8,207.7 319.8,206.1 314.6,204.1 311.8,202.5 305.8,197.8 300.3,194.1 298.1,192.1 293.8,187.6 289.2,184.2 287.2,182.2 281.6,173.3 276.7,167.3 274.7,165.3 268.8,160.8 263.8,155.7 262.2,154.4 255.9,151.1 248.9,147.1 245.1,144.5ZM312.1,141.5 312.5,141.5 313.8,143.2 315.2,144.5 322.5,148.4 328.7,153.2 331.7,154.6 342.7,158.6 344.7,159.5 346.7,160.8 351.7,164.8 353.7,165.9 356.7,167.1 356.7,167.7 353.7,166.5 351.7,165.4 345.7,160.8 343.7,159.6 331.7,155.2 328.7,153.8 326.7,152.5 321.7,148.4 314.8,144.6 313.5,143.5ZM224.9,188.0 227.9,188.6 237.9,191.2 257.9,200.4 261.8,202.6 265.5,205.0 267.8,207.1 270.0,210.0 271.5,213.0 275.3,221.9 277.0,224.9 279.1,227.9 281.9,230.9 285.8,234.2 289.4,236.8 293.1,238.8 288.6,238.8 285.8,236.9 283.2,234.8 278.0,229.9 275.8,226.9 274.0,223.9 269.8,214.5 267.9,211.0 265.8,208.4 263.2,206.0 259.8,203.8 255.9,201.6 236.9,193.2 228.0,190.1 224.9,189.4Z"/>
<path fill="#517a97" stroke="#517a97" stroke-width="0.6" fill-rule="evenodd" d="M243.2,141.5 244.5,141.5 248.9,145.1 254.9,148.6 257.9,150.1 263.8,152.5 265.1,153.4 270.8,158.4 277.3,162.3 280.0,164.3 283.5,167.3 285.2,169.3 289.8,176.4 291.8,179.1 296.8,182.7 298.3,184.2 301.6,189.2 303.2,191.1 308.8,195.1 314.7,201.1 316.8,202.3 321.8,204.1 324.7,205.6 329.8,210.0 334.7,213.2 337.0,215.0 339.7,217.9 344.0,223.9 346.7,228.5 347.4,230.9 347.6,233.8 347.5,236.8 347.0,238.8 344.8,238.8 345.7,237.0 345.9,235.8 345.9,232.8 345.5,230.9 343.7,226.9 342.1,223.9 339.4,219.9 336.2,216.0 333.7,214.0 329.1,211.0 323.8,206.7 320.8,205.2 315.8,203.2 313.7,202.1 306.8,196.3 302.2,193.1 300.1,191.1 295.8,186.0 289.7,181.2 288.2,179.2 283.5,171.3 281.1,168.3 278.1,165.3 275.6,163.3 269.8,159.4 263.8,153.9 261.8,152.8 255.9,150.1 249.9,146.7 246.6,144.5ZM311.6,141.5 312.1,141.5 313.5,143.5 314.8,144.6 321.7,148.4 326.7,152.5 328.7,153.8 331.7,155.2 343.7,159.6 345.7,160.8 351.7,165.4 353.7,166.5 356.7,167.7 356.7,168.3 353.7,167.1 351.7,166.0 345.6,161.4 343.7,160.2 331.7,155.8 327.7,153.9 320.9,148.4 314.8,145.1 312.9,143.5ZM224.9,189.4 228.0,190.1 236.9,193.2 255.9,201.6 259.8,203.8 263.2,206.0 266.4,209.0 268.5,212.0 273.8,223.5 277.2,228.9 279.8,231.7 282.8,234.5 285.8,236.9 288.6,238.8 284.6,238.8 280.8,235.6 276.8,231.6 274.7,228.9 272.8,225.9 268.3,216.0 266.7,213.0 264.5,210.0 261.3,207.0 257.9,204.6 253.9,202.5 246.9,199.6 239.9,196.9 232.9,193.8 227.9,191.9 224.9,191.0Z"/>
<path fill="#467292" stroke="#467292" stroke-width="0.6" fill-rule="evenodd" d="M244.5,141.5 245.8,141.5 249.9,144.8 255.9,148.3 258.8,149.6 263.8,151.4 264.8,152.0 271.8,157.6 278.5,161.4 284.4,165.3 287.6,168.3 290.8,172.8 292.8,175.1 294.8,176.8 299.8,179.9 301.4,181.2 302.8,183.2 305.0,188.2 305.8,189.2 308.8,191.3 310.8,193.1 314.2,198.1 316.0,200.1 317.8,201.1 322.8,202.6 325.7,204.1 327.7,205.8 330.8,209.0 335.7,212.2 338.7,214.7 340.7,216.9 345.4,222.9 346.7,225.0 348.1,227.9 348.7,230.9 348.8,236.8 348.5,238.8 347.0,238.8 347.5,236.8 347.6,233.8 347.4,230.9 346.7,228.5 344.0,223.9 339.7,217.9 337.0,215.0 334.7,213.2 329.8,210.0 324.7,205.6 321.8,204.1 316.8,202.3 314.7,201.1 308.8,195.1 303.2,191.1 301.6,189.2 298.3,184.2 296.8,182.7 291.8,179.1 289.8,176.4 285.2,169.3 283.5,167.3 280.0,164.3 277.3,162.3 270.8,158.4 265.1,153.4 263.8,152.5 257.9,150.1 251.9,147.0 248.0,144.5ZM311.1,141.5 311.6,141.5 312.9,143.5 314.8,145.1 320.9,148.4 327.7,153.9 331.7,155.8 343.7,160.2 345.6,161.4 351.7,166.0 353.7,167.1 356.7,168.3 356.7,168.9 353.7,167.7 351.1,166.3 343.7,160.8 330.7,155.9 327.7,154.5 325.7,153.1 320.8,148.9 315.8,146.2 313.8,144.9 312.4,143.5ZM224.9,191.0 227.9,191.9 232.9,193.8 239.9,196.9 246.9,199.6 253.9,202.5 257.9,204.6 261.3,207.0 264.5,210.0 266.7,213.0 268.3,216.0 272.3,224.9 275.4,229.9 278.9,233.8 284.6,238.8 280.9,238.8 274.8,232.5 272.9,229.9 271.1,226.9 266.8,217.5 264.9,214.0 262.7,211.0 259.7,208.0 255.9,205.3 251.9,203.3 245.9,200.9 238.9,198.6 230.9,195.0 224.9,193.0Z"/>
<path fill="#3c6a8c" stroke="#3c6a8c" stroke-width="0.6" fill-rule="evenodd" d="M245.8,141.5 247.1,141.5 250.9,144.5 256.9,147.9 264.8,151.0 272.8,156.9 286.3,164.3 288.8,166.3 292.2,170.3 294.8,172.7 296.8,174.0 302.8,177.0 304.8,178.5 306.4,180.2 310.0,185.2 314.5,190.1 315.3,192.1 316.2,196.1 316.8,197.5 317.8,198.7 318.8,199.3 324.7,201.1 326.7,202.1 327.7,202.8 332.5,208.0 337.7,211.7 340.3,214.0 346.2,220.9 347.7,223.7 349.6,228.9 349.7,238.8 348.5,238.8 348.8,236.8 348.7,230.7 348.4,228.9 347.7,227.0 345.4,222.9 340.7,216.9 338.7,214.7 335.7,212.2 330.8,209.0 327.7,205.8 325.7,204.1 322.8,202.6 317.8,201.1 316.0,200.1 314.2,198.1 310.8,193.1 308.8,191.3 305.8,189.2 305.0,188.2 302.8,183.2 301.4,181.2 299.8,179.9 294.8,176.8 292.8,175.1 290.8,172.8 287.6,168.3 284.4,165.3 278.5,161.4 271.8,157.6 264.8,152.0 263.8,151.4 257.9,149.2 253.9,147.2 249.4,144.5ZM310.6,141.5 311.1,141.5 312.4,143.5 313.8,144.9 315.8,146.2 320.8,148.9 325.7,153.1 327.7,154.5 330.7,155.9 343.7,160.8 351.1,166.3 353.7,167.7 356.7,168.9 356.7,169.6 352.7,167.9 350.7,166.8 343.6,161.4 330.7,156.5 327.7,155.2 325.7,153.8 320.8,149.4 313.8,145.4 311.8,143.5ZM224.9,193.0 230.9,195.0 238.9,198.6 245.9,200.9 251.9,203.3 255.9,205.3 259.7,208.0 262.7,211.0 264.9,214.0 267.0,217.9 270.6,225.9 273.5,230.9 276.8,234.8 280.9,238.8 277.2,238.8 273.8,234.8 271.6,231.9 269.2,227.9 265.4,218.9 263.2,215.0 260.2,211.0 257.0,208.0 253.9,205.9 248.9,203.6 243.9,201.8 237.9,200.0 230.9,196.9 224.9,195.2ZM224.9,238.4 227.2,238.8 224.9,238.8Z"/>
<path fill="#427086" stroke="#427086" stroke-width="0.6" fill-rule="evenodd" d="M247.1,141.5 248.3,141.5 251.9,144.3 256.9,147.1 265.3,150.4 267.0,151.4 271.8,155.0 274.8,156.9 287.9,163.3 289.8,164.6 293.8,168.7 295.8,170.3 297.8,171.5 303.9,174.3 306.8,176.2 309.1,178.2 314.8,184.1 317.8,188.0 318.8,190.1 319.8,194.4 320.7,196.1 321.9,197.1 327.7,199.7 329.7,201.0 333.7,206.3 342.1,213.0 344.1,215.0 346.7,218.2 348.2,220.9 350.4,228.9 350.5,238.8 349.7,238.8 349.6,228.9 347.7,223.7 345.7,220.3 340.3,214.0 337.7,211.7 332.5,208.0 327.7,202.8 326.7,202.1 324.7,201.1 318.8,199.3 317.8,198.7 316.8,197.5 316.2,196.1 315.3,192.1 314.5,190.1 310.0,185.2 306.4,180.2 304.8,178.5 302.8,177.0 296.8,174.0 294.8,172.7 292.2,170.3 288.8,166.3 286.3,164.3 272.8,156.9 264.8,151.0 257.9,148.4 252.9,145.8 249.4,143.5ZM310.1,141.5 310.6,141.5 311.8,143.5 313.8,145.4 320.8,149.4 326.7,154.6 329.7,156.1 343.6,161.4 350.7,166.8 352.7,167.9 356.7,169.6 356.7,170.3 352.7,168.6 350.7,167.5 344.7,162.9 342.7,161.6 329.7,156.8 326.7,155.3 324.7,153.8 320.0,149.4 314.8,146.6 313.1,145.5 311.3,143.5ZM224.9,195.2 230.9,196.9 237.9,200.0 243.9,201.8 248.9,203.6 254.1,206.0 257.9,208.7 261.1,212.0 263.2,215.0 265.4,218.9 268.3,225.9 270.3,229.9 273.0,233.8 277.2,238.8 273.4,238.8 269.8,233.5 267.7,229.9 263.6,219.9 261.5,216.0 258.6,212.0 255.7,209.0 251.9,206.5 246.9,204.3 237.9,201.4 230.9,198.7 224.9,197.3ZM224.9,237.6 231.3,238.8 227.2,238.8 224.9,238.4Z"/>
<path fill="#477681" stroke="#477681" stroke-width="0.6" fill-rule="evenodd" d="M248.3,141.5 249.5,141.5 252.9,144.0 257.9,146.8 264.8,149.5 266.8,150.4 272.8,154.6 276.8,156.9 282.8,159.7 289.8,162.6 290.8,163.3 294.8,167.1 296.8,168.6 299.8,170.2 303.8,171.6 306.8,173.3 310.9,176.2 314.2,179.2 316.8,182.0 318.8,184.8 320.6,188.2 322.3,192.1 323.8,194.3 325.7,195.9 330.9,199.1 335.7,205.2 337.8,207.0 344.7,212.1 346.7,214.0 347.7,215.5 349.2,218.9 351.0,227.9 351.2,229.9 351.2,238.8 350.5,238.8 350.5,229.9 350.2,227.9 348.2,220.9 346.7,218.2 344.1,215.0 342.1,213.0 333.7,206.3 329.7,201.0 327.7,199.7 321.9,197.1 320.7,196.1 319.8,194.4 318.8,190.1 317.8,188.0 314.8,184.1 309.1,178.2 306.8,176.2 303.9,174.3 297.8,171.5 295.8,170.3 293.8,168.7 289.8,164.6 287.9,163.3 274.8,156.9 271.8,155.0 267.0,151.4 265.3,150.4 258.8,148.0 254.9,146.1 250.9,143.6ZM309.6,141.5 310.1,141.5 311.3,143.5 313.1,145.5 314.8,146.6 320.0,149.4 324.7,153.8 326.7,155.3 329.7,156.8 342.7,161.6 344.7,162.9 350.7,167.5 352.7,168.6 356.7,170.3 356.7,171.2 350.7,168.3 342.7,162.3 328.7,157.0 326.7,156.1 324.7,154.6 320.6,150.4 319.3,149.4 314.8,147.1 312.8,145.8 310.8,143.6ZM224.9,197.3 230.9,198.7 237.9,201.4 246.9,204.3 251.9,206.5 255.7,209.0 258.6,212.0 261.5,216.0 263.6,219.9 267.7,229.9 269.8,233.5 273.4,238.8 269.4,238.8 265.0,229.9 262.1,221.9 260.3,217.9 257.1,213.0 253.9,209.6 250.9,207.5 244.9,205.0 230.9,200.2 224.9,199.1ZM224.9,236.9 237.4,238.8 231.3,238.8 224.9,237.6Z"/>
<path fill="#4e7e7a" stroke="#4e7e7a" stroke-width="0.6" fill-rule="evenodd" d="M249.5,141.5 250.7,141.5 253.9,143.8 258.7,146.5 266.8,149.7 273.8,154.2 277.8,156.3 283.8,159.0 290.3,161.4 291.8,162.3 295.8,165.9 297.8,167.3 300.8,168.8 305.2,170.3 309.1,172.3 312.2,174.3 315.8,177.3 317.8,179.3 319.8,182.0 324.6,191.1 326.2,193.1 332.5,198.1 336.7,202.9 338.7,204.8 341.7,206.9 346.7,209.5 347.7,210.2 348.7,211.5 349.7,214.2 350.5,217.9 351.7,227.9 351.8,238.8 351.2,238.8 351.2,229.9 351.0,227.9 349.2,218.9 347.7,215.5 346.7,214.0 344.7,212.1 337.8,207.0 335.7,205.2 330.9,199.1 325.7,195.9 323.8,194.3 322.3,192.1 320.6,188.2 318.8,184.8 316.8,182.0 314.2,179.2 310.9,176.2 306.8,173.3 303.8,171.6 299.8,170.2 296.8,168.6 294.8,167.1 290.8,163.3 289.8,162.6 282.8,159.7 275.8,156.3 272.8,154.6 266.8,150.4 264.8,149.5 259.8,147.7 256.9,146.3 252.0,143.5ZM309.1,141.5 309.6,141.5 310.8,143.6 312.8,145.8 314.8,147.1 319.3,149.4 325.7,155.4 328.7,157.0 342.7,162.4 350.7,168.3 356.7,171.2 356.7,172.5 354.9,171.3 351.7,169.7 349.7,168.5 342.7,163.2 340.9,162.3 327.7,157.3 325.7,156.3 323.8,154.7 319.8,150.4 317.8,149.0 313.8,147.0 311.8,145.5 310.2,143.5ZM224.9,199.1 230.9,200.2 245.1,205.0 250.9,207.5 252.9,208.7 254.4,210.0 257.8,214.0 260.3,217.9 262.1,221.9 265.0,229.9 269.4,238.8 265.0,238.8 264.5,236.8 260.7,224.9 258.9,219.9 257.4,217.0 255.5,214.0 254.0,212.0 252.0,210.0 248.8,208.0 242.9,205.6 230.9,201.6 224.9,200.6ZM224.9,236.2 237.9,237.7 242.6,238.8 237.4,238.8 224.9,236.9Z"/>
<path fill="#558574" stroke="#558574" stroke-width="0.6" fill-rule="evenodd" d="M250.7,141.5 251.9,141.5 254.7,143.5 258.2,145.5 267.8,149.4 274.8,153.7 278.8,155.8 283.8,158.0 290.8,160.4 292.4,161.4 296.8,164.9 299.8,166.8 309.4,170.3 313.2,172.3 317.0,175.3 320.5,179.2 322.8,182.8 326.0,189.2 327.7,191.7 329.2,193.1 334.0,197.1 338.7,201.8 340.7,203.2 343.7,204.6 345.7,205.1 349.7,205.5 350.7,205.8 351.7,206.5 352.3,208.0 351.7,216.0 351.8,222.9 352.4,229.9 352.4,238.8 351.8,238.8 351.8,228.9 351.0,222.9 350.7,218.9 349.7,214.2 348.7,211.5 347.7,210.2 346.7,209.5 341.7,206.9 338.7,204.8 336.7,202.9 332.5,198.1 326.2,193.1 324.6,191.1 319.8,182.0 317.8,179.3 315.8,177.3 312.2,174.3 309.1,172.3 305.2,170.3 300.8,168.8 297.8,167.3 295.8,165.9 290.8,161.7 283.8,159.0 276.8,155.8 266.3,149.4 259.8,147.0 256.7,145.5 253.3,143.5ZM308.6,141.5 309.1,141.5 310.9,144.5 312.8,146.4 314.5,147.5 317.8,149.0 319.8,150.4 323.8,154.7 325.7,156.3 327.7,157.3 340.9,162.3 342.7,163.2 349.7,168.5 356.4,172.3 356.7,172.5 356.7,174.8 355.6,173.3 354.5,172.3 349.7,169.5 342.7,164.1 340.7,163.1 331.7,159.4 326.7,157.7 324.7,156.6 323.4,155.4 319.1,150.4 317.6,149.4 313.8,147.6 311.8,146.2 310.2,144.5ZM224.9,200.6 230.9,201.6 243.9,206.0 249.9,208.6 251.9,209.9 252.9,210.8 254.8,213.0 256.2,215.0 259.3,220.9 264.2,235.8 265.0,238.8 256.4,238.8 258.3,237.8 259.0,236.8 259.4,235.8 259.6,232.8 258.9,227.9 257.6,222.9 255.5,217.9 253.2,214.0 250.9,211.2 247.5,209.0 240.9,206.2 230.9,202.9 224.9,201.8ZM224.9,235.5 239.9,236.9 249.7,238.8 242.6,238.8 237.9,237.7 224.9,236.2Z"/>
<path fill="#5e8f6b" stroke="#5e8f6b" stroke-width="0.6" fill-rule="evenodd" d="M251.9,141.5 253.2,141.5 256.0,143.5 258.8,145.1 267.8,148.7 275.8,153.3 278.8,154.8 283.8,157.0 291.8,159.8 294.2,161.4 297.8,164.1 300.8,165.8 303.8,166.9 311.8,169.1 314.8,170.5 318.8,173.8 321.8,177.2 324.3,181.2 327.8,188.2 329.9,191.1 338.7,198.9 340.7,200.3 342.7,201.2 343.7,201.4 345.7,201.5 347.7,201.1 348.7,200.7 351.2,199.1 352.1,198.1 353.4,196.1 354.5,193.1 355.6,185.2 355.6,177.2 354.7,174.7 353.6,173.3 341.7,164.5 331.7,160.2 326.1,158.4 324.3,157.4 322.8,155.9 320.2,152.4 318.3,150.4 316.8,149.5 313.8,148.2 311.3,146.5 309.6,144.5 308.0,141.5 308.6,141.5 310.2,144.5 311.8,146.2 313.8,147.6 317.6,149.4 319.1,150.4 323.4,155.4 324.7,156.6 326.7,157.7 331.5,159.4 341.7,163.6 343.7,164.8 349.7,169.5 354.5,172.3 355.6,173.3 356.7,174.8 356.7,206.9 353.8,213.0 352.9,217.0 352.6,221.9 353.0,230.9 353.0,238.8 352.4,238.8 352.4,229.9 351.8,222.9 351.7,216.0 352.3,208.0 351.7,206.5 350.7,205.8 349.7,205.5 345.7,205.1 343.7,204.6 340.7,203.2 338.7,201.8 334.0,197.1 329.2,193.1 327.7,191.7 326.0,189.2 322.8,182.8 320.5,179.2 317.0,175.3 313.2,172.3 309.4,170.3 299.8,166.8 296.8,164.9 292.4,161.4 290.8,160.4 283.8,158.0 277.8,155.3 274.8,153.7 267.8,149.4 257.9,145.3 254.7,143.5ZM224.9,201.8 228.9,202.4 231.9,203.1 242.9,206.9 245.9,208.2 248.9,209.8 250.6,211.0 251.9,212.2 253.9,215.0 256.4,219.9 257.9,223.9 259.1,228.9 259.6,232.8 259.4,235.8 259.0,236.8 258.3,237.8 256.4,238.8 249.7,238.8 239.9,236.9 224.9,235.5 224.9,234.8 231.9,235.4 246.9,236.2 249.9,236.2 251.9,235.8 253.9,234.9 254.9,233.8 255.8,231.9 256.1,228.9 255.6,224.9 254.0,219.9 251.6,215.0 249.2,212.0 245.9,209.8 239.7,207.0 230.9,204.1 227.9,203.4 224.9,203.0Z"/>
<path fill="#689962" stroke="#689962" stroke-width="0.6" fill-rule="evenodd" d="M253.2,141.5 254.5,141.5 257.4,143.5 259.8,144.8 268.9,148.4 276.8,152.9 279.8,154.3 284.8,156.4 290.8,158.4 292.8,159.3 298.8,163.3 301.8,164.9 305.8,166.0 314.0,167.3 315.8,167.9 316.8,168.5 320.8,172.2 323.8,175.8 325.8,179.2 329.6,187.2 331.7,190.1 335.0,193.1 338.7,196.1 341.7,197.8 343.7,198.3 345.7,198.1 347.8,197.1 349.8,195.1 351.5,192.1 352.7,188.2 353.4,183.2 353.7,178.2 353.4,176.2 353.0,175.3 352.3,174.3 350.2,172.3 344.1,167.3 341.7,165.7 330.7,160.7 325.7,159.4 323.8,158.5 322.8,157.6 321.8,156.4 320.1,153.4 318.7,151.4 316.8,150.1 312.8,148.2 310.5,146.5 308.4,143.5 307.5,141.5 308.0,141.5 309.6,144.5 311.3,146.5 313.8,148.2 316.8,149.5 318.3,150.4 320.2,152.4 322.8,155.9 324.7,157.7 326.7,158.6 331.7,160.2 341.7,164.5 352.3,172.3 354.5,174.3 355.4,176.2 355.7,178.2 355.5,187.2 354.5,193.1 353.9,195.1 352.8,197.1 351.2,199.1 348.7,200.7 347.7,201.1 345.7,201.5 343.7,201.4 342.7,201.2 340.7,200.3 337.7,198.0 329.7,191.0 327.8,188.2 324.3,181.2 321.8,177.2 318.8,173.8 314.8,170.5 311.8,169.1 303.8,166.9 300.8,165.8 297.8,164.1 294.2,161.4 291.8,159.8 283.8,157.0 277.8,154.4 267.8,148.7 258.8,145.1 256.0,143.5ZM224.9,203.0 227.9,203.4 230.9,204.1 240.9,207.5 246.3,210.0 248.9,211.7 250.2,213.0 252.2,216.0 254.0,219.9 255.4,223.9 255.9,226.9 256.0,229.9 255.4,232.8 254.9,233.9 253.9,234.8 252.9,235.5 250.9,236.1 247.9,236.2 231.9,235.4 224.9,234.8 224.9,234.2 231.9,234.5 238.9,234.5 244.9,234.3 247.9,233.8 250.3,232.8 251.9,231.3 252.9,229.1 253.1,226.9 252.7,222.9 251.0,217.9 249.4,215.0 246.9,212.2 242.9,209.7 236.9,207.2 229.9,205.0 224.9,204.2ZM356.7,206.9 356.7,211.1 354.6,215.0 353.6,218.9 353.4,223.9 353.7,236.8 353.6,238.8 353.0,238.8 353.0,230.9 352.6,221.9 352.9,217.0 353.8,213.0Z"/>
<path fill="#70a25a" stroke="#70a25a" stroke-width="0.6" fill-rule="evenodd" d="M254.5,141.5 255.7,141.5 260.6,144.5 269.8,148.1 276.8,151.9 280.0,153.4 285.8,155.8 292.9,158.4 294.8,159.4 299.8,162.5 302.8,164.0 305.8,164.7 308.8,165.0 312.8,164.7 316.8,163.8 317.8,163.7 318.8,164.2 326.5,175.3 331.2,185.2 333.0,188.2 335.7,191.0 338.7,193.4 341.7,194.9 343.7,195.1 345.7,194.6 347.7,193.0 349.0,191.1 350.2,188.2 351.1,184.2 351.6,179.2 351.2,176.2 350.1,174.3 345.0,169.3 342.7,167.6 340.7,166.3 329.7,161.4 324.7,160.8 322.8,160.3 321.8,159.5 321.1,158.4 319.7,154.4 317.8,151.4 316.3,150.4 312.8,149.0 310.6,147.5 309.6,146.5 308.3,144.5 306.9,141.5 307.5,141.5 309.0,144.5 310.5,146.5 312.8,148.2 316.8,150.1 318.7,151.4 320.1,153.4 321.8,156.4 322.8,157.6 323.8,158.5 325.7,159.4 330.7,160.7 341.1,165.3 344.7,167.8 350.2,172.3 352.3,174.3 353.4,176.2 353.7,178.2 353.1,186.2 351.5,192.1 350.5,194.1 348.7,196.3 347.7,197.1 345.7,198.1 343.7,198.3 342.7,198.1 340.7,197.4 338.7,196.1 333.8,192.1 331.7,190.1 330.2,188.2 325.7,179.1 323.3,175.3 319.8,171.2 316.4,168.3 314.0,167.3 305.8,166.0 301.8,164.9 298.8,163.3 292.8,159.3 290.8,158.4 284.8,156.4 278.8,153.9 268.9,148.4 261.8,145.7 259.1,144.5ZM224.9,204.2 227.9,204.6 230.9,205.3 239.9,208.4 245.1,211.0 246.9,212.2 248.7,214.0 250.0,216.0 251.3,218.9 252.7,222.9 253.1,225.9 253.1,227.9 252.6,229.9 251.5,231.9 249.9,233.1 246.9,234.0 242.9,234.4 232.9,234.6 224.9,234.2 224.9,233.5 230.9,233.7 237.9,233.5 242.9,232.9 245.9,232.1 247.9,231.0 249.1,229.9 250.2,227.9 250.6,224.9 250.2,221.9 248.9,217.9 247.2,215.0 245.3,213.0 241.9,210.7 235.9,208.1 229.9,206.2 224.9,205.3ZM356.7,211.1 356.7,213.6 355.0,217.0 354.4,219.9 354.1,224.9 354.1,238.8 353.6,238.8 353.4,222.9 353.6,218.9 354.6,215.0Z"/>
<path fill="#79aa52" stroke="#79aa52" stroke-width="0.6" fill-rule="evenodd" d="M255.7,141.5 257.0,141.5 259.8,143.4 261.8,144.4 270.2,147.5 277.8,151.4 283.8,154.1 293.8,157.8 302.0,162.3 304.8,163.2 307.8,163.4 310.8,163.1 313.8,162.0 317.8,159.1 318.8,157.6 318.9,156.4 318.2,153.4 317.7,152.4 316.8,151.4 311.8,149.2 309.8,147.7 308.8,146.5 307.6,144.5 306.3,141.5 306.9,141.5 308.8,145.3 310.6,147.5 312.8,149.0 316.3,150.4 317.8,151.4 319.7,154.4 321.1,158.4 321.8,159.5 322.8,160.3 324.7,160.8 329.7,161.4 340.7,166.3 342.7,167.6 345.0,169.3 350.1,174.3 350.8,175.3 351.5,177.2 351.6,179.2 351.4,182.2 350.7,186.2 349.8,189.2 348.7,191.6 347.6,193.1 346.5,194.1 344.7,195.0 343.7,195.1 341.7,194.9 338.7,193.4 334.8,190.1 333.0,188.2 331.7,186.2 327.5,177.2 325.9,174.3 321.5,168.3 318.8,164.2 317.8,163.7 316.8,163.8 312.8,164.7 308.8,165.0 305.8,164.7 302.8,164.0 299.8,162.5 294.8,159.4 292.9,158.4 284.8,155.5 278.8,152.9 269.8,148.1 260.6,144.5ZM326.7,163.3 325.3,164.3 324.9,165.3 325.0,166.3 325.9,168.3 328.6,172.3 331.7,180.4 333.7,184.6 335.7,187.5 338.7,190.3 340.0,191.1 341.7,191.9 342.7,192.0 343.7,192.0 345.3,191.1 346.3,190.1 347.3,188.2 348.0,186.2 348.9,182.2 349.3,179.2 349.1,177.2 348.4,175.3 347.0,173.3 345.2,171.3 342.9,169.3 340.7,167.9 330.4,163.3 328.7,163.1ZM224.9,205.3 227.9,205.7 230.9,206.4 238.9,209.3 241.9,210.7 244.0,212.0 245.9,213.5 247.2,215.0 248.4,217.0 249.6,219.9 250.4,222.9 250.6,225.9 250.2,227.9 249.1,229.9 248.1,230.9 246.5,231.9 243.2,232.8 238.9,233.4 231.9,233.7 224.9,233.5 224.9,232.8 229.9,232.9 236.9,232.5 240.8,231.9 243.8,230.9 245.9,229.6 247.3,227.9 248.1,225.9 248.3,223.9 247.9,220.9 246.9,217.8 245.0,215.0 242.9,213.0 239.5,211.0 234.9,209.0 228.9,207.1 224.9,206.5ZM356.7,213.6 356.7,215.8 355.4,218.9 355.0,221.9 354.7,227.9 354.7,238.8 354.1,238.8 354.3,220.9 355.0,217.0Z"/>
<path fill="#80b24a" stroke="#80b24a" stroke-width="0.6" fill-rule="evenodd" d="M257.0,141.5 258.3,141.5 260.8,143.2 262.8,144.2 270.8,146.9 278.8,150.8 284.8,153.5 295.3,157.4 302.8,161.3 304.8,161.8 306.8,161.9 308.8,161.8 310.8,161.3 313.8,159.8 316.6,157.4 317.2,156.4 317.4,155.4 317.1,153.4 316.4,152.4 314.8,151.4 312.8,150.7 310.8,149.6 308.8,147.7 307.8,146.3 305.7,141.5 306.3,141.5 308.1,145.5 309.8,147.7 311.8,149.2 316.8,151.4 317.7,152.4 318.8,155.4 318.8,157.4 318.4,158.4 317.5,159.4 313.8,162.0 311.8,162.9 309.8,163.3 307.8,163.4 305.8,163.4 303.8,163.0 300.8,161.7 296.8,159.3 293.8,157.8 284.6,154.4 277.8,151.4 270.2,147.5 261.8,144.4 259.8,143.4ZM326.7,163.3 328.7,163.1 330.4,163.3 340.7,167.9 342.9,169.3 345.2,171.3 347.0,173.3 348.4,175.3 349.1,177.2 349.3,179.2 348.9,182.2 348.0,186.2 347.3,188.2 346.3,190.1 345.3,191.1 343.7,192.0 342.7,192.0 341.7,191.9 340.0,191.1 338.7,190.3 335.7,187.5 333.7,184.6 331.7,180.4 328.6,172.3 325.9,168.3 325.0,166.3 324.9,165.3 325.3,164.3ZM333.7,168.3 332.8,169.3 332.7,172.3 333.4,176.2 334.7,179.7 336.7,183.3 338.7,185.6 340.7,187.1 341.7,187.4 342.7,187.3 343.7,186.6 344.6,185.2 345.7,182.0 346.3,178.2 345.7,175.3 343.7,172.3 342.7,171.3 341.3,170.3 339.3,169.3 336.7,168.5 334.7,168.2ZM224.9,206.5 227.9,206.9 230.9,207.6 237.9,210.2 240.9,211.7 242.8,213.0 244.0,214.0 245.8,216.0 246.9,217.9 247.7,219.9 248.2,222.9 248.3,224.9 247.8,226.9 246.9,228.5 245.5,229.9 243.8,230.9 240.8,231.9 236.9,232.5 229.9,232.9 224.9,232.8 224.9,232.1 228.9,232.1 234.9,231.6 238.9,231.0 241.9,229.9 243.9,228.5 245.2,226.9 246.0,224.9 246.2,222.9 245.7,219.9 244.9,217.9 243.7,216.0 241.6,214.0 238.6,212.0 234.1,210.0 228.9,208.3 224.9,207.7ZM356.7,215.8 356.7,218.1 355.9,220.9 355.3,226.9 355.2,238.8 354.7,238.8 354.7,227.9 355.0,221.9 355.4,218.9Z"/>
<path fill="#88ba43" stroke="#88ba43" stroke-width="0.6" fill-rule="evenodd" d="M258.3,141.5 259.5,141.5 261.8,143.0 263.8,143.9 272.8,146.9 287.8,153.8 296.8,156.8 303.8,160.0 305.8,160.3 308.8,159.9 310.8,159.2 312.4,158.4 313.8,157.4 314.9,156.4 315.4,155.4 315.5,154.4 315.2,153.4 313.9,152.4 310.8,150.9 309.0,149.4 308.1,148.4 306.8,146.1 305.1,141.5 305.7,141.5 307.4,145.5 309.4,148.4 311.8,150.2 314.8,151.4 316.4,152.4 317.1,153.4 317.3,154.4 317.2,156.4 316.6,157.4 314.8,159.1 312.8,160.4 310.8,161.3 308.8,161.8 306.8,161.9 303.8,161.6 301.8,160.8 295.3,157.4 284.8,153.5 277.9,150.4 271.8,147.3 262.8,144.2 260.8,143.2ZM333.7,168.3 334.7,168.2 336.7,168.5 339.3,169.3 341.3,170.3 342.7,171.3 343.7,172.3 345.7,175.3 346.3,178.2 345.7,182.0 344.6,185.2 343.7,186.6 342.7,187.3 341.7,187.4 340.7,187.1 338.7,185.6 336.7,183.3 334.7,179.7 333.4,176.2 332.7,172.3 332.8,169.3ZM224.9,207.7 226.9,207.9 229.9,208.6 233.9,209.9 236.9,211.2 239.9,212.7 241.6,214.0 242.9,215.1 244.4,217.0 245.4,218.9 246.0,220.9 246.2,222.9 246.0,224.9 245.2,226.9 244.5,227.9 242.9,229.3 240.9,230.3 237.9,231.2 233.9,231.7 228.9,232.1 224.9,232.1 224.9,231.3 227.9,231.3 232.9,230.8 237.9,229.9 239.9,229.1 241.7,227.9 242.9,226.6 243.8,224.9 244.1,222.9 243.8,219.9 242.9,217.9 241.4,216.0 239.9,214.6 236.9,212.7 233.1,211.0 228.9,209.6 224.9,208.9ZM356.7,218.1 356.7,221.3 355.8,228.9 356.0,234.8 355.8,238.8 355.2,238.8 355.3,226.9 355.9,220.9Z"/>
<path fill="#8dc03e" stroke="#8dc03e" stroke-width="0.6" fill-rule="evenodd" d="M259.5,141.5 260.8,141.5 262.8,142.7 264.6,143.5 270.8,145.2 273.8,146.3 289.8,153.6 297.8,155.9 303.8,157.9 305.8,158.1 308.8,157.5 310.8,156.5 311.8,155.4 312.0,154.4 311.4,153.4 308.0,150.4 306.8,148.5 304.4,141.5 305.1,141.5 306.8,146.1 308.1,148.4 309.0,149.4 310.8,150.9 313.9,152.4 315.2,153.4 315.5,154.4 315.4,155.4 314.9,156.4 313.8,157.4 312.4,158.4 310.4,159.4 308.8,159.9 306.8,160.3 304.8,160.2 303.8,160.0 296.8,156.8 286.9,153.4 272.8,146.9 262.9,143.5ZM224.9,208.9 226.9,209.2 230.2,210.0 233.9,211.3 236.9,212.7 240.4,215.0 241.9,216.5 242.9,217.9 243.8,219.9 244.1,221.9 243.8,224.9 242.9,226.6 241.7,227.9 240.3,228.9 237.9,229.9 234.9,230.5 230.9,231.1 227.9,231.3 224.9,231.3 224.9,230.5 227.9,230.5 232.2,229.9 236.4,228.9 238.7,227.9 240.0,226.9 241.4,224.9 241.9,223.7 242.1,221.9 241.7,219.9 240.8,217.9 239.9,216.8 237.9,215.0 234.9,213.3 231.7,212.0 227.9,210.8 224.9,210.4ZM356.7,221.3 356.7,226.2 356.4,228.9 356.6,234.8 356.4,238.8 355.8,238.8 356.0,234.8 355.8,228.9Z"/>
<path fill="#92c539" stroke="#92c539" stroke-width="0.6" fill-rule="evenodd" d="M260.8,141.5 262.1,141.5 264.8,142.8 271.8,144.6 275.8,146.0 282.8,149.1 288.8,152.2 290.8,152.9 298.8,154.6 302.8,154.9 303.8,154.8 305.1,154.4 305.9,153.4 306.0,152.4 304.8,146.5 303.5,141.5 304.4,141.5 306.8,148.5 307.8,150.2 308.8,151.3 311.4,153.4 312.0,154.4 311.8,155.4 310.9,156.4 308.8,157.5 305.8,158.1 303.8,157.9 297.8,155.9 289.3,153.4 274.8,146.7 270.8,145.2 264.6,143.5 262.8,142.7ZM224.9,210.4 226.9,210.6 228.9,211.1 231.9,212.1 234.9,213.3 236.9,214.4 238.9,215.8 240.8,217.9 242.0,220.9 241.8,223.9 240.9,225.9 240.0,226.9 238.7,227.9 236.9,228.7 233.9,229.5 229.9,230.2 226.9,230.5 224.9,230.5 224.9,229.6 226.9,229.6 231.1,228.9 234.6,227.9 236.8,226.9 238.1,225.9 238.9,224.9 239.4,223.9 239.9,221.9 239.5,219.9 239.1,218.9 238.4,217.9 236.9,216.5 234.5,215.0 230.9,213.4 227.9,212.6 224.9,212.3ZM356.7,226.2 356.7,238.8 356.4,238.8 356.6,234.8 356.4,228.9Z"/>
<path fill="#96c936" stroke="#96c936" stroke-width="0.6" fill-rule="evenodd" d="M262.1,141.5 263.6,141.5 265.8,142.4 272.8,143.9 276.8,145.1 282.8,147.6 289.7,151.4 290.8,151.8 293.8,152.4 297.8,152.8 299.8,152.6 300.8,152.3 301.8,151.8 302.8,150.4 303.4,148.4 303.5,146.5 303.1,143.5 302.3,141.5 303.5,141.5 304.8,146.5 306.0,152.4 305.9,153.4 304.8,154.6 303.8,154.8 301.8,154.9 297.8,154.4 291.8,153.2 289.3,152.4 282.8,149.1 275.8,146.0 271.8,144.6 264.8,142.8ZM224.9,212.3 226.9,212.4 229.9,213.1 232.9,214.2 235.9,215.8 237.5,217.0 238.9,218.6 239.5,219.9 239.9,221.9 239.4,223.9 238.9,224.9 238.1,225.9 236.8,226.9 234.6,227.9 231.1,228.9 227.9,229.5 225.9,229.6 224.9,229.6 224.9,228.4 226.9,228.4 229.5,227.9 232.5,226.9 234.9,225.6 235.8,224.9 236.6,223.9 237.1,222.9 237.2,220.9 236.9,219.9 235.9,218.5 234.9,217.6 232.9,216.4 230.9,215.5 228.9,214.9 226.9,214.7 224.9,214.8Z"/>
<path fill="#9acd32" stroke="#9acd32" stroke-width="0.6" fill-rule="evenodd" d="M263.6,141.5 265.9,141.5 273.8,143.0 277.8,144.0 283.8,146.3 290.8,150.4 292.8,150.9 294.8,151.0 296.8,151.0 298.8,150.5 299.8,150.0 300.8,149.0 301.6,147.5 301.9,145.5 301.7,143.5 300.6,141.5 302.3,141.5 302.8,142.5 303.4,145.5 303.5,147.5 303.2,149.4 302.8,150.5 301.8,151.8 300.8,152.3 299.8,152.6 296.8,152.7 291.8,152.1 289.7,151.4 283.8,148.1 277.8,145.5 272.8,143.9 265.8,142.4ZM226.9,214.7 228.9,214.9 230.9,215.5 234.0,217.0 236.3,218.9 236.9,219.9 237.3,221.9 236.6,223.9 235.8,224.9 234.5,225.9 232.5,226.9 229.9,227.8 225.9,228.5 224.9,228.4 224.9,226.3 225.9,226.6 226.9,226.6 229.9,225.8 231.5,224.9 232.7,223.9 233.4,222.9 233.6,221.9 233.5,220.9 232.9,219.9 231.8,218.9 229.9,218.1 228.9,217.9 226.9,217.9 224.9,218.8 224.9,214.8Z"/>
<path fill="#9ed12f" stroke="#9ed12f" stroke-width="0.6" fill-rule="evenodd" d="M265.9,141.5 272.0,141.5 276.8,142.2 280.8,143.1 285.8,144.7 291.7,148.4 293.8,148.8 295.8,148.7 296.8,148.5 298.4,147.5 299.1,146.5 299.5,144.5 298.8,142.6 297.8,141.5 300.6,141.5 301.3,142.5 301.8,144.5 301.6,147.5 300.4,149.4 298.8,150.5 295.8,151.0 291.8,150.7 289.8,149.9 284.8,146.8 279.8,144.7 274.8,143.2ZM229.9,218.1 231.8,218.9 232.9,219.9 233.5,220.9 233.6,221.9 233.4,222.9 232.7,223.9 231.9,224.6 229.9,225.8 227.9,226.4 225.9,226.6 224.9,226.3 224.9,218.8 226.9,217.9 228.9,217.9Z"/>
<path fill="#a2d52c" stroke="#a2d52c" stroke-width="0.6" fill-rule="evenodd" d="M272.0,141.5 297.8,141.5 298.7,142.5 299.3,143.5 299.5,145.5 299.1,146.5 298.4,147.5 296.8,148.4 294.8,148.8 292.8,148.7 291.8,148.5 290.8,148.0 286.8,145.2 283.8,144.0 277.8,142.4Z"/>
</g>
<rect x="224.9" y="141.5" width="131.8" height="97.3" fill="none" stroke="#222" stroke-width="1"/>
<path d="M224.9,238.8v5.2M224.9,238.8h-5.5M251.3,238.8v5.2M224.9,219.3h-5.5M277.6,238.8v5.2M224.9,199.9h-5.5M304.0,238.8v5.2M224.9,180.4h-5.5M330.3,238.8v5.2M224.9,161.0h-5.5M356.7,238.8v5.2M224.9,141.5h-5.5" stroke="#222" stroke-width="1" fill="none"/>
<text class="tk" x="223.9" y="256.9" text-anchor="middle">0.0</text>
<text class="tk" x="214.4" y="243.9" text-anchor="end">0.0</text>
<text class="tk" x="250.3" y="256.9" text-anchor="middle">0.2</text>
<text class="tk" x="214.4" y="224.4" text-anchor="end">0.2</text>
<text class="tk" x="276.6" y="256.9" text-anchor="middle">0.4</text>
<text class="tk" x="214.4" y="205.0" text-anchor="end">0.4</text>
<text class="tk" x="303.0" y="256.9" text-anchor="middle">0.6</text>
<text class="tk" x="214.4" y="185.5" text-anchor="end">0.6</text>
<text class="tk" x="329.3" y="256.9" text-anchor="middle">0.8</text>
<text class="tk" x="214.4" y="166.1" text-anchor="end">0.8</text>
<text class="tk" x="355.7" y="256.9" text-anchor="middle">1.0</text>
<text class="tk" x="214.4" y="146.6" text-anchor="end">1.0</text>
<text class="xl" x="290.5" y="268.3" text-anchor="middle">u (Rs)</text>
<text class="xl" transform="translate(194.2,191.2) rotate(-90)" text-anchor="middle">v (WB ET)</text>
<text class="pl" x="226.0" y="149.8">(c)</text>
</g>
<g>
<clipPath id="cpf"><rect x="406.2" y="141.5" width="131.8" height="97.3"/></clipPath>
<g clip-path="url(#cpf)">
<path fill="#fffff0" stroke="#fffff0" stroke-width="0.6" fill-rule="evenodd" d="M538.0,188.1 538.0,230.5 537.5,228.9 536.9,224.9 537.1,218.9 536.9,202.1 536.1,194.1 536.1,192.1 536.7,190.1Z"/>
<path fill="#f6f8eb" stroke="#f6f8eb" stroke-width="0.6" fill-rule="evenodd" d="M538.0,185.6 538.0,188.1 536.7,190.1 536.1,192.1 536.1,194.1 536.9,202.1 537.1,218.9 536.9,224.9 537.5,228.9 538.0,230.5 538.0,232.8 536.5,228.9 535.6,223.9 534.7,202.1 534.0,194.1 534.3,191.1 535.0,189.2 536.1,187.2Z"/>
<path fill="#ecf0e6" stroke="#ecf0e6" stroke-width="0.6" fill-rule="evenodd" d="M538.0,183.7 538.0,185.6 536.1,187.2 535.0,189.2 534.3,191.1 534.0,194.1 534.7,202.1 535.6,223.9 536.5,228.9 538.0,232.8 538.0,234.9 535.3,227.9 534.1,221.9 533.2,213.0 532.3,194.1 532.9,190.1 534.0,187.5 536.0,184.9ZM481.1,238.8 485.1,238.4 489.6,238.8Z"/>
<path fill="#e2e8e1" stroke="#e2e8e1" stroke-width="0.6" fill-rule="evenodd" d="M538.0,182.2 538.0,183.7 537.0,184.2 535.7,185.2 533.7,188.2 532.6,191.1 532.3,194.1 533.2,213.0 534.1,221.9 535.3,227.9 538.0,234.9 538.0,237.2 534.1,226.9 532.3,219.9 531.4,212.0 530.7,195.1 531.0,191.1 531.6,189.2 532.6,187.2 533.9,185.2 536.0,183.1ZM475.6,238.8 480.1,238.1 485.1,237.7 495.9,238.8 489.6,238.8 485.1,238.4 481.1,238.8Z"/>
<path fill="#d8e1dc" stroke="#d8e1dc" stroke-width="0.6" fill-rule="evenodd" d="M476.7,145.5 477.1,143.5 478.1,141.5 497.3,141.5 500.0,143.5 500.7,144.5 500.9,145.5 500.5,146.5 499.5,147.5 497.5,148.4 490.1,151.0 487.1,151.6 485.1,151.7 483.1,151.4 481.1,150.8 478.6,149.4 477.6,148.4 477.0,147.5ZM538.0,181.0 538.0,182.2 536.0,183.1 534.8,184.2 533.2,186.2 532.1,188.2 531.0,191.1 530.7,195.1 531.4,212.0 532.2,218.9 533.8,225.9 538.0,237.2 538.0,238.8 537.5,238.8 536.2,234.8 532.0,223.9 530.7,218.9 529.8,212.0 529.2,195.1 529.4,192.1 529.8,190.1 531.7,186.2 533.1,184.2 535.0,182.4 537.0,181.2ZM406.2,197.1 408.2,198.5 410.2,201.0 411.0,203.1 411.3,205.0 410.9,208.0 410.2,210.1 409.2,211.4 408.2,212.0 407.2,212.3 406.2,212.2ZM471.8,238.8 474.1,238.1 477.1,237.5 484.1,237.0 490.1,237.4 498.1,238.4 499.7,238.8 495.9,238.8 485.1,237.7 480.1,238.1 475.6,238.8Z"/>
<path fill="#ccd8d6" stroke="#ccd8d6" stroke-width="0.6" fill-rule="evenodd" d="M470.6,144.5 471.5,141.5 478.1,141.5 477.1,143.5 476.7,145.5 477.0,147.5 477.6,148.4 478.6,149.4 480.2,150.4 483.1,151.4 485.1,151.7 488.1,151.4 492.1,150.4 497.5,148.4 499.5,147.5 500.5,146.5 500.9,145.5 500.7,144.5 500.0,143.5 497.3,141.5 504.9,141.5 505.9,143.5 506.1,146.5 505.6,148.4 504.5,150.4 503.1,151.9 501.1,152.9 495.2,154.4 491.1,155.2 487.1,155.6 483.1,155.6 480.1,155.3 476.8,154.4 474.1,153.3 472.1,151.9 471.0,150.4 470.4,148.4 470.3,146.5ZM538.0,180.0 538.0,181.0 537.0,181.2 535.0,182.4 533.1,184.2 531.7,186.2 529.8,190.1 529.2,194.1 529.7,211.0 530.5,217.9 532.0,223.9 537.3,237.8 537.5,238.8 536.5,238.8 534.8,232.8 530.4,222.9 529.0,217.9 528.2,211.0 527.8,194.1 528.4,190.1 529.2,188.2 530.9,185.2 532.5,183.2 534.0,181.8 536.0,180.6ZM406.2,193.6 407.3,194.1 409.2,195.4 411.8,198.1 413.6,201.1 414.3,204.1 413.9,209.0 412.7,213.0 411.2,215.0 410.2,215.6 408.2,216.0 406.2,215.7 406.2,212.2 407.2,212.3 408.3,212.0 409.2,211.4 410.2,210.1 411.1,207.0 411.2,204.1 410.7,202.1 409.6,200.1 408.2,198.5 406.2,197.1ZM469.2,238.8 471.3,237.8 474.1,237.0 478.1,236.5 482.1,236.3 487.1,236.4 491.1,236.8 498.1,237.8 501.8,238.8 499.7,238.8 498.1,238.4 489.1,237.3 484.1,237.0 478.1,237.4 475.1,237.8 471.8,238.8Z"/>
<path fill="#c1cfd0" stroke="#c1cfd0" stroke-width="0.6" fill-rule="evenodd" d="M466.5,141.5 471.5,141.5 470.6,144.5 470.3,146.5 470.4,148.4 471.0,150.4 471.7,151.4 473.1,152.7 475.1,153.8 478.1,154.8 480.1,155.3 483.1,155.6 489.1,155.5 495.2,154.4 500.1,153.2 502.1,152.5 503.6,151.4 504.5,150.4 505.2,149.4 505.9,147.5 506.1,144.5 505.5,142.5 504.9,141.5 507.6,141.5 508.0,142.6 508.3,144.5 508.2,147.5 507.0,151.7 506.0,153.5 504.1,155.6 502.1,156.7 500.1,157.2 493.1,158.7 490.1,159.1 481.1,159.1 477.1,158.5 474.1,157.5 471.1,156.0 468.9,154.4 467.3,152.4 466.4,150.4 465.8,147.5 465.9,144.5ZM538.0,179.2 538.0,180.0 536.0,180.6 534.0,181.8 532.5,183.2 530.9,185.2 529.2,188.2 528.4,190.1 527.8,194.1 528.2,211.0 528.9,217.0 530.4,222.9 534.0,230.9 535.8,235.8 536.5,238.8 535.5,238.8 535.0,235.8 534.1,232.8 532.8,229.9 529.2,222.9 527.7,217.9 526.8,211.0 526.5,193.1 527.0,190.1 527.7,188.2 528.9,186.2 531.0,183.3 533.0,181.3 534.6,180.2 536.0,179.6ZM406.2,191.1 408.2,192.1 409.7,193.1 412.0,195.1 413.9,197.1 415.9,200.1 416.7,203.1 416.6,206.0 416.0,211.0 415.0,215.0 413.6,217.0 412.4,217.9 411.2,218.5 409.2,218.9 408.2,218.8 406.2,218.2 406.2,215.7 408.2,216.0 409.2,215.9 410.2,215.6 411.2,215.0 412.2,213.9 413.2,211.8 413.9,209.0 414.3,206.0 414.2,203.2 413.2,200.1 411.8,198.1 409.2,195.4 407.3,194.1 406.2,193.6ZM466.9,238.8 469.1,237.6 472.1,236.5 476.1,235.8 480.1,235.5 488.1,235.8 491.1,236.1 499.1,237.4 504.0,238.8 501.8,238.8 498.1,237.8 490.1,236.7 482.1,236.3 478.1,236.5 475.1,236.8 472.1,237.5 469.2,238.8Z"/>
<path fill="#b2c4c8" stroke="#b2c4c8" stroke-width="0.6" fill-rule="evenodd" d="M462.3,141.5 466.5,141.5 465.8,145.5 466.1,149.4 467.3,152.4 469.1,154.6 471.8,156.4 475.1,157.9 479.1,158.9 482.1,159.2 490.1,159.1 493.1,158.7 501.1,157.0 503.1,156.2 504.1,155.6 506.1,153.4 507.0,151.7 507.8,149.4 508.2,147.5 508.3,144.5 508.0,142.6 507.6,141.5 509.4,141.5 509.8,144.5 509.5,149.4 508.8,152.4 507.0,156.5 505.1,158.9 503.1,160.2 501.1,160.9 498.7,161.4 493.1,163.0 489.1,163.4 481.1,163.4 478.1,163.0 476.1,162.4 468.1,158.6 466.1,157.1 464.1,154.7 462.5,151.4 461.9,148.4 461.8,145.5ZM538.0,178.4 538.0,179.2 537.0,179.3 535.0,180.0 533.1,181.2 530.3,184.2 528.3,187.2 527.3,189.2 526.7,191.1 526.5,193.1 526.8,210.0 527.5,217.0 528.1,219.9 529.2,222.9 532.8,229.9 534.4,233.8 535.5,238.8 534.6,238.8 534.2,235.8 533.0,231.9 532.0,229.8 527.9,222.9 526.3,217.9 525.5,211.0 525.5,203.1 525.2,192.1 525.5,190.1 526.8,187.2 528.9,184.2 530.5,182.2 532.0,180.8 534.0,179.5 536.0,178.7ZM406.2,189.3 408.2,190.1 409.9,191.1 412.5,193.1 414.6,195.1 416.4,197.1 417.9,199.1 418.4,200.1 418.9,202.1 418.9,205.0 418.0,213.0 417.2,216.3 416.2,217.9 414.2,219.7 412.2,220.6 410.2,221.0 408.2,221.0 406.2,220.4 406.2,218.2 408.2,218.8 409.2,218.9 411.2,218.5 413.2,217.4 414.4,216.0 415.4,214.0 415.8,212.0 416.6,206.0 416.7,203.1 416.2,200.7 414.7,198.1 413.0,196.1 410.2,193.5 408.2,192.1 406.2,191.1ZM464.6,238.8 468.0,236.8 471.1,235.7 475.1,234.9 479.1,234.7 489.1,235.2 492.1,235.5 501.1,237.3 506.3,238.8 504.0,238.8 499.1,237.4 491.1,236.1 488.1,235.8 480.1,235.5 476.1,235.8 473.1,236.2 470.1,237.1 466.9,238.8Z"/>
<path fill="#a3b9c1" stroke="#a3b9c1" stroke-width="0.6" fill-rule="evenodd" d="M458.6,141.5 462.3,141.5 461.8,146.5 462.3,150.4 462.9,152.4 463.9,154.4 466.1,157.1 469.1,159.2 475.1,162.0 478.1,163.0 482.1,163.4 490.1,163.4 493.1,163.0 502.1,160.6 504.1,159.6 505.1,158.9 507.0,156.5 508.8,152.4 509.5,149.4 509.8,145.5 509.8,143.5 509.4,141.5 510.7,141.5 511.0,144.5 510.5,151.4 509.0,157.2 508.0,159.5 507.0,161.1 505.1,163.1 502.1,165.0 498.9,166.3 495.1,167.3 488.1,168.0 484.1,168.2 478.1,167.4 474.1,166.3 469.1,163.8 465.1,161.2 462.1,158.5 460.6,156.4 459.1,153.4 458.2,149.4 458.1,145.5ZM538.0,177.7 538.0,178.4 535.0,179.1 533.0,180.1 531.6,181.2 530.0,182.8 528.1,185.2 526.3,188.2 525.5,190.1 525.2,192.1 525.5,203.1 525.5,210.0 526.2,217.0 526.8,219.9 527.9,222.9 532.0,229.8 533.4,232.8 534.6,237.8 534.6,238.8 533.7,238.8 533.5,235.8 532.3,231.9 531.0,229.4 527.2,223.9 525.9,220.9 525.1,217.9 524.3,211.0 524.3,202.1 523.9,192.1 524.4,189.2 525.4,187.2 527.4,184.2 530.0,181.2 532.0,179.6 534.0,178.6 536.0,177.9ZM406.2,187.8 408.2,188.5 411.1,190.1 415.9,194.1 417.9,196.1 419.4,198.1 420.4,200.1 420.9,202.1 421.0,205.0 420.2,214.0 419.8,216.0 419.0,217.9 417.3,219.9 416.0,220.9 413.2,222.2 410.2,222.8 408.2,222.7 406.2,222.1 406.2,220.4 408.2,221.0 409.2,221.1 411.2,220.9 413.7,219.9 415.2,218.9 416.2,217.9 417.3,216.0 417.9,214.0 418.9,205.0 418.9,202.1 418.4,200.1 417.9,199.1 415.6,196.1 412.5,193.1 410.2,191.4 408.2,190.1 406.2,189.3ZM462.3,238.8 465.2,236.8 467.4,235.8 470.1,234.9 474.1,234.1 479.1,233.9 489.1,234.4 492.1,234.8 502.1,236.8 508.6,238.8 506.3,238.8 500.1,237.0 491.1,235.4 479.1,234.7 475.1,234.9 472.1,235.4 468.0,236.8 464.6,238.8Z"/>
<path fill="#92acb8" stroke="#92acb8" stroke-width="0.6" fill-rule="evenodd" d="M455.2,141.5 458.6,141.5 458.1,147.5 458.8,152.4 460.6,156.4 462.0,158.4 464.0,160.4 468.1,163.2 474.1,166.3 476.1,167.0 479.1,167.6 485.1,168.2 494.1,167.4 498.1,166.6 501.1,165.4 503.1,164.5 506.0,162.3 508.1,159.4 509.0,157.2 510.0,153.8 510.7,150.4 511.0,143.5 510.7,141.5 511.7,141.5 511.9,145.5 511.8,150.4 511.4,153.4 510.0,160.4 509.0,162.9 508.0,164.4 506.0,166.5 504.1,168.0 501.1,169.5 498.1,170.5 487.1,171.4 484.1,171.5 475.1,170.5 473.1,170.0 471.2,169.3 466.1,166.4 461.9,163.3 459.1,160.7 456.8,157.4 455.1,153.5 454.5,150.4 454.6,146.5ZM538.0,177.0 538.0,177.7 535.0,178.2 532.6,179.2 531.0,180.3 529.1,182.2 525.4,187.2 524.4,189.2 523.9,192.1 524.3,202.1 524.3,211.0 525.1,217.9 525.9,220.9 527.2,223.9 531.0,229.4 532.7,232.8 533.5,235.8 533.7,238.8 532.8,238.8 532.8,235.8 531.6,231.9 530.0,229.2 527.2,225.9 526.0,223.9 524.7,220.9 523.9,217.9 523.1,211.0 523.2,202.1 522.6,194.1 522.6,191.1 523.3,188.2 524.4,186.2 526.7,183.2 529.5,180.2 531.0,179.1 533.0,178.0 535.6,177.2ZM406.2,186.4 409.2,187.5 412.1,189.2 414.8,191.1 418.2,194.1 420.1,196.1 421.4,198.1 422.3,200.1 422.9,203.1 423.0,206.0 422.5,214.0 421.9,217.0 421.0,218.9 419.2,220.9 417.2,222.2 414.2,223.4 412.2,223.9 410.2,224.1 408.2,224.1 406.2,223.6 406.2,222.1 408.2,222.7 410.2,222.8 412.2,222.5 413.9,221.9 416.0,220.9 417.3,219.9 418.3,218.9 419.2,217.6 419.8,216.0 420.2,214.0 421.0,205.0 420.9,202.1 420.0,199.1 418.7,197.1 417.2,195.4 413.7,192.1 411.1,190.1 408.2,188.5 406.2,187.8ZM460.1,238.8 462.3,236.8 464.3,235.8 467.1,234.7 472.1,233.5 478.1,233.0 489.1,233.6 492.1,234.0 498.1,235.5 504.1,236.6 510.7,238.8 508.6,238.8 502.1,236.8 491.1,234.6 479.1,233.9 474.1,234.1 470.4,234.8 467.4,235.8 465.2,236.8 462.3,238.8Z"/>
<path fill="#819fb0" stroke="#819fb0" stroke-width="0.6" fill-rule="evenodd" d="M452.1,141.5 455.2,141.5 454.4,148.4 454.6,151.4 455.1,153.4 456.1,156.0 457.4,158.4 459.1,160.7 461.1,162.7 466.1,166.4 469.2,168.3 472.1,169.7 474.1,170.3 477.1,170.8 485.1,171.5 496.1,170.7 499.1,170.2 501.5,169.3 503.5,168.3 505.1,167.3 507.0,165.6 509.0,162.9 510.3,159.4 511.7,151.4 512.0,144.5 511.7,141.5 512.5,141.5 512.8,144.5 512.7,150.4 511.9,160.4 510.9,164.3 510.0,166.2 509.0,167.7 507.0,169.6 504.1,171.4 500.1,172.7 496.1,173.2 486.1,173.9 480.1,173.7 473.1,172.9 470.8,172.3 468.4,171.3 463.2,168.3 459.1,165.2 456.1,162.2 453.1,157.7 451.3,153.4 450.8,150.4 451.0,147.5ZM538.0,176.3 538.0,177.0 535.0,177.4 532.5,178.2 530.8,179.2 529.0,180.7 524.4,186.2 523.3,188.2 522.6,191.1 522.6,194.1 523.2,202.1 523.1,211.0 523.9,217.9 524.7,220.9 526.0,223.9 527.2,225.9 530.5,229.9 532.0,232.8 532.8,235.8 532.8,238.8 531.9,238.8 532.0,235.8 531.7,233.8 531.0,232.1 529.6,229.9 526.8,226.9 525.4,224.9 524.0,221.9 522.8,217.9 522.0,212.0 522.0,202.1 521.3,193.1 521.3,190.1 522.1,187.2 523.3,185.2 529.0,179.2 531.0,177.9 533.0,177.1 535.0,176.6ZM406.2,185.1 409.4,186.2 413.1,188.2 416.2,190.4 420.4,194.1 422.2,196.1 423.4,198.1 424.5,201.1 425.0,204.1 425.0,211.0 424.8,215.0 424.0,217.9 422.8,219.9 420.9,221.9 418.2,223.5 414.2,224.8 410.2,225.3 408.2,225.2 406.2,224.8 406.2,223.6 408.2,224.1 410.2,224.1 412.2,223.9 414.2,223.4 416.2,222.7 418.2,221.6 420.2,220.0 421.0,218.9 421.9,217.0 422.5,214.0 423.0,206.0 422.9,203.1 422.6,201.1 421.9,199.1 420.8,197.1 419.2,195.1 416.0,192.1 412.1,189.2 409.2,187.5 406.2,186.4ZM457.6,238.8 459.1,237.0 460.1,236.2 461.1,235.7 464.1,234.5 468.1,233.3 471.1,232.7 474.1,232.3 478.1,232.1 489.1,232.8 492.1,233.2 498.1,234.9 502.1,235.5 506.0,236.5 510.0,237.7 512.4,238.8 510.7,238.8 504.1,236.6 498.1,235.5 492.1,234.0 489.1,233.6 478.1,233.0 473.1,233.3 469.1,234.1 466.1,235.1 463.1,236.4 461.1,237.7 460.1,238.8Z"/>
<path fill="#7596aa" stroke="#7596aa" stroke-width="0.6" fill-rule="evenodd" d="M449.0,141.5 452.1,141.5 450.8,149.4 450.9,151.4 451.3,153.4 452.4,156.4 454.1,159.4 456.3,162.3 459.1,165.2 461.7,167.3 464.7,169.3 468.4,171.3 471.1,172.4 473.1,172.9 476.1,173.3 485.1,173.9 497.1,173.2 501.1,172.4 504.1,171.4 506.0,170.3 507.5,169.3 509.0,167.7 510.0,166.2 510.9,164.3 511.7,161.4 512.7,150.4 512.8,144.5 512.5,141.5 513.3,141.5 513.6,148.4 513.3,162.3 512.9,165.3 512.3,167.3 510.7,170.3 509.8,171.3 508.0,172.6 506.0,173.6 504.0,174.3 499.1,175.2 489.1,175.9 483.1,175.9 473.4,175.3 469.3,174.3 465.1,172.6 460.1,169.8 455.8,166.3 452.5,162.3 449.5,157.4 447.8,153.4 447.3,150.4 447.5,148.4ZM538.0,175.6 538.0,176.3 535.0,176.6 533.0,177.1 531.0,177.9 529.0,179.2 523.3,185.2 522.1,187.2 521.3,190.1 521.3,193.1 522.0,202.1 522.0,212.0 522.6,217.0 523.6,220.9 525.4,224.9 526.8,226.9 530.0,230.4 531.3,232.8 532.0,235.8 532.1,237.8 531.9,238.8 531.0,238.8 531.3,235.8 530.7,232.8 529.0,230.1 526.0,227.4 524.8,225.9 522.9,221.9 521.6,217.9 520.9,213.0 520.9,201.1 519.8,192.1 519.9,189.2 520.7,186.2 522.0,184.2 528.2,178.2 530.0,177.1 532.6,176.2 535.0,175.8ZM406.2,183.8 410.2,185.1 413.2,186.6 416.9,189.2 421.7,193.1 423.6,195.1 425.4,198.1 426.5,201.1 427.1,204.1 427.4,211.0 427.3,215.0 426.5,217.9 425.5,219.9 423.2,222.5 420.2,224.3 416.2,225.5 411.2,226.2 408.2,226.2 406.2,225.8 406.2,224.8 408.2,225.2 411.2,225.2 414.2,224.8 417.1,223.9 419.4,222.9 420.9,221.9 422.2,220.7 423.5,218.9 424.3,217.0 424.9,214.0 425.1,207.0 424.9,203.1 424.2,200.1 423.4,198.1 422.2,196.1 420.4,194.1 416.2,190.4 413.1,188.2 409.4,186.2 406.2,185.1ZM455.1,238.8 457.5,235.8 458.9,234.8 460.1,234.4 470.1,231.8 474.1,231.3 478.1,231.2 489.1,232.0 492.1,232.4 498.1,234.2 503.1,235.0 507.0,236.0 511.0,237.3 513.7,238.8 512.4,238.8 510.0,237.7 505.1,236.2 502.1,235.5 498.1,234.9 492.1,233.2 489.1,232.8 478.1,232.1 472.1,232.5 466.3,233.8 460.8,235.8 459.4,236.8 457.6,238.8Z"/>
<path fill="#698ca3" stroke="#698ca3" stroke-width="0.6" fill-rule="evenodd" d="M446.1,141.5 449.0,141.5 447.5,148.4 447.3,150.4 447.5,152.4 448.5,155.4 450.1,158.6 452.5,162.3 454.9,165.3 456.9,167.3 459.4,169.3 462.6,171.3 466.6,173.3 470.1,174.5 472.1,175.0 475.1,175.5 485.1,176.0 497.1,175.3 503.1,174.5 506.0,173.6 508.0,172.6 509.8,171.3 510.7,170.3 512.3,167.3 513.2,163.3 513.6,149.4 513.3,141.5 514.0,141.5 514.3,144.5 514.4,155.4 514.9,166.3 514.4,170.3 513.5,172.3 512.9,173.3 511.9,174.3 510.0,175.4 508.0,176.2 506.0,176.6 502.1,177.1 487.1,177.9 476.1,177.5 472.1,177.1 467.1,175.8 461.1,173.5 457.1,171.2 455.1,169.7 453.1,167.8 449.7,163.3 446.4,157.4 444.8,153.4 444.3,150.4 444.7,147.5ZM538.0,175.0 538.0,175.6 535.0,175.8 532.0,176.4 529.8,177.2 528.0,178.4 522.0,184.2 520.7,186.2 519.9,189.2 519.8,192.1 520.9,201.1 520.9,212.0 521.4,217.0 522.5,220.9 524.3,224.9 525.6,226.9 529.0,230.1 530.7,232.8 531.2,234.8 531.3,236.8 531.0,238.8 530.0,238.8 530.4,237.8 530.6,235.8 530.0,232.8 528.8,230.9 525.3,227.9 523.7,225.9 521.8,221.9 520.5,217.9 519.8,212.0 519.8,201.1 518.2,191.1 518.2,187.2 518.7,185.2 520.0,182.9 521.0,181.9 527.0,177.2 529.0,176.2 532.0,175.4 535.0,175.1ZM406.2,182.5 410.2,183.7 414.2,185.7 418.0,188.2 423.2,192.1 425.2,194.2 427.1,197.1 428.4,200.1 429.4,204.1 430.0,212.0 430.0,215.0 429.4,217.9 428.4,219.9 425.8,222.9 424.6,223.9 422.8,224.9 419.2,226.1 414.2,226.9 410.2,227.1 407.2,226.9 406.2,226.7 406.2,225.8 408.2,226.2 410.2,226.3 414.1,225.9 417.2,225.3 421.2,223.8 423.2,222.5 424.8,220.9 426.5,217.9 427.3,215.0 427.4,209.0 426.9,203.1 426.2,200.1 425.4,198.1 424.2,195.9 422.2,193.6 418.2,190.1 414.0,187.2 410.2,185.1 406.2,183.8ZM452.4,238.8 453.7,236.8 454.6,235.8 457.5,233.8 459.1,233.2 470.1,230.8 474.1,230.4 478.1,230.2 482.1,230.4 488.1,230.9 493.1,231.7 498.1,233.4 504.1,234.4 509.0,235.8 512.0,237.0 515.0,238.8 513.7,238.8 511.0,237.3 506.0,235.7 503.1,235.0 498.1,234.2 492.1,232.4 489.1,232.0 478.1,231.2 474.1,231.3 470.1,231.8 460.1,234.4 458.9,234.8 457.5,235.8 455.1,238.8Z"/>
<path fill="#5d839d" stroke="#5d839d" stroke-width="0.6" fill-rule="evenodd" d="M442.7,141.5 446.1,141.5 444.4,149.4 444.4,151.4 444.8,153.4 446.4,157.4 449.1,162.4 452.1,166.7 455.1,169.7 457.2,171.3 460.6,173.3 465.1,175.2 469.1,176.4 472.1,177.1 474.1,177.3 486.1,177.9 501.1,177.2 506.0,176.6 508.0,176.2 510.3,175.3 511.9,174.3 513.0,173.1 514.4,170.3 514.8,167.3 514.3,144.5 514.0,141.5 514.7,141.5 515.6,158.4 518.0,172.5 519.0,175.7 520.0,176.5 522.0,176.6 526.8,175.3 530.0,174.7 534.0,174.3 538.0,174.3 538.0,175.0 535.0,175.1 532.0,175.4 529.0,176.2 527.0,177.2 521.0,181.9 520.0,182.9 518.7,185.2 518.2,187.2 518.2,191.1 519.8,201.1 519.8,212.0 520.5,217.9 521.8,221.9 523.7,225.9 525.3,227.9 528.8,230.9 530.0,232.8 530.6,235.8 530.4,237.8 530.0,238.8 529.0,238.8 529.5,237.8 529.9,235.8 529.3,232.8 528.0,230.9 525.0,228.7 523.3,226.9 521.1,222.9 519.6,218.9 518.9,216.0 518.7,213.0 518.8,203.1 518.5,199.1 517.9,196.1 515.8,188.2 515.0,182.2 514.6,181.2 514.0,180.6 513.0,180.1 512.0,179.9 499.1,179.4 486.1,179.6 472.1,178.9 468.5,178.2 462.1,176.5 458.5,175.3 456.1,174.1 454.1,172.9 452.2,171.3 449.7,168.3 446.1,162.3 443.1,155.8 442.0,152.4 441.7,149.4ZM406.2,181.1 410.2,182.3 414.2,184.1 419.4,187.2 424.2,190.5 426.2,192.2 428.5,195.1 430.2,198.1 431.7,202.1 432.7,206.0 433.4,213.0 433.3,216.0 432.8,217.9 431.1,220.9 428.1,223.9 425.0,225.9 423.2,226.6 421.2,227.0 416.2,227.7 409.2,227.8 406.2,227.5 406.2,226.7 408.2,227.1 412.2,227.0 416.2,226.6 419.9,225.9 422.8,224.9 424.6,223.9 425.8,222.9 427.7,220.9 429.4,217.9 429.9,216.0 430.1,214.0 429.6,205.0 428.4,200.1 426.6,196.1 425.1,194.1 423.2,192.1 418.0,188.2 414.2,185.7 410.2,183.7 406.2,182.5ZM449.7,238.8 450.4,236.8 451.2,235.8 453.1,234.3 456.2,232.8 458.1,232.2 468.1,230.1 473.1,229.5 478.1,229.3 486.1,229.7 491.1,230.3 494.1,231.0 499.1,232.7 504.1,233.6 510.0,235.4 513.0,236.7 516.4,238.8 515.0,238.8 512.0,237.0 508.0,235.5 503.1,234.2 499.1,233.6 493.1,231.7 488.1,230.9 482.1,230.4 478.1,230.2 474.1,230.4 470.1,230.8 459.1,233.2 457.5,233.8 454.6,235.8 453.7,236.8 452.4,238.8Z"/>
<path fill="#517a97" stroke="#517a97" stroke-width="0.6" fill-rule="evenodd" d="M406.2,142.1 406.2,141.5 409.4,141.5ZM439.1,141.5 442.7,141.5 441.7,148.4 441.8,151.4 443.0,155.4 446.1,162.3 449.0,167.3 451.1,170.1 453.3,172.3 456.4,174.3 459.1,175.5 463.1,176.8 468.5,178.2 472.1,178.9 486.1,179.6 499.1,179.4 512.0,179.9 513.0,180.1 514.0,180.6 514.6,181.2 515.0,182.2 515.8,188.2 517.9,196.1 518.5,199.1 518.8,203.1 518.7,213.0 519.3,217.9 521.1,222.9 523.3,226.9 525.0,228.7 528.0,230.9 529.3,232.8 529.9,235.8 529.5,237.8 529.0,238.8 527.7,238.8 528.5,237.8 529.2,235.8 529.0,233.8 528.6,232.8 527.1,230.9 524.0,228.9 522.3,226.9 520.5,223.9 518.7,219.9 517.9,217.0 517.5,214.0 517.7,203.1 517.1,198.1 516.3,195.1 515.0,192.1 513.0,188.3 511.0,185.4 509.5,184.2 508.0,183.4 506.0,182.8 503.1,182.2 498.1,181.5 487.1,181.3 471.1,180.4 459.1,178.2 455.1,177.0 452.1,175.6 450.3,174.3 449.4,173.3 447.3,170.3 445.1,165.8 440.1,154.4 439.2,151.4 438.8,149.4ZM514.7,141.5 515.3,141.5 516.0,153.7 516.9,159.4 518.9,166.3 520.0,168.9 521.0,170.3 523.0,172.1 525.0,173.0 528.0,173.4 538.0,173.7 538.0,174.3 534.0,174.3 530.0,174.7 526.8,175.3 522.0,176.6 520.0,176.5 519.0,175.7 518.0,172.5 515.6,158.4ZM406.2,179.7 410.2,180.9 414.2,182.5 422.9,187.2 427.2,190.0 429.4,192.1 431.8,195.1 436.3,202.1 437.7,205.0 438.3,208.0 438.4,213.0 437.9,216.0 436.7,218.9 434.5,221.9 430.7,224.9 427.2,227.1 424.2,228.1 421.2,228.4 416.2,228.6 409.2,228.5 406.2,228.2 406.2,227.5 408.2,227.8 410.2,227.9 418.2,227.5 422.2,226.8 425.2,225.8 428.2,223.8 430.2,221.9 431.8,219.9 433.1,217.0 433.4,214.0 432.7,206.0 432.0,203.1 430.2,198.1 427.8,194.1 426.1,192.1 424.2,190.5 417.8,186.2 412.2,183.1 409.2,182.0 406.2,181.1ZM447.0,236.8 447.2,235.8 447.7,234.8 448.9,233.8 450.9,232.8 453.9,231.9 468.1,229.0 474.1,228.4 480.1,228.3 486.1,228.6 491.1,229.3 495.1,230.1 500.1,231.8 505.1,233.0 511.0,235.0 514.0,236.4 517.8,238.8 516.4,238.8 513.0,236.7 509.0,235.1 504.1,233.6 499.1,232.7 494.1,231.0 488.1,229.9 480.1,229.3 475.1,229.3 469.1,229.9 457.1,232.5 454.0,233.8 452.1,235.0 450.4,236.8 449.7,238.8 447.0,238.8Z"/>
<path fill="#467292" stroke="#467292" stroke-width="0.6" fill-rule="evenodd" d="M406.2,143.2 406.2,142.1 409.4,141.5 415.2,141.5 410.2,142.7ZM435.1,141.5 439.1,141.5 438.8,149.4 439.2,151.4 440.1,154.4 445.1,165.8 447.3,170.3 449.4,173.3 450.3,174.3 452.1,175.6 455.1,177.0 459.1,178.2 471.1,180.4 487.1,181.3 498.1,181.5 503.1,182.2 506.0,182.8 508.0,183.4 509.5,184.2 511.0,185.4 513.0,188.3 515.0,192.1 516.3,195.1 517.1,198.1 517.7,203.1 517.5,214.0 518.4,218.9 520.0,222.9 522.3,226.9 524.0,228.9 527.1,230.9 528.6,232.8 529.0,233.8 529.2,235.8 528.5,237.8 527.7,238.8 526.1,238.8 527.5,237.8 528.1,236.8 528.4,235.8 528.3,233.8 527.9,232.8 527.2,231.9 526.0,230.9 522.9,228.9 521.1,226.9 519.3,223.9 517.5,219.9 516.7,217.0 516.3,214.0 516.6,203.1 516.0,198.6 515.2,196.1 514.0,193.7 512.0,190.9 510.0,188.7 508.0,187.1 506.0,186.0 503.1,184.9 499.1,184.1 495.1,183.6 481.1,182.4 471.1,181.9 458.1,180.6 452.1,179.6 450.1,179.1 448.1,178.2 447.1,177.4 446.2,176.2 445.2,174.3 441.2,162.3 436.3,151.4 435.6,148.4 435.5,143.5ZM515.3,141.5 515.9,141.5 516.7,152.4 517.4,157.4 519.0,162.6 520.0,164.9 521.4,167.3 523.0,169.1 524.0,170.0 527.0,171.6 531.0,172.4 538.0,173.0 538.0,173.7 529.0,173.5 526.0,173.2 524.0,172.7 523.0,172.1 521.0,170.3 519.7,168.3 518.5,165.3 516.7,158.4 516.0,153.4ZM406.2,178.2 413.2,180.5 428.1,187.2 430.9,189.2 438.2,195.7 444.1,199.2 445.1,200.1 445.6,201.1 445.9,204.1 445.2,210.0 443.3,217.9 441.8,220.9 440.1,223.1 438.2,224.9 436.2,225.9 433.2,226.9 428.2,229.1 425.2,229.6 422.2,229.8 408.2,229.0 406.2,228.8 406.2,228.2 408.2,228.4 415.2,228.6 422.2,228.4 425.2,227.8 428.2,226.6 433.4,222.9 434.5,221.9 436.1,219.9 437.2,217.9 437.9,216.0 438.5,211.0 438.0,206.0 436.9,203.1 431.8,195.1 428.4,191.1 424.6,188.2 415.5,183.2 411.2,181.2 406.2,179.7ZM443.4,233.8 443.7,232.8 444.8,231.9 447.1,231.0 450.1,230.2 453.1,229.9 459.1,229.7 465.1,228.3 470.1,227.6 477.1,227.2 484.1,227.4 492.1,228.4 498.1,229.7 501.0,230.9 512.0,234.5 514.0,235.5 519.6,238.8 517.8,238.8 514.0,236.4 510.0,234.6 505.1,233.0 500.1,231.8 496.1,230.4 491.1,229.3 484.1,228.5 477.1,228.3 470.1,228.7 466.1,229.3 460.1,230.7 453.9,231.9 450.1,233.2 448.9,233.8 447.7,234.8 447.2,235.8 447.0,236.8 447.0,238.8 444.5,238.8 443.6,235.8Z"/>
<path fill="#3c6a8c" stroke="#3c6a8c" stroke-width="0.6" fill-rule="evenodd" d="M406.2,143.2 410.2,142.7 415.2,141.5 435.1,141.5 435.5,143.5 435.6,148.4 436.3,151.4 441.2,162.3 445.6,175.3 447.1,177.4 449.1,178.7 453.1,179.8 459.1,180.7 471.1,181.9 480.1,182.4 498.1,183.9 502.1,184.7 505.1,185.6 507.0,186.5 509.0,187.8 511.0,189.8 513.0,192.2 514.3,194.1 515.6,197.1 516.2,199.1 516.5,202.1 516.3,213.0 516.9,217.9 518.8,222.9 521.1,226.9 522.9,228.9 526.0,230.9 527.2,231.9 527.9,232.8 528.3,233.8 528.4,235.8 528.0,237.1 527.0,238.3 526.1,238.8 519.6,238.8 514.0,235.5 512.0,234.5 501.0,230.9 498.1,229.7 493.1,228.5 485.1,227.5 477.1,227.2 470.1,227.6 465.1,228.3 459.1,229.7 452.1,230.0 448.1,230.7 445.1,231.7 443.7,232.8 443.4,233.8 443.4,234.8 444.5,238.8 442.2,238.8 440.1,235.8 439.2,234.8 437.2,233.5 433.2,232.7 430.2,231.6 428.2,231.3 421.2,231.0 414.2,230.0 406.2,229.3 406.2,228.8 421.2,229.8 426.2,229.5 429.2,228.8 432.2,227.3 436.2,225.9 438.2,224.9 439.4,223.9 441.1,221.9 442.4,219.9 443.3,217.9 445.2,210.0 445.9,203.1 445.6,201.1 445.1,200.1 444.0,199.1 438.2,195.7 429.2,187.8 426.2,186.2 413.2,180.5 406.2,178.2 406.2,176.6 412.2,178.5 419.2,181.3 422.2,182.3 427.2,183.3 435.5,184.2 437.2,184.7 438.2,185.2 441.9,191.1 447.1,195.6 448.1,196.8 449.1,198.3 449.8,200.1 450.1,202.1 450.0,205.0 448.6,214.0 447.6,222.9 448.0,224.9 449.1,226.0 451.2,226.9 455.2,227.9 458.1,228.2 459.1,228.2 464.1,227.1 467.1,226.6 476.1,226.1 485.1,226.4 495.1,227.7 499.1,228.6 502.1,229.9 513.0,234.0 515.0,235.0 519.5,237.8 522.0,238.6 524.0,238.6 526.0,237.9 527.2,236.8 527.7,235.8 527.8,234.8 527.2,232.8 526.4,231.9 523.1,229.9 520.7,227.9 518.6,224.9 516.6,220.9 515.5,217.9 515.1,215.0 515.4,203.1 514.9,199.1 514.2,197.1 513.0,194.9 511.0,192.6 509.0,190.8 507.0,189.4 505.1,188.4 501.1,187.1 494.1,185.6 485.1,184.3 477.1,183.6 464.1,183.0 456.1,183.1 445.1,183.9 443.1,183.8 441.1,183.2 440.4,182.2 440.2,181.2 440.8,172.3 440.4,168.3 439.5,164.3 437.2,158.4 432.5,150.4 431.2,145.8 430.2,143.9 429.2,143.1 428.2,142.7 425.2,142.4 420.2,142.6 406.2,144.3ZM515.9,141.5 516.6,141.5 517.4,152.4 518.1,156.4 519.8,161.4 522.0,165.4 524.6,168.3 527.7,170.3 530.0,171.1 532.0,171.6 538.0,172.4 538.0,173.0 531.0,172.4 527.0,171.6 524.0,170.0 523.0,169.1 521.4,167.3 520.0,164.9 519.0,162.6 517.4,157.4 516.7,152.4Z"/>
<path fill="#427086" stroke="#427086" stroke-width="0.6" fill-rule="evenodd" d="M406.2,144.3 420.2,142.6 424.2,142.4 426.2,142.4 428.2,142.7 429.2,143.1 430.2,143.9 431.2,145.8 432.5,150.4 437.2,158.4 439.5,164.3 440.4,168.3 440.8,172.3 440.2,181.2 440.4,182.2 441.1,183.2 443.1,183.8 445.1,183.9 456.1,183.1 464.1,183.0 477.1,183.6 485.1,184.3 494.1,185.6 501.1,187.1 505.1,188.4 507.0,189.4 509.0,190.8 511.0,192.6 513.0,194.9 514.2,197.1 514.9,199.1 515.4,203.1 515.1,215.0 515.5,217.9 516.2,219.9 518.6,224.9 520.7,227.9 523.1,229.9 526.0,231.6 527.2,232.8 527.7,233.8 527.7,235.8 527.0,237.1 526.1,237.8 524.0,238.6 523.0,238.7 521.0,238.4 519.0,237.6 514.0,234.5 512.0,233.6 504.4,230.9 498.1,228.3 493.1,227.3 484.1,226.3 475.1,226.1 467.1,226.6 464.1,227.1 459.1,228.2 458.1,228.2 455.2,227.9 452.1,227.1 448.9,225.9 448.0,224.9 447.6,222.9 450.2,203.1 449.8,200.1 449.1,198.3 448.1,196.8 447.1,195.6 441.9,191.1 440.5,189.2 438.9,186.2 438.2,185.2 437.2,184.7 434.2,184.0 427.2,183.3 422.2,182.3 419.2,181.3 412.2,178.5 406.2,176.6 406.2,174.9 412.2,176.8 419.2,179.3 421.2,179.8 424.2,180.1 426.2,180.1 428.2,179.8 430.2,179.2 433.2,177.7 435.0,176.2 436.2,174.8 437.2,172.5 437.6,170.3 437.6,167.3 437.1,164.3 436.3,161.4 435.4,159.4 433.6,156.4 428.2,149.0 426.7,147.5 425.2,146.5 422.2,145.5 418.2,145.1 413.2,145.0 406.2,145.3ZM452.1,188.2 451.2,189.2 450.7,190.1 450.6,191.1 451.1,193.1 453.1,198.2 453.6,200.1 453.7,202.1 452.2,213.0 452.1,218.9 452.4,220.9 453.1,222.7 454.1,223.9 455.1,224.7 457.1,225.7 459.1,226.0 467.1,225.2 478.1,225.0 486.1,225.3 496.1,226.5 498.1,226.9 500.1,227.6 507.3,230.9 514.0,233.4 516.0,234.4 519.6,236.8 521.0,237.5 522.9,237.8 524.0,237.7 526.0,236.9 526.8,235.8 527.1,234.8 527.0,233.8 526.5,232.8 525.0,231.6 521.5,229.9 519.3,227.9 516.7,223.9 514.6,219.9 514.0,217.9 513.6,215.0 514.2,204.1 513.9,200.1 513.2,198.1 512.0,196.1 510.0,194.1 508.0,192.6 506.0,191.5 503.1,190.2 493.1,187.4 486.1,186.0 477.1,185.0 468.1,184.7 460.2,185.2 455.7,186.2 453.5,187.2ZM516.6,141.5 517.2,141.5 518.0,151.5 519.0,156.4 520.6,160.4 522.9,164.3 525.6,167.3 528.5,169.3 532.0,170.6 538.0,171.7 538.0,172.4 532.0,171.6 528.0,170.4 526.0,169.3 524.6,168.3 522.0,165.4 519.8,161.4 518.0,156.0 517.3,151.4ZM406.2,229.3 414.2,230.0 421.2,231.0 428.2,231.3 430.2,231.6 433.2,232.7 436.2,233.2 438.2,234.0 440.1,235.8 442.2,238.8 440.0,238.8 438.2,237.0 436.2,235.8 432.2,234.6 428.2,233.0 425.2,232.5 420.2,231.9 413.2,230.6 406.2,229.8Z"/>
<path fill="#477681" stroke="#477681" stroke-width="0.6" fill-rule="evenodd" d="M517.2,141.5 517.8,141.5 518.7,151.4 519.6,155.4 521.0,159.0 523.0,162.4 526.0,166.0 529.0,168.3 531.0,169.3 533.0,170.0 538.0,171.0 538.0,171.7 533.0,170.9 529.0,169.6 527.0,168.4 525.6,167.3 522.9,164.3 520.6,160.4 518.7,155.4 518.0,151.4ZM406.2,145.3 413.2,145.0 417.2,145.0 421.2,145.4 424.2,146.1 426.2,147.1 427.7,148.4 433.6,156.4 435.4,159.4 436.9,163.3 437.6,167.3 437.4,171.3 436.5,174.3 435.2,176.1 433.2,177.7 430.2,179.2 428.2,179.8 426.2,180.1 424.2,180.1 421.2,179.8 419.2,179.3 412.2,176.8 406.2,174.9 406.2,173.2 416.2,176.3 420.2,177.2 423.2,177.4 426.2,177.0 428.2,176.4 430.2,175.4 432.8,173.3 433.5,172.3 434.4,170.3 434.9,167.3 434.5,163.3 434.0,161.4 433.0,159.4 429.2,154.4 427.2,152.1 425.2,150.3 422.2,148.6 418.2,147.2 413.2,146.4 406.2,146.3ZM452.1,188.2 453.5,187.2 455.7,186.2 460.2,185.2 468.1,184.7 477.1,185.0 486.1,186.0 493.1,187.4 503.1,190.2 506.0,191.5 508.0,192.6 510.0,194.1 512.0,196.1 513.2,198.1 513.9,200.1 514.2,204.1 513.6,215.0 514.0,217.9 514.6,219.9 516.7,223.9 519.3,227.9 521.5,229.9 525.0,231.6 526.5,232.8 527.0,233.8 527.1,234.8 526.8,235.8 526.0,236.9 524.0,237.7 522.9,237.8 521.0,237.5 519.6,236.8 516.0,234.4 514.0,233.4 507.3,230.9 500.1,227.6 498.1,226.9 496.1,226.5 486.1,225.3 478.1,225.0 467.1,225.2 459.1,226.0 457.1,225.7 455.1,224.7 454.1,223.9 453.1,222.7 452.4,220.9 452.1,218.9 452.2,213.0 453.7,202.1 453.6,200.1 453.1,198.2 451.1,193.1 450.6,191.1 450.7,190.1 451.2,189.2ZM457.3,189.2 456.5,190.1 455.8,192.1 455.9,194.1 457.1,199.1 457.2,201.1 455.7,209.0 455.4,214.0 455.8,217.0 456.3,218.9 457.1,220.6 458.2,221.9 460.0,222.9 462.1,223.3 484.1,224.0 493.1,224.8 498.1,225.5 501.1,226.5 510.0,230.9 515.0,232.4 517.0,233.4 520.0,235.8 521.0,236.4 523.0,236.9 524.0,236.8 525.0,236.5 525.8,235.8 526.3,234.8 526.2,233.8 525.6,232.8 524.0,231.9 520.0,230.4 518.2,228.9 514.4,222.9 512.9,219.9 512.3,217.9 512.1,215.0 512.8,204.1 512.7,201.1 512.1,199.1 511.5,198.1 509.0,195.6 507.0,194.3 504.1,193.0 492.1,189.2 486.1,187.7 479.1,186.7 473.1,186.1 467.1,186.4 461.1,187.5 458.9,188.2ZM406.2,229.8 413.2,230.6 420.2,231.9 425.2,232.5 428.2,233.0 432.2,234.6 436.2,235.8 438.2,237.0 440.0,238.8 437.8,238.8 436.2,237.5 434.7,236.8 427.2,234.1 420.2,232.9 414.2,231.3 406.2,230.2Z"/>
<path fill="#4e7e7a" stroke="#4e7e7a" stroke-width="0.6" fill-rule="evenodd" d="M517.8,141.5 518.4,141.5 519.3,150.4 520.0,154.2 521.3,157.4 523.0,160.4 526.0,164.3 529.0,167.0 531.0,168.2 533.0,169.0 538.0,170.3 538.0,171.0 533.0,170.0 531.0,169.3 529.1,168.3 526.0,166.0 523.0,162.4 520.7,158.4 519.3,154.4 518.6,150.4ZM406.2,146.3 411.2,146.3 415.2,146.6 419.0,147.5 422.2,148.6 424.2,149.7 426.2,151.2 429.2,154.4 432.2,158.1 433.5,160.4 434.5,163.3 434.9,166.3 434.7,169.3 434.1,171.3 432.8,173.3 430.4,175.3 428.2,176.4 426.2,177.0 424.2,177.4 422.2,177.4 420.2,177.2 416.2,176.3 406.2,173.2 406.2,171.5 413.2,173.5 418.2,174.5 422.2,174.7 425.2,174.1 428.2,172.8 430.2,171.1 431.2,169.6 431.7,168.3 432.1,165.3 431.7,162.3 430.2,159.4 427.2,155.6 424.2,152.8 421.2,150.9 416.2,148.6 414.2,148.0 411.2,147.5 406.2,147.3ZM457.3,189.2 458.9,188.2 461.1,187.5 467.1,186.4 473.1,186.1 479.1,186.7 486.1,187.7 492.1,189.2 504.1,193.0 507.0,194.3 509.0,195.6 511.5,198.1 512.1,199.1 512.7,201.1 512.8,204.1 512.1,215.0 512.3,217.9 512.9,219.9 514.4,222.9 518.2,228.9 520.0,230.4 524.0,231.9 525.6,232.8 526.2,233.8 526.3,234.8 525.8,235.8 525.0,236.5 524.0,236.8 523.0,236.9 521.0,236.4 520.0,235.8 517.0,233.4 515.0,232.4 510.0,230.9 501.1,226.5 498.1,225.5 493.1,224.8 484.1,224.0 462.1,223.3 460.0,222.9 458.2,221.9 457.1,220.6 456.3,218.9 455.8,217.0 455.4,214.0 455.7,209.0 457.2,201.1 457.1,199.1 455.9,194.1 455.8,192.1 456.5,190.1ZM462.1,190.2 460.9,191.1 460.2,192.1 460.0,193.1 460.3,201.1 458.7,209.0 458.6,211.0 458.8,214.0 459.4,216.0 460.4,217.9 462.1,219.7 464.7,220.9 470.0,221.9 487.1,223.0 495.1,223.7 499.1,224.2 503.1,225.5 511.0,229.9 513.0,230.2 514.8,229.9 515.3,228.9 515.1,227.9 514.2,225.9 511.6,221.9 510.5,218.9 510.4,215.0 511.2,204.1 511.0,201.1 510.1,199.1 508.0,197.3 506.0,196.1 504.1,195.3 498.1,193.4 490.1,190.6 486.1,189.4 481.1,188.5 475.1,187.7 471.1,187.6 468.1,188.1 464.4,189.2ZM520.5,232.8 520.3,233.8 521.0,234.8 522.0,235.5 523.0,235.8 524.0,235.8 525.0,235.2 525.3,234.8 525.3,233.8 524.2,232.8 522.0,232.5ZM406.2,230.2 414.2,231.3 420.2,232.9 427.2,234.1 434.7,236.8 436.2,237.5 437.8,238.8 435.7,238.8 433.2,237.4 426.2,234.9 420.2,233.7 413.2,231.7 406.2,230.7Z"/>
<path fill="#558574" stroke="#558574" stroke-width="0.6" fill-rule="evenodd" d="M518.4,141.5 519.1,141.5 520.0,150.4 520.6,153.4 521.7,156.4 523.0,158.6 526.6,163.3 529.0,165.7 531.0,167.1 533.0,168.1 535.0,168.8 538.0,169.6 538.0,170.3 533.0,169.0 529.5,167.3 528.0,166.2 526.0,164.3 523.0,160.4 521.0,156.9 519.8,153.4 519.3,150.4ZM406.2,147.3 410.2,147.4 413.2,147.8 415.7,148.4 418.2,149.4 422.1,151.4 424.2,152.8 427.0,155.4 429.5,158.4 430.8,160.4 431.7,162.3 432.0,164.3 431.9,167.3 431.3,169.3 430.2,171.1 428.2,172.8 426.2,173.8 423.2,174.6 421.2,174.7 419.2,174.6 414.2,173.7 406.2,171.5 406.2,169.9 412.2,171.4 416.2,172.0 420.2,172.0 423.2,171.4 425.6,170.3 427.2,168.9 428.2,167.3 428.8,164.3 428.5,162.3 427.1,159.4 424.7,156.4 422.5,154.4 417.8,151.4 415.2,150.0 411.2,148.8 409.1,148.4 406.2,148.3ZM462.1,190.2 464.4,189.2 468.1,188.1 471.1,187.6 475.1,187.7 481.1,188.5 486.1,189.4 490.1,190.6 498.1,193.4 504.1,195.3 506.0,196.1 508.0,197.3 510.1,199.1 511.0,201.1 511.2,204.1 510.4,215.0 510.5,218.9 511.6,221.9 514.2,225.9 515.1,227.9 515.3,228.9 514.8,229.9 513.0,230.2 511.0,229.9 503.1,225.5 499.1,224.2 495.1,223.7 487.1,223.0 470.0,221.9 464.7,220.9 462.1,219.7 460.4,217.9 459.4,216.0 458.8,214.0 458.6,211.0 458.7,209.0 460.3,201.1 460.0,193.1 460.2,192.1 460.9,191.1ZM466.4,191.1 465.2,192.1 464.3,193.1 463.5,195.1 463.1,202.1 462.0,210.0 462.4,213.0 463.1,215.0 464.5,217.0 465.6,217.9 467.4,218.9 469.1,219.6 473.1,220.5 498.1,222.4 507.0,223.8 508.0,223.3 508.1,217.9 509.2,208.0 509.3,204.1 508.9,202.1 508.5,201.1 507.0,199.5 505.1,198.3 503.1,197.5 498.1,195.7 489.1,192.3 484.1,190.8 476.1,189.5 472.1,189.2 469.1,189.9ZM406.2,230.7 413.2,231.7 420.2,233.7 426.2,234.9 433.2,237.4 435.7,238.8 433.6,238.8 431.5,237.8 426.2,235.9 419.2,234.2 413.2,232.3 406.2,231.1ZM520.5,232.8 522.0,232.5 524.2,232.8 525.3,233.8 525.3,234.8 525.0,235.2 524.0,235.8 523.0,235.8 522.0,235.5 521.0,234.8 520.3,233.8Z"/>
<path fill="#5e8f6b" stroke="#5e8f6b" stroke-width="0.6" fill-rule="evenodd" d="M519.1,141.5 519.7,141.5 520.7,150.4 521.4,153.4 522.2,155.4 524.0,158.4 527.1,162.3 530.0,165.2 533.4,167.3 536.0,168.3 538.0,168.8 538.0,169.6 533.5,168.3 529.8,166.3 526.6,163.3 523.0,158.6 521.3,155.4 520.4,152.4ZM406.2,148.3 409.1,148.4 411.2,148.8 413.6,149.4 416.1,150.4 422.5,154.4 424.7,156.4 426.4,158.4 427.7,160.4 428.5,162.3 428.8,165.3 428.2,167.3 427.2,168.9 425.6,170.3 424.2,171.1 421.2,171.9 417.2,172.0 412.2,171.4 406.2,169.9 406.2,168.3 411.2,169.3 414.2,169.6 417.2,169.6 420.2,169.0 422.2,168.2 423.4,167.3 424.2,166.4 424.8,165.3 425.1,163.3 424.8,161.4 423.8,159.4 422.3,157.4 420.2,155.4 416.1,152.4 413.2,150.9 409.2,149.7 406.2,149.4ZM466.4,191.1 469.1,189.9 472.1,189.2 476.1,189.5 484.1,190.8 489.1,192.3 498.1,195.7 503.1,197.5 505.1,198.3 507.0,199.5 508.5,201.1 508.9,202.1 509.3,204.1 509.2,208.0 508.1,217.9 508.0,223.3 507.0,223.8 498.1,222.4 473.1,220.5 469.1,219.6 467.4,218.9 465.6,217.9 464.5,217.0 463.1,215.0 462.4,213.0 462.0,210.0 463.1,202.1 463.5,195.1 464.3,193.1 465.2,192.1ZM470.1,192.2 468.8,193.1 467.9,194.1 466.9,196.1 466.4,199.1 465.9,206.0 465.8,209.0 466.3,212.0 467.1,214.0 467.8,215.0 469.1,216.3 471.8,217.9 474.1,218.7 478.1,219.4 483.2,219.9 491.1,220.4 499.1,220.4 502.1,220.1 503.1,219.8 504.1,219.2 505.1,217.8 506.0,215.0 507.0,208.0 506.9,206.0 506.5,204.1 505.4,202.1 504.2,201.1 502.5,200.1 492.1,195.6 484.9,193.1 480.1,192.1 474.1,191.3 472.1,191.4ZM406.2,231.1 413.2,232.3 419.2,234.2 425.2,235.6 431.2,237.7 433.6,238.8 431.3,238.8 426.2,236.8 419.2,234.9 414.2,233.1 411.2,232.3 406.2,231.5Z"/>
<path fill="#689962" stroke="#689962" stroke-width="0.6" fill-rule="evenodd" d="M519.7,141.5 520.3,141.5 521.9,152.4 522.7,154.4 524.0,156.8 527.6,161.4 530.5,164.3 534.0,166.6 538.0,168.0 538.0,168.8 534.0,167.6 532.0,166.6 530.2,165.3 527.1,162.3 523.3,157.4 522.0,155.0 521.1,152.4ZM406.2,149.4 408.2,149.5 410.2,149.9 412.2,150.5 414.3,151.4 417.5,153.4 420.2,155.4 423.1,158.4 424.8,161.4 425.1,163.3 425.0,164.3 424.3,166.3 423.4,167.3 421.2,168.7 418.2,169.5 415.2,169.7 411.2,169.3 406.2,168.3 406.2,166.6 410.2,167.3 413.2,167.4 416.2,167.1 418.2,166.4 419.9,165.3 420.8,164.3 421.4,162.3 421.3,161.4 420.5,159.4 419.0,157.4 416.9,155.4 414.3,153.4 411.2,151.7 408.2,150.8 406.2,150.6ZM470.1,192.2 472.1,191.4 474.1,191.3 480.1,192.1 484.9,193.1 492.1,195.6 502.5,200.1 504.2,201.1 505.4,202.1 506.5,204.1 506.9,206.0 507.0,208.0 506.0,215.0 505.1,217.8 504.1,219.2 503.1,219.8 502.1,220.1 499.1,220.4 491.1,220.4 483.2,219.9 478.1,219.4 474.1,218.7 471.8,217.9 469.1,216.3 467.8,215.0 467.1,214.0 466.3,212.0 465.8,209.0 465.9,206.0 466.4,199.1 466.9,196.1 467.9,194.1 468.8,193.1ZM472.5,195.1 471.1,196.6 470.1,199.0 469.6,202.1 469.5,205.0 469.7,208.0 470.7,212.0 471.8,214.0 473.1,215.3 475.1,216.4 478.1,217.5 482.1,218.2 486.1,218.6 491.1,218.7 496.1,218.4 499.1,217.9 501.1,216.9 502.1,216.0 503.2,214.0 503.8,212.0 504.2,209.0 504.0,207.0 503.2,205.0 501.4,203.1 499.9,202.1 492.1,198.1 489.1,196.9 485.1,195.6 481.1,194.7 477.1,194.2 474.1,194.4ZM406.2,231.5 411.2,232.3 414.2,233.1 419.2,234.9 426.2,236.8 431.3,238.8 428.9,238.8 425.2,237.3 419.2,235.5 414.2,233.6 411.2,232.8 406.2,231.9Z"/>
<path fill="#70a25a" stroke="#70a25a" stroke-width="0.6" fill-rule="evenodd" d="M520.3,141.5 521.0,141.5 522.5,151.4 523.1,153.4 524.3,155.4 528.1,160.4 530.9,163.3 534.0,165.6 536.0,166.6 538.0,167.2 538.0,168.0 534.0,166.6 531.0,164.7 528.0,161.8 524.0,156.8 522.7,154.4 521.7,151.4ZM406.2,150.6 409.2,151.0 412.7,152.4 414.3,153.4 416.9,155.4 419.8,158.4 421.0,160.4 421.3,161.4 421.2,163.3 420.8,164.3 419.9,165.3 418.2,166.4 416.2,167.1 413.2,167.4 410.2,167.3 406.2,166.6 406.2,164.8 410.2,165.2 412.2,165.0 414.2,164.5 416.2,163.3 417.0,162.3 417.3,161.4 416.8,159.4 414.7,156.4 412.4,154.4 410.8,153.4 408.2,152.3 406.2,152.1ZM472.5,195.1 474.1,194.4 477.1,194.2 481.1,194.7 485.1,195.6 489.1,196.9 492.1,198.1 499.9,202.1 501.4,203.1 503.2,205.0 504.0,207.0 504.2,209.0 503.8,212.0 503.2,214.0 502.1,216.0 501.1,216.9 499.1,217.9 496.1,218.4 491.1,218.7 486.1,218.6 482.1,218.2 478.1,217.5 475.1,216.4 473.1,215.3 471.8,214.0 470.7,212.0 469.7,208.0 469.5,205.0 469.6,202.1 470.1,199.0 471.1,196.6ZM476.1,198.5 475.1,199.4 474.0,201.1 473.4,203.1 473.2,205.0 473.5,208.0 474.3,211.0 475.5,213.0 476.4,214.0 478.0,215.0 480.5,216.0 484.1,216.7 487.1,216.9 491.1,216.8 494.1,216.3 496.1,215.8 498.1,214.8 499.1,213.9 500.2,212.0 500.6,209.0 500.1,207.2 499.4,206.0 497.4,204.1 494.5,202.1 492.1,200.7 489.1,199.5 486.1,198.6 483.1,197.9 480.1,197.6 478.1,197.8ZM406.2,231.9 413.2,233.3 419.2,235.5 425.2,237.3 428.9,238.8 426.8,238.8 414.2,234.2 411.2,233.3 406.2,232.2Z"/>
<path fill="#79aa52" stroke="#79aa52" stroke-width="0.6" fill-rule="evenodd" d="M521.0,141.5 521.7,141.5 522.7,146.5 523.3,151.4 524.8,154.4 528.6,159.4 531.3,162.3 534.0,164.6 536.0,165.7 538.0,166.4 538.0,167.2 536.0,166.6 534.0,165.6 531.0,163.5 528.1,160.4 524.0,155.1 523.0,153.2 522.5,151.4ZM406.2,152.1 408.5,152.4 411.2,153.6 413.6,155.4 416.3,158.4 417.2,160.4 417.3,161.4 417.0,162.3 416.2,163.4 414.2,164.5 412.2,165.0 410.2,165.2 406.2,164.8 406.2,162.6 408.2,162.8 410.5,162.3 412.0,161.4 412.6,160.4 412.6,159.4 411.8,157.4 410.2,155.8 408.2,154.7 407.2,154.4 406.2,154.4ZM476.1,198.5 478.1,197.8 480.1,197.6 483.1,197.9 486.1,198.6 489.1,199.5 492.1,200.7 494.5,202.1 497.4,204.1 499.4,206.0 500.1,207.2 500.6,209.0 500.2,212.0 499.1,213.9 498.1,214.8 496.1,215.8 494.1,216.3 491.1,216.8 487.1,216.9 484.1,216.7 480.5,216.0 478.0,215.0 476.4,214.0 475.5,213.0 474.3,211.0 473.5,208.0 473.2,205.0 473.4,203.1 474.0,201.1 475.1,199.4ZM479.1,202.3 478.1,203.3 477.3,205.0 477.1,208.0 478.1,211.0 479.9,213.0 481.8,214.0 483.1,214.4 485.1,214.8 487.1,214.9 489.1,214.7 492.2,214.0 494.1,213.0 495.2,212.0 495.8,211.0 496.0,209.0 495.3,207.0 494.5,206.0 492.3,204.1 489.1,202.4 487.1,201.7 485.1,201.4 482.1,201.2 480.1,201.7ZM406.2,232.2 413.2,233.8 426.8,238.8 424.8,238.8 413.2,234.3 410.2,233.5 406.2,232.6Z"/>
<path fill="#80b24a" stroke="#80b24a" stroke-width="0.6" fill-rule="evenodd" d="M521.7,141.5 522.5,141.5 523.7,146.5 524.1,150.4 525.0,152.9 531.7,161.4 533.0,162.6 535.0,164.1 538.0,165.5 538.0,166.4 535.0,165.2 532.0,163.1 529.4,160.4 524.8,154.4 523.3,151.4 522.7,146.5ZM406.2,154.4 407.2,154.4 408.2,154.7 409.7,155.4 411.2,156.7 412.3,158.4 412.6,159.4 412.6,160.4 412.2,161.1 411.2,162.0 410.2,162.4 408.2,162.8 406.2,162.6ZM479.1,202.3 480.1,201.7 482.1,201.2 485.1,201.4 487.1,201.7 489.1,202.4 492.3,204.1 494.5,206.0 495.3,207.0 496.0,209.0 495.8,211.0 495.2,212.0 494.1,213.0 492.2,214.0 489.1,214.7 487.1,214.9 485.1,214.8 483.1,214.4 481.8,214.0 479.9,213.0 478.1,211.0 477.1,208.0 477.3,205.0 478.1,203.3ZM484.1,205.1 483.1,205.4 482.2,206.0 481.6,207.0 481.3,208.0 481.8,210.0 483.1,211.3 484.7,212.0 486.1,212.2 488.1,211.8 489.6,211.0 490.4,210.0 490.6,209.0 490.1,207.4 488.7,206.0 487.1,205.3 486.1,205.0ZM406.2,232.6 410.2,233.5 413.2,234.3 424.8,238.8 423.0,238.8 412.2,234.5 406.2,233.0Z"/>
<path fill="#88ba43" stroke="#88ba43" stroke-width="0.6" fill-rule="evenodd" d="M522.5,141.5 523.3,141.5 524.8,145.5 525.3,147.5 525.5,150.4 526.3,152.4 532.2,160.4 535.0,163.0 538.0,164.6 538.0,165.5 535.3,164.3 532.7,162.3 530.0,159.4 525.0,152.9 524.1,150.4 523.7,146.5ZM484.1,205.1 486.1,205.0 487.1,205.3 488.7,206.0 490.1,207.4 490.6,209.0 490.4,210.0 489.6,211.0 488.1,211.8 486.1,212.2 484.7,212.0 483.1,211.3 481.8,210.0 481.3,208.0 481.6,207.0 482.2,206.0 483.1,205.4ZM406.2,233.0 412.2,234.5 423.0,238.8 421.5,238.8 412.2,235.0 406.2,233.4Z"/>
<path fill="#8dc03e" stroke="#8dc03e" stroke-width="0.6" fill-rule="evenodd" d="M523.3,141.5 524.3,141.5 525.0,143.1 527.5,146.5 528.1,151.4 531.4,157.4 534.5,161.4 536.0,162.6 538.0,163.7 538.0,164.6 535.4,163.3 533.1,161.4 526.3,152.4 525.5,150.4 525.1,146.5ZM406.2,233.4 412.2,235.0 421.5,238.8 420.0,238.8 412.2,235.4 409.2,234.5 406.2,233.7Z"/>
<path fill="#92c539" stroke="#92c539" stroke-width="0.6" fill-rule="evenodd" d="M524.3,141.5 525.8,141.5 529.0,143.8 530.0,145.1 530.7,147.5 530.6,151.4 531.5,154.4 532.9,157.4 534.2,159.4 536.0,161.4 538.0,162.7 538.0,163.7 536.0,162.6 534.5,161.4 532.8,159.4 530.8,156.4 528.1,151.4 527.5,146.5 525.0,143.1ZM406.2,233.7 409.2,234.5 412.2,235.4 420.0,238.8 418.7,238.8 411.2,235.5 406.2,234.1Z"/>
<path fill="#96c936" stroke="#96c936" stroke-width="0.6" fill-rule="evenodd" d="M525.8,141.5 529.0,141.5 530.0,142.3 530.8,143.5 532.0,146.5 532.6,152.4 533.5,155.4 534.4,157.4 535.7,159.4 536.5,160.4 538.0,161.6 538.0,162.7 536.0,161.4 535.0,160.4 533.5,158.4 531.9,155.4 530.6,151.4 530.7,147.5 530.0,145.1 529.0,143.8ZM406.2,234.1 411.2,235.5 418.7,238.8 417.4,238.8 411.2,236.0 406.2,234.5Z"/>
<path fill="#9acd32" stroke="#9acd32" stroke-width="0.6" fill-rule="evenodd" d="M529.0,141.5 530.8,141.5 532.0,143.8 533.3,147.5 534.2,152.4 535.0,155.4 536.4,158.4 538.0,160.2 538.0,161.6 536.5,160.4 535.7,159.4 533.9,156.4 532.6,152.4 532.0,146.4 530.8,143.5 530.0,142.3ZM406.2,234.5 411.2,236.0 417.4,238.8 416.2,238.8 410.2,236.0 406.2,234.9Z"/>
<path fill="#9ed12f" stroke="#9ed12f" stroke-width="0.6" fill-rule="evenodd" d="M530.8,141.5 531.8,141.5 533.9,146.5 536.1,154.4 536.8,156.4 538.0,158.3 538.0,160.2 536.4,158.4 535.0,155.4 534.4,153.4 533.0,146.5 532.0,143.8ZM406.2,234.9 410.2,236.0 416.2,238.8 415.1,238.8 410.2,236.5 406.2,235.3Z"/>
<path fill="#a2d52c" stroke="#a2d52c" stroke-width="0.6" fill-rule="evenodd" d="M531.8,141.5 532.5,141.5 535.5,148.4 538.0,155.8 538.0,158.3 536.4,155.4 534.2,147.5ZM406.2,235.3 410.2,236.5 415.1,238.8 414.1,238.8 409.9,236.8 406.2,235.7Z"/>
<path fill="#b4d724" stroke="#b4d724" stroke-width="0.6" fill-rule="evenodd" d="M532.5,141.5 533.1,141.5 537.2,150.4 538.0,152.7 538.0,155.8 535.1,147.5ZM406.2,235.7 409.9,236.8 414.1,238.8 413.1,238.8 409.2,237.0 406.2,236.0Z"/>
<path fill="#c5d91c" stroke="#c5d91c" stroke-width="0.6" fill-rule="evenodd" d="M533.1,141.5 533.6,141.5 538.0,150.1 538.0,152.7 536.4,148.4ZM406.2,236.0 409.2,237.0 413.1,238.8 412.1,238.8 409.2,237.4 406.2,236.4Z"/>
<path fill="#d2d816" stroke="#d2d816" stroke-width="0.6" fill-rule="evenodd" d="M533.6,141.5 534.2,141.5 535.6,144.5 538.0,148.3 538.0,150.1ZM406.2,236.4 409.2,237.4 412.1,238.8 411.1,238.8 408.2,237.5 406.2,236.8Z"/>
<path fill="#e0d60f" stroke="#e0d60f" stroke-width="0.6" fill-rule="evenodd" d="M534.2,141.5 534.7,141.5 536.0,144.1 538.0,146.9 538.0,148.3 535.6,144.5ZM406.2,236.8 408.2,237.5 411.1,238.8 410.1,238.8 408.0,237.8 406.2,237.3Z"/>
<path fill="#eacc0c" stroke="#eacc0c" stroke-width="0.6" fill-rule="evenodd" d="M534.7,141.5 535.2,141.5 536.2,143.5 538.0,145.9 538.0,146.9 536.0,144.1ZM406.2,237.3 408.0,237.8 410.1,238.8 409.1,238.8 406.2,237.7Z"/>
<path fill="#f5c30a" stroke="#f5c30a" stroke-width="0.6" fill-rule="evenodd" d="M535.2,141.5 535.7,141.5 536.8,143.5 538.0,145.1 538.0,145.9 536.2,143.5ZM406.2,237.7 409.1,238.8 408.1,238.8 406.2,238.1Z"/>
<path fill="#fab405" stroke="#fab405" stroke-width="0.6" fill-rule="evenodd" d="M535.7,141.5 536.1,141.5 538.0,144.3 538.0,145.1 536.8,143.5ZM408.1,238.8 406.9,238.8 406.2,238.6 406.2,238.1Z"/>
<path fill="#ffa500" stroke="#ffa500" stroke-width="0.6" fill-rule="evenodd" d="M536.1,141.5 536.6,141.5 538.0,143.5 538.0,144.3ZM406.9,238.8 406.2,238.8 406.2,238.6Z"/>
<path fill="#f17a07" stroke="#f17a07" stroke-width="0.6" fill-rule="evenodd" d="M536.6,141.5 537.2,141.5 538.0,142.8 538.0,143.5Z"/>
<path fill="#e3500e" stroke="#e3500e" stroke-width="0.6" fill-rule="evenodd" d="M537.2,141.5 537.7,141.5 538.0,141.9 538.0,142.8Z"/>
<path fill="#dc2f0e" stroke="#dc2f0e" stroke-width="0.6" fill-rule="evenodd" d="M537.7,141.5 538.0,141.5 538.0,141.9Z"/>
</g>
<rect x="406.2" y="141.5" width="131.8" height="97.3" fill="none" stroke="#222" stroke-width="1"/>
<path d="M406.2,238.8v5.2M406.2,238.8h-5.5M432.6,238.8v5.2M406.2,219.3h-5.5M458.9,238.8v5.2M406.2,199.9h-5.5M485.3,238.8v5.2M406.2,180.4h-5.5M511.6,238.8v5.2M406.2,161.0h-5.5M538.0,238.8v5.2M406.2,141.5h-5.5" stroke="#222" stroke-width="1" fill="none"/>
<text class="tk" x="405.2" y="256.9" text-anchor="middle">0.0</text>
<text class="tk" x="395.7" y="243.9" text-anchor="end">0.0</text>
<text class="tk" x="431.6" y="256.9" text-anchor="middle">0.2</text>
<text class="tk" x="395.7" y="224.4" text-anchor="end">0.2</text>
<text class="tk" x="457.9" y="256.9" text-anchor="middle">0.4</text>
<text class="tk" x="395.7" y="205.0" text-anchor="end">0.4</text>
<text class="tk" x="484.3" y="256.9" text-anchor="middle">0.6</text>
<text class="tk" x="395.7" y="185.5" text-anchor="end">0.6</text>
<text class="tk" x="510.6" y="256.9" text-anchor="middle">0.8</text>
<text class="tk" x="395.7" y="166.1" text-anchor="end">0.8</text>
<text class="tk" x="537.0" y="256.9" text-anchor="middle">1.0</text>
<text class="tk" x="395.7" y="146.6" text-anchor="end">1.0</text>
<text class="xl" x="471.8" y="268.3" text-anchor="middle">u (LAI)</text>
<text class="xl" transform="translate(375.5,191.2) rotate(-90)" text-anchor="middle">v (WB ET)</text>
<text class="pl b" x="408.2" y="150.1">(f)</text>
</g>
<g>
<clipPath id="cpd"><rect x="224.9" y="274.4" width="131.8" height="97.3"/></clipPath>
<g clip-path="url(#cpd)">
<path fill="#fffff0" stroke="#fffff0" stroke-width="0.6" fill-rule="evenodd" d="M320.9,274.4 356.7,274.4 356.7,275.4 347.7,277.4 345.7,278.2 343.7,279.4 341.7,280.0 339.7,279.8 337.7,279.3 329.7,276.9ZM224.9,328.0 226.2,331.0 226.5,334.0 226.0,345.9 225.7,371.7 224.9,371.7ZM356.7,357.6 356.7,371.7 346.2,371.7 346.7,369.6 348.7,365.4 350.1,363.8Z"/>
<path fill="#f6f8eb" stroke="#f6f8eb" stroke-width="0.6" fill-rule="evenodd" d="M315.2,274.4 320.9,274.4 329.7,276.9 337.7,279.3 340.7,279.9 342.7,279.8 346.7,277.7 348.7,277.1 356.7,275.4 356.7,277.1 350.7,279.0 348.7,280.0 343.7,283.1 342.7,283.3 341.7,283.3 331.7,281.1 320.8,277.5 317.8,276.4 316.3,275.4ZM224.9,314.6 225.9,314.7 226.7,315.1 227.8,316.1 228.4,317.1 228.9,319.1 228.6,324.0 229.2,332.0 228.1,343.9 227.9,356.8 227.2,371.7 225.7,371.7 226.0,345.9 226.5,334.0 226.2,331.0 224.9,328.0ZM356.7,353.6 356.7,357.6 350.1,363.8 348.7,365.4 346.7,369.6 346.2,371.7 341.9,371.7 342.2,369.7 343.7,364.8 344.8,362.8 350.7,358.4 354.9,354.8Z"/>
<path fill="#ecf0e6" stroke="#ecf0e6" stroke-width="0.6" fill-rule="evenodd" d="M312.0,274.4 315.2,274.4 316.3,275.4 317.8,276.4 320.8,277.5 331.7,281.1 341.7,283.3 342.7,283.3 343.7,283.1 348.7,280.0 352.7,278.3 356.7,277.1 356.7,278.7 351.7,280.5 344.7,284.4 342.7,284.9 340.7,284.8 330.7,283.3 319.8,279.6 316.8,278.4 315.0,277.4 313.7,276.4ZM224.9,312.5 225.9,312.5 228.1,313.1 229.7,314.1 230.8,315.1 232.1,317.1 232.9,320.1 232.8,324.0 230.2,342.9 229.8,356.8 228.6,371.7 227.2,371.7 227.9,356.8 228.1,343.9 229.2,332.0 228.6,324.0 228.9,319.1 228.4,317.1 227.8,316.1 226.7,315.1 225.9,314.7 224.9,314.6ZM356.7,351.2 356.7,353.6 354.9,354.8 350.7,358.4 345.9,361.8 344.7,362.8 343.7,364.8 342.2,369.7 341.9,371.7 339.4,371.7 339.6,368.7 340.3,365.7 341.1,363.8 342.3,361.8 343.7,360.4 349.2,356.8 354.0,352.8Z"/>
<path fill="#e2e8e1" stroke="#e2e8e1" stroke-width="0.6" fill-rule="evenodd" d="M308.9,274.4 312.0,274.4 313.8,276.4 316.7,278.4 319.8,279.6 327.7,282.3 331.2,283.3 340.7,284.8 342.7,284.9 344.7,284.4 351.7,280.5 356.7,278.7 356.7,280.1 352.7,281.6 346.7,284.9 344.7,285.7 341.7,286.2 337.7,285.9 330.7,285.0 328.7,284.6 321.8,282.5 316.8,280.7 314.8,279.8 312.5,278.4 310.3,276.4ZM225.9,311.2 227.9,311.4 229.9,312.0 232.0,313.1 233.2,314.1 234.2,315.1 235.5,317.1 236.1,319.1 236.4,321.1 236.0,325.0 233.2,336.0 232.1,341.9 231.5,356.8 229.9,371.7 228.6,371.7 229.8,356.8 230.1,343.9 230.5,339.9 232.8,324.0 232.9,320.1 232.1,317.1 230.8,315.1 229.7,314.1 228.1,313.1 225.9,312.5 224.9,312.5 224.9,311.2ZM356.7,349.5 356.7,351.2 354.0,352.8 349.2,356.8 343.7,360.4 342.3,361.8 341.1,363.8 340.3,365.7 339.6,368.7 339.4,371.7 337.1,371.7 337.2,368.7 337.8,365.7 339.1,362.8 340.6,360.8 342.7,359.0 347.7,355.8 353.7,351.0Z"/>
<path fill="#d8e1dc" stroke="#d8e1dc" stroke-width="0.6" fill-rule="evenodd" d="M305.7,274.4 308.9,274.4 310.3,276.4 312.5,278.4 314.8,279.8 316.8,280.7 326.7,284.0 331.7,285.2 339.7,286.1 341.7,286.2 343.7,286.0 345.8,285.3 351.7,282.1 356.7,280.1 356.7,281.4 352.7,283.0 346.7,286.1 343.7,287.1 341.7,287.3 339.6,287.3 330.7,286.5 326.7,285.8 321.8,284.5 315.8,282.6 312.8,281.4 310.8,280.1 308.6,278.4 306.9,276.4ZM225.9,310.0 228.7,310.1 230.9,310.7 233.9,311.9 235.7,313.1 237.8,315.1 239.0,317.1 239.7,319.1 240.0,321.1 239.9,323.0 239.4,326.0 235.9,334.8 234.2,340.9 233.7,344.9 233.3,356.8 231.1,371.7 229.9,371.7 231.5,356.8 232.0,342.9 233.0,337.0 236.0,325.0 236.4,322.1 236.3,320.1 235.5,317.1 234.2,315.1 233.2,314.1 230.9,312.5 228.9,311.7 226.9,311.2 224.9,311.2 224.9,310.1ZM356.7,347.8 356.7,349.5 353.7,351.0 347.7,355.8 342.7,359.0 340.6,360.8 339.1,362.8 337.8,365.7 337.2,368.7 337.1,371.7 335.0,371.7 335.0,367.7 335.3,365.7 336.6,362.8 338.1,360.8 340.2,358.8 346.7,354.6 352.6,349.9 354.7,348.6Z"/>
<path fill="#ccd8d6" stroke="#ccd8d6" stroke-width="0.6" fill-rule="evenodd" d="M302.1,274.4 305.7,274.4 306.9,276.4 308.8,278.5 311.1,280.4 313.8,281.8 321.8,284.5 329.7,286.4 338.7,287.3 342.7,287.2 346.2,286.3 352.7,283.0 356.7,281.4 356.7,282.7 353.7,283.9 346.7,287.2 342.7,288.2 339.7,288.4 336.7,288.4 326.7,287.3 321.2,286.3 314.8,284.6 311.8,283.6 309.8,282.7 307.7,281.4 305.4,279.4 303.7,277.4ZM226.9,308.8 230.9,309.1 233.9,309.9 237.0,311.1 240.4,313.1 241.5,314.1 243.0,316.1 243.8,318.1 244.3,321.1 244.2,324.0 243.5,327.0 242.5,329.0 239.9,332.8 238.1,336.0 236.8,338.9 235.9,341.9 235.6,344.9 235.4,351.8 235.0,356.8 232.4,371.7 231.1,371.7 233.3,356.8 234.0,341.9 234.6,338.9 235.9,334.8 239.4,326.0 239.9,323.0 240.0,321.1 239.7,319.1 239.0,317.1 237.8,315.1 236.9,314.1 234.2,312.1 230.9,310.7 227.9,310.0 224.9,310.1 224.9,309.0ZM356.7,346.3 356.7,347.8 354.7,348.6 352.6,349.9 346.7,354.6 340.2,358.8 338.1,360.8 336.6,362.8 335.3,365.7 335.0,367.7 335.0,371.7 332.8,371.7 332.6,367.7 332.8,365.7 334.0,362.8 335.5,360.8 338.8,357.8 345.2,353.8 351.7,348.7 353.7,347.5Z"/>
<path fill="#c1cfd0" stroke="#c1cfd0" stroke-width="0.6" fill-rule="evenodd" d="M297.9,274.4 302.1,274.4 303.7,277.4 305.4,279.4 307.8,281.4 311.0,283.3 313.8,284.4 319.8,286.0 326.5,287.3 336.7,288.4 339.7,288.4 342.7,288.2 346.7,287.2 353.7,283.9 356.7,282.7 356.7,284.0 346.7,288.3 344.7,288.9 341.7,289.4 337.7,289.5 333.7,289.4 323.8,288.5 317.8,287.7 312.8,286.9 308.8,285.8 305.8,284.5 301.9,282.3 300.7,281.4 299.4,279.4ZM263.7,306.2 265.8,304.7 266.8,304.2 268.8,303.6 271.8,303.3 273.8,303.7 277.7,306.2 278.5,307.2 278.8,309.1 278.2,311.1 277.7,312.1 276.5,313.1 273.8,313.7 270.8,313.7 268.3,313.1 263.6,310.1 262.6,309.1 262.4,308.2 262.8,307.2ZM227.9,307.7 230.9,307.7 234.1,308.2 243.0,310.1 246.5,311.1 248.3,312.1 249.2,313.1 250.2,315.1 250.7,317.1 250.4,323.0 250.5,327.0 250.0,329.0 249.4,330.0 248.5,331.0 243.9,334.0 241.9,335.8 239.9,338.2 238.0,341.9 237.5,344.9 237.2,351.8 236.5,357.8 233.6,371.7 232.4,371.7 235.0,356.8 235.4,351.8 235.6,344.9 235.9,341.9 236.8,338.9 238.1,336.0 239.9,332.8 242.5,329.0 243.5,327.0 244.2,324.0 244.2,320.1 243.8,318.1 243.0,316.1 241.5,314.1 240.4,313.1 237.0,311.1 232.9,309.6 228.9,308.9 224.9,309.0 224.9,308.0ZM356.7,344.8 356.7,346.3 353.7,347.5 351.7,348.7 345.7,353.4 339.7,357.2 336.5,359.8 334.0,362.8 333.1,364.8 332.6,367.7 332.8,371.7 330.6,371.7 330.1,367.7 330.4,364.8 331.7,362.0 333.7,359.8 337.7,356.5 344.0,352.8 350.7,347.6 353.7,345.9Z"/>
<path fill="#b2c4c8" stroke="#b2c4c8" stroke-width="0.6" fill-rule="evenodd" d="M356.7,284.0 356.7,285.3 347.7,289.0 344.7,289.9 341.7,290.4 338.7,290.7 335.7,290.7 328.7,290.4 308.8,289.9 306.8,290.0 304.8,290.4 303.8,290.8 301.8,292.0 298.5,295.2 291.8,304.5 285.8,310.2 282.1,314.1 279.9,316.1 277.8,317.4 269.8,321.3 259.8,328.0 252.9,334.0 251.0,335.0 245.9,337.1 243.9,338.4 241.9,340.4 240.8,341.9 239.9,344.4 238.0,358.8 234.9,371.7 233.6,371.7 236.5,357.8 237.2,351.8 237.5,344.9 238.0,341.9 239.9,338.2 241.9,335.8 243.9,334.0 248.5,331.0 249.4,330.0 250.0,329.0 250.5,327.0 250.4,323.0 250.7,317.1 250.2,315.1 249.2,313.1 248.3,312.1 246.5,311.1 243.0,310.1 232.9,308.0 228.9,307.7 224.9,308.0 224.9,307.0 227.9,306.6 230.9,306.4 239.9,306.8 241.9,306.6 243.9,306.2 246.9,304.9 251.4,302.2 256.9,300.0 264.8,296.3 271.8,294.6 281.8,291.4 283.8,290.3 285.1,289.3 287.7,286.3 292.1,279.4 292.9,277.4 293.3,274.4 297.9,274.4 299.0,278.4 299.9,280.4 300.7,281.4 301.9,282.3 305.8,284.5 307.8,285.4 310.8,286.4 319.8,288.0 325.7,288.7 334.7,289.4 338.7,289.5 341.7,289.4 344.7,288.9 346.7,288.3ZM263.7,306.2 262.8,307.2 262.4,308.2 262.6,309.1 263.6,310.1 268.3,313.1 270.8,313.7 273.8,313.7 276.5,313.1 277.7,312.1 278.2,311.1 278.8,309.1 278.5,307.2 277.7,306.2 273.8,303.7 271.8,303.3 268.8,303.6 266.8,304.2 265.8,304.7ZM356.7,343.3 356.7,344.8 353.7,345.9 350.7,347.6 344.0,352.8 337.7,356.5 333.7,359.8 331.7,362.0 330.4,364.8 330.1,367.7 330.6,371.7 327.6,371.7 327.4,367.7 327.8,364.8 329.1,361.8 330.7,359.7 335.5,355.8 337.7,354.4 342.7,351.7 349.7,346.5 352.7,344.8Z"/>
<path fill="#a3b9c1" stroke="#a3b9c1" stroke-width="0.6" fill-rule="evenodd" d="M293.3,274.4 292.9,277.4 292.1,279.4 287.7,286.3 285.1,289.3 283.8,290.3 281.8,291.4 271.8,294.6 264.8,296.3 256.9,300.0 251.4,302.2 246.9,304.9 243.9,306.2 241.9,306.6 239.9,306.8 230.9,306.4 227.9,306.6 224.9,307.0 224.9,306.1 231.9,305.0 237.9,304.7 240.9,304.0 243.9,302.8 248.9,299.9 254.9,296.9 260.8,293.3 262.8,292.3 264.8,291.7 266.8,291.2 275.8,289.9 277.8,289.4 279.8,288.7 282.0,287.3 283.0,286.3 284.3,284.3 286.3,279.4 287.4,274.4ZM356.7,285.3 356.7,286.6 348.7,289.8 344.7,290.9 340.7,291.6 337.7,291.9 326.7,291.8 320.2,292.3 312.8,293.1 309.8,293.7 307.8,294.3 305.8,295.3 303.8,296.5 301.8,298.1 299.8,300.2 295.4,306.2 292.8,309.1 282.4,318.1 279.8,319.9 272.8,324.1 264.8,330.1 259.2,334.0 254.9,336.5 247.2,339.9 245.7,340.9 243.9,342.6 242.5,344.9 241.8,346.9 239.1,360.8 236.1,371.7 234.9,371.7 238.0,358.8 239.9,344.4 240.8,341.9 241.9,340.4 243.9,338.4 245.9,337.1 251.0,335.0 252.9,334.0 259.8,328.0 269.8,321.3 277.8,317.4 279.9,316.1 282.1,314.1 285.8,310.2 291.8,304.5 298.5,295.2 301.8,292.0 303.8,290.8 304.8,290.4 306.8,290.0 308.8,289.9 328.7,290.4 335.7,290.7 340.7,290.5 344.7,289.9 347.7,289.0ZM356.7,341.8 356.7,343.3 353.7,344.3 350.7,345.9 347.8,347.9 343.7,351.0 336.7,355.0 331.7,358.8 329.7,360.8 328.2,363.8 327.5,366.7 327.6,371.7 323.8,371.7 324.6,366.7 325.8,362.8 327.5,359.8 329.5,357.8 335.7,353.2 342.7,349.4 349.3,344.9 352.7,343.2Z"/>
<path fill="#92acb8" stroke="#92acb8" stroke-width="0.6" fill-rule="evenodd" d="M287.4,274.4 286.3,279.4 284.3,284.3 283.0,286.3 282.0,287.3 279.8,288.7 277.8,289.4 275.8,289.9 266.8,291.2 264.8,291.7 262.8,292.3 260.8,293.3 254.9,296.9 248.9,299.9 243.9,302.8 240.9,304.0 237.9,304.7 230.9,305.1 224.9,306.1 224.9,305.1 230.9,303.7 237.9,302.5 240.9,301.3 251.9,295.2 258.8,290.1 260.8,288.8 262.8,287.9 267.8,286.6 269.8,286.5 274.8,286.7 276.8,286.6 277.8,286.3 279.4,285.3 280.2,284.3 281.0,282.3 281.0,280.4 280.8,279.4 279.8,277.6 275.9,274.4ZM356.7,286.6 356.7,287.9 349.7,290.5 346.7,291.5 338.7,293.0 335.7,293.2 328.7,293.2 320.8,294.4 314.8,295.8 311.8,296.7 308.8,297.9 305.8,299.7 302.8,302.2 296.8,310.4 294.8,312.5 292.9,314.1 281.8,322.3 274.6,327.0 267.8,332.7 265.8,334.1 259.8,337.4 249.9,341.7 247.8,342.9 245.9,344.7 244.4,346.9 243.3,349.9 240.4,361.8 237.4,371.7 236.1,371.7 239.1,360.8 241.8,346.9 242.5,344.9 243.9,342.6 245.7,340.9 247.2,339.9 254.9,336.5 259.2,334.0 264.8,330.1 272.8,324.1 279.8,319.9 282.4,318.1 292.8,309.1 295.4,306.2 299.8,300.2 301.8,298.1 303.8,296.5 305.8,295.3 307.8,294.3 309.8,293.7 312.8,293.1 320.2,292.3 326.7,291.8 337.7,291.9 343.7,291.1 348.7,289.8ZM356.7,340.3 356.7,341.8 352.7,343.2 349.3,344.9 342.7,349.4 335.7,353.2 329.5,357.8 327.5,359.8 325.8,362.8 324.6,366.7 323.8,371.7 319.5,371.7 320.7,367.7 323.1,361.8 324.8,358.8 326.7,356.6 335.7,350.3 341.7,347.4 349.7,342.8 352.7,341.5Z"/>
<path fill="#819fb0" stroke="#819fb0" stroke-width="0.6" fill-rule="evenodd" d="M279.6,277.4 280.8,279.6 281.0,282.3 280.7,283.3 279.8,284.8 278.8,285.7 277.8,286.3 276.8,286.6 274.8,286.7 269.8,286.5 267.8,286.6 262.8,287.9 260.8,288.8 258.8,290.1 251.7,295.2 239.9,301.8 236.9,302.7 230.9,303.7 224.9,305.1 224.9,304.1 234.9,301.2 238.9,299.6 247.8,294.3 250.9,292.2 254.9,288.3 259.3,283.3 260.3,281.4 261.3,276.4 262.1,274.4 275.9,274.4ZM356.7,287.9 356.7,289.2 349.7,291.7 346.7,292.6 338.7,294.3 335.7,294.7 330.7,294.7 328.7,294.9 325.7,295.4 321.8,296.5 317.8,297.8 314.2,299.2 311.8,300.4 308.9,302.2 306.8,303.8 305.5,305.2 304.1,307.2 299.8,314.6 298.8,315.8 297.3,317.1 295.5,318.1 290.8,320.1 289.3,321.1 282.8,326.5 277.8,329.4 275.8,330.8 271.8,335.1 269.4,337.0 264.9,338.9 252.9,343.3 249.9,344.8 247.9,346.4 246.1,348.9 244.9,351.6 242.0,361.8 238.8,371.7 237.4,371.7 240.4,361.8 243.3,349.9 244.4,346.9 245.9,344.7 247.8,342.9 249.9,341.7 259.8,337.4 265.8,334.1 267.8,332.7 274.6,327.0 281.8,322.3 292.9,314.1 294.8,312.5 296.8,310.4 302.8,302.2 305.8,299.7 308.2,298.2 310.8,297.0 313.0,296.2 316.8,295.2 321.8,294.2 327.7,293.3 330.7,293.1 336.7,293.2 340.7,292.7 347.7,291.2ZM356.7,338.8 356.7,340.3 352.7,341.5 348.7,343.3 341.7,347.4 335.7,350.3 327.7,355.8 325.6,357.8 323.6,360.8 321.1,366.7 319.5,371.7 314.9,371.7 316.3,367.7 319.0,362.8 321.3,356.8 322.8,354.5 324.7,352.6 332.7,347.2 340.7,344.9 343.7,343.8 350.7,340.5Z"/>
<path fill="#7596aa" stroke="#7596aa" stroke-width="0.6" fill-rule="evenodd" d="M262.1,274.4 261.3,276.4 260.3,281.4 259.3,283.3 254.9,288.3 250.8,292.3 241.9,297.9 237.9,300.1 234.8,301.2 224.9,304.1 224.9,303.0 232.5,300.2 236.8,298.2 243.1,294.3 247.2,291.3 250.2,288.3 252.6,285.3 254.4,282.3 258.6,274.4ZM356.7,289.2 356.7,290.5 347.7,293.5 338.7,295.9 335.7,296.3 330.7,296.5 327.7,297.0 324.7,297.9 321.4,299.2 317.5,301.2 313.2,304.2 310.4,307.2 308.6,310.1 307.3,314.1 307.2,317.1 308.2,322.1 309.7,326.0 310.8,327.6 312.1,329.0 317.8,332.5 321.8,336.0 323.8,337.3 325.7,338.2 330.7,339.7 334.7,341.2 336.7,341.6 338.7,341.8 340.7,341.7 342.7,341.3 350.7,338.6 356.7,337.2 356.7,338.8 350.7,340.5 343.7,343.8 340.7,344.9 332.7,347.2 324.7,352.6 322.8,354.5 321.3,356.8 319.0,362.8 316.3,367.7 314.9,371.7 310.0,371.7 311.0,368.7 313.7,362.8 314.1,360.8 313.8,358.8 313.1,357.8 312.0,356.8 309.8,355.8 304.8,354.9 302.8,354.3 300.4,352.8 294.8,348.7 285.8,344.3 282.8,343.4 277.8,343.1 273.8,342.2 271.8,342.1 268.8,342.2 265.8,342.6 257.9,344.5 252.9,346.2 249.9,348.1 247.9,350.5 246.6,352.8 240.2,371.7 238.8,371.7 242.0,361.8 244.9,351.6 246.1,348.9 247.9,346.4 249.9,344.8 252.9,343.3 264.9,338.9 269.4,337.0 271.8,335.1 275.8,330.8 277.8,329.4 282.8,326.5 289.3,321.1 290.8,320.1 295.5,318.1 297.3,317.1 298.8,315.8 299.8,314.6 304.1,307.2 305.5,305.2 306.8,303.8 308.9,302.2 311.8,300.4 314.2,299.2 317.8,297.8 322.5,296.2 326.5,295.2 329.7,294.7 335.7,294.7 339.7,294.2 348.7,292.0Z"/>
<path fill="#698ca3" stroke="#698ca3" stroke-width="0.6" fill-rule="evenodd" d="M258.6,274.4 254.4,282.3 252.6,285.3 250.2,288.3 247.2,291.3 243.1,294.3 236.8,298.2 232.5,300.2 224.9,303.0 224.9,301.9 229.0,300.2 233.9,297.7 236.9,295.9 243.3,291.3 245.4,289.3 247.9,286.3 255.5,274.4ZM356.7,290.5 356.7,291.8 339.7,297.5 336.7,298.1 329.7,298.9 325.7,300.2 322.1,302.2 319.5,304.2 316.8,307.2 315.1,310.1 313.9,314.1 313.5,317.1 313.6,320.1 314.5,323.0 315.7,325.0 316.8,326.1 322.8,330.7 325.7,332.6 329.7,334.7 334.7,336.7 337.7,337.7 339.7,338.0 341.7,338.1 343.7,337.9 356.7,335.6 356.7,337.2 350.7,338.6 342.7,341.3 340.7,341.7 338.7,341.8 335.7,341.4 330.7,339.7 325.7,338.2 323.8,337.3 321.8,336.0 317.8,332.5 313.5,330.0 311.1,328.0 309.2,325.0 307.4,319.1 307.2,315.1 308.1,311.1 309.1,309.1 310.4,307.2 313.2,304.2 317.5,301.2 321.4,299.2 324.7,297.9 328.7,296.8 330.7,296.5 336.7,296.2 339.7,295.7 348.7,293.2ZM240.2,371.7 243.4,362.8 246.2,353.8 247.6,350.8 248.9,349.1 250.9,347.4 253.9,345.8 258.8,344.2 265.8,342.6 269.8,342.1 272.8,342.1 277.8,343.1 282.8,343.4 284.8,343.9 293.8,348.1 296.8,350.0 300.4,352.8 302.8,354.3 304.8,354.9 309.8,355.8 311.8,356.6 313.1,357.8 313.8,358.8 314.0,359.8 314.0,361.8 311.0,368.7 310.0,371.7 304.5,371.7 305.2,368.7 306.9,364.8 307.2,362.8 306.5,360.8 304.8,359.3 299.8,357.0 292.8,352.9 287.8,350.3 284.8,348.9 281.8,348.0 275.8,346.9 269.8,346.3 264.8,346.5 259.8,347.2 256.9,347.8 253.9,348.8 251.9,349.9 249.9,351.8 247.9,355.4 241.7,371.7Z"/>
<path fill="#5d839d" stroke="#5d839d" stroke-width="0.6" fill-rule="evenodd" d="M255.5,274.4 247.9,286.3 246.3,288.3 244.4,290.3 240.9,293.1 234.8,297.2 231.1,299.2 224.9,301.9 224.9,300.7 228.9,298.8 232.9,296.5 241.2,290.3 244.0,287.3 248.7,279.4 252.7,274.4ZM356.7,291.8 356.7,293.2 348.2,296.2 340.7,299.6 337.7,300.5 330.7,301.6 327.7,302.7 325.5,304.2 323.4,306.2 321.9,308.2 320.9,310.1 319.9,313.1 319.1,317.1 319.0,319.1 319.3,321.1 320.4,323.0 322.1,325.0 324.4,327.0 326.7,328.7 329.7,330.4 333.7,332.2 337.7,333.6 340.7,334.3 343.7,334.6 346.7,334.6 353.7,334.1 356.7,333.8 356.7,335.6 342.7,338.0 339.7,338.0 337.7,337.7 334.7,336.7 331.7,335.5 325.7,332.6 319.2,328.0 315.7,325.0 315.0,324.0 314.1,322.1 313.4,318.1 313.9,314.1 315.1,310.1 316.8,307.2 319.5,304.2 322.1,302.2 325.8,300.2 329.7,298.9 336.7,298.1 339.7,297.5ZM241.7,371.7 247.9,355.4 249.9,351.8 251.9,349.9 253.9,348.8 256.9,347.8 260.8,347.0 265.8,346.4 270.8,346.4 278.8,347.3 282.8,348.3 285.8,349.4 288.8,350.8 299.8,357.0 304.8,359.3 306.5,360.8 307.0,361.8 307.2,363.8 305.2,368.7 304.5,371.7 299.2,371.7 299.8,364.8 299.2,362.8 297.4,360.8 295.0,358.8 292.0,356.8 287.8,354.5 281.8,351.7 278.8,350.8 276.8,350.4 273.8,350.2 268.8,350.1 262.8,350.4 258.8,350.8 254.9,351.8 253.0,352.8 251.9,353.8 250.4,355.8 248.9,358.6 243.2,371.7Z"/>
<path fill="#517a97" stroke="#517a97" stroke-width="0.6" fill-rule="evenodd" d="M252.7,274.4 248.9,279.1 244.7,286.3 241.9,289.7 238.9,292.2 233.2,296.2 228.9,298.8 224.9,300.7 224.9,299.5 229.0,297.2 232.0,295.2 238.5,290.3 240.6,288.3 242.8,285.3 246.3,278.4 249.8,274.4ZM356.7,293.2 356.7,294.6 352.1,296.2 348.0,298.2 346.3,299.2 340.7,303.3 337.7,304.5 332.7,305.6 330.7,306.5 329.7,307.2 327.9,309.1 326.2,312.1 325.1,316.1 325.0,318.1 325.3,320.1 326.7,323.0 327.7,324.2 329.7,325.8 331.9,327.0 336.7,329.0 342.7,330.7 345.7,331.3 349.7,331.7 353.7,331.8 356.7,331.5 356.7,333.8 348.7,334.5 344.7,334.6 341.7,334.4 338.7,333.9 333.7,332.2 327.7,329.3 323.2,326.0 320.4,323.0 319.3,321.1 319.0,318.1 319.6,314.1 320.9,310.1 322.6,307.2 324.3,305.2 326.7,303.3 328.7,302.2 331.7,301.4 336.7,300.7 339.7,300.0 348.2,296.2ZM243.2,371.7 248.9,358.6 251.1,354.8 252.9,352.9 254.9,351.8 256.9,351.2 259.8,350.6 266.8,350.2 272.8,350.1 277.8,350.6 280.8,351.3 286.6,353.8 293.6,357.8 296.2,359.8 298.5,361.8 299.2,362.8 299.6,363.8 299.7,365.7 299.2,371.7 293.6,371.7 292.6,364.8 292.0,362.8 291.3,361.8 288.9,359.8 282.8,356.2 278.8,354.6 275.8,354.0 263.8,354.3 259.8,354.6 257.9,354.9 255.9,355.6 253.9,356.7 252.9,357.6 250.4,360.8 244.8,371.7Z"/>
<path fill="#467292" stroke="#467292" stroke-width="0.6" fill-rule="evenodd" d="M249.8,274.4 246.3,278.4 242.8,285.3 240.6,288.3 238.5,290.3 232.0,295.2 229.0,297.2 224.9,299.5 224.9,298.3 228.3,296.2 231.0,294.3 237.1,289.3 239.3,287.3 241.3,284.3 243.7,278.4 246.0,275.4 247.0,274.4ZM356.7,294.6 356.7,296.2 353.7,297.2 350.7,298.7 348.5,300.2 346.4,302.2 342.9,307.2 339.7,312.9 335.9,317.1 335.2,319.1 335.3,320.1 335.8,321.1 336.7,322.1 339.2,324.0 342.7,326.1 345.7,327.2 349.7,328.2 353.7,328.6 356.7,328.5 356.7,331.5 354.7,331.8 350.7,331.7 346.7,331.4 343.7,330.9 339.7,330.0 333.7,327.8 330.1,326.0 327.6,324.0 326.1,322.1 325.1,319.1 325.1,316.1 325.9,313.1 326.7,311.1 327.9,309.1 329.7,307.2 330.7,306.5 332.7,305.6 337.7,304.5 339.7,303.8 341.7,302.7 344.9,300.2 348.0,298.2 352.1,296.2ZM244.8,371.7 250.9,360.1 252.9,357.6 254.9,356.1 256.9,355.2 259.8,354.6 273.8,354.0 277.8,354.3 280.8,355.3 287.3,358.8 290.8,361.2 291.8,362.5 292.3,363.8 293.6,371.7 288.4,371.7 285.5,365.7 284.1,363.8 282.2,361.8 280.8,360.6 278.8,359.4 276.8,358.8 274.8,358.7 268.8,359.0 262.8,359.0 258.8,359.5 255.9,360.4 253.9,361.6 252.9,362.5 247.9,369.4 246.5,371.7Z"/>
<path fill="#3c6a8c" stroke="#3c6a8c" stroke-width="0.6" fill-rule="evenodd" d="M247.0,274.4 245.1,276.4 243.9,278.1 241.3,284.3 239.3,287.3 237.1,289.3 231.0,294.3 228.3,296.2 224.9,298.3 224.9,297.0 230.2,293.3 236.0,288.3 238.1,286.3 239.5,284.3 241.9,278.1 243.7,275.4 244.7,274.4ZM356.7,296.2 356.7,297.9 353.7,299.1 351.8,300.2 350.5,301.2 348.7,303.2 347.4,305.2 346.5,307.2 345.5,311.1 345.1,318.1 345.6,320.1 346.1,321.1 347.7,322.7 350.4,324.0 352.7,324.6 356.7,324.8 356.7,328.5 352.7,328.6 349.7,328.2 346.7,327.5 343.7,326.5 340.7,325.0 336.7,322.1 335.8,321.1 335.3,320.1 335.2,319.1 335.9,317.1 339.7,312.9 342.9,307.2 345.6,303.2 347.4,301.2 349.7,299.4 351.6,298.2 353.7,297.2ZM288.4,371.7 283.9,371.7 280.8,368.6 275.8,364.9 273.8,364.1 271.8,364.0 268.8,364.3 264.8,365.7 263.8,365.6 260.8,364.4 259.8,364.1 257.9,364.1 256.9,364.2 254.9,365.0 253.9,365.8 249.9,369.6 248.3,371.7 246.5,371.7 247.9,369.4 252.9,362.5 253.9,361.6 255.9,360.4 258.8,359.5 262.8,359.0 268.8,359.0 274.8,358.7 276.8,358.8 278.8,359.4 280.8,360.6 282.2,361.8 284.1,363.8 285.5,365.7Z"/>
<path fill="#427086" stroke="#427086" stroke-width="0.6" fill-rule="evenodd" d="M244.7,274.4 242.2,277.4 239.5,284.3 238.1,286.3 236.0,288.3 230.2,293.3 224.9,297.0 224.9,295.8 228.2,293.3 236.1,286.3 237.8,284.3 240.5,277.4 241.9,275.3 242.7,274.4ZM356.7,297.9 356.7,299.9 354.7,300.7 352.7,302.1 351.5,303.2 350.1,305.2 348.9,308.2 348.4,312.1 348.7,315.6 349.7,318.1 350.7,319.3 352.7,320.6 354.7,321.3 356.7,321.6 356.7,324.8 353.7,324.7 351.7,324.4 349.7,323.8 348.3,323.0 347.0,322.1 345.7,320.3 345.3,319.1 345.1,317.1 345.9,309.1 346.5,307.2 348.0,304.2 349.5,302.2 351.7,300.3 353.7,299.1ZM248.3,371.7 249.9,369.6 252.9,366.6 254.9,365.0 255.9,364.5 257.9,364.1 259.8,364.1 260.8,364.4 263.8,365.6 264.8,365.7 268.8,364.3 271.8,364.0 273.8,364.1 275.8,364.9 280.8,368.6 283.9,371.7 279.5,371.7 274.8,368.2 272.8,367.2 271.8,367.0 268.8,366.8 264.8,367.4 258.8,366.5 256.9,366.8 254.9,367.7 252.1,369.7 250.2,371.7Z"/>
<path fill="#477681" stroke="#477681" stroke-width="0.6" fill-rule="evenodd" d="M242.7,274.4 240.5,277.4 238.3,283.3 237.0,285.3 230.6,291.3 224.9,295.8 224.9,294.5 232.1,288.3 236.0,284.3 237.2,282.3 239.6,276.4 241.0,274.4ZM356.7,299.9 356.7,302.2 354.9,303.2 353.8,304.2 352.4,306.2 351.5,308.2 351.1,311.1 351.4,314.1 352.4,316.1 353.3,317.1 354.7,318.0 356.7,318.7 356.7,321.6 354.7,321.3 352.7,320.6 351.6,320.1 350.5,319.1 349.7,318.1 348.8,316.1 348.4,312.1 348.9,308.2 349.6,306.2 350.8,304.2 352.6,302.2 353.7,301.3ZM250.2,371.7 252.1,369.7 254.9,367.7 256.9,366.8 258.8,366.5 264.8,367.4 268.8,366.8 271.8,367.0 272.8,367.2 274.8,368.2 279.5,371.7 276.0,371.7 272.8,369.5 269.8,368.5 259.8,368.2 257.9,368.4 255.9,369.2 253.9,370.4 252.4,371.7Z"/>
<path fill="#4e7e7a" stroke="#4e7e7a" stroke-width="0.6" fill-rule="evenodd" d="M241.0,274.4 239.6,276.4 237.2,282.3 236.0,284.3 232.1,288.3 224.9,294.5 224.9,293.2 231.9,286.9 235.1,283.3 236.3,281.4 238.9,275.6 239.7,274.4ZM356.7,302.2 356.7,305.5 355.7,306.5 354.7,308.1 354.0,311.1 354.3,313.1 354.8,314.1 355.7,315.0 356.7,315.6 356.7,318.7 354.7,318.0 353.3,317.1 352.4,316.1 351.4,314.1 351.1,311.1 351.5,308.2 352.7,305.6 354.7,303.4ZM252.4,371.7 253.9,370.4 255.9,369.2 257.9,368.4 259.8,368.2 269.8,368.5 272.8,369.5 276.0,371.7 272.9,371.7 270.8,370.5 267.8,369.6 262.8,369.3 260.8,369.4 258.8,369.8 256.9,370.5 255.0,371.7Z"/>
<path fill="#558574" stroke="#558574" stroke-width="0.6" fill-rule="evenodd" d="M239.7,274.4 238.5,276.4 236.3,281.4 234.4,284.3 231.5,287.3 224.9,293.2 224.9,292.0 231.0,286.3 233.9,283.1 235.6,280.4 238.6,274.4ZM356.7,305.5 356.7,315.6 355.7,315.0 354.8,314.1 354.3,313.1 354.0,311.1 354.7,308.1 355.7,306.5ZM255.0,371.7 256.9,370.5 258.8,369.8 260.8,369.4 262.8,369.3 266.8,369.5 268.8,369.8 270.8,370.5 272.9,371.7 269.9,371.7 266.8,370.5 263.8,370.2 260.8,370.6 257.9,371.7Z"/>
<path fill="#5e8f6b" stroke="#5e8f6b" stroke-width="0.6" fill-rule="evenodd" d="M238.6,274.4 235.6,280.4 233.7,283.3 231.0,286.3 224.9,292.0 224.9,290.7 229.9,286.1 232.5,283.3 234.9,279.8 237.7,274.4ZM257.9,371.7 260.8,370.6 263.8,370.2 266.8,370.5 269.9,371.7 266.7,371.7 264.8,371.2 263.8,371.2 261.5,371.7Z"/>
<path fill="#689962" stroke="#689962" stroke-width="0.6" fill-rule="evenodd" d="M237.7,274.4 234.9,279.8 232.9,282.9 230.7,285.3 224.9,290.7 224.9,289.5 231.4,283.3 234.2,279.4 236.9,274.4ZM261.5,371.7 263.8,371.2 264.8,371.2 266.7,371.7Z"/>
<path fill="#70a25a" stroke="#70a25a" stroke-width="0.6" fill-rule="evenodd" d="M236.9,274.4 234.2,279.4 232.2,282.3 229.9,284.9 224.9,289.5 224.9,288.4 230.9,282.7 233.4,279.4 236.2,274.4Z"/>
<path fill="#79aa52" stroke="#79aa52" stroke-width="0.6" fill-rule="evenodd" d="M236.2,274.4 233.9,278.6 231.2,282.3 229.3,284.3 224.9,288.4 224.9,287.3 230.3,282.3 233.2,278.4 235.6,274.4Z"/>
<path fill="#80b24a" stroke="#80b24a" stroke-width="0.6" fill-rule="evenodd" d="M235.6,274.4 233.2,278.4 230.9,281.6 228.9,283.7 224.9,287.3 224.9,286.3 229.9,281.8 232.5,278.4 234.9,274.4Z"/>
<path fill="#88ba43" stroke="#88ba43" stroke-width="0.6" fill-rule="evenodd" d="M234.9,274.4 232.9,277.8 230.3,281.4 228.9,282.8 224.9,286.3 224.9,285.4 229.5,281.4 232.5,277.4 234.3,274.4Z"/>
<path fill="#8dc03e" stroke="#8dc03e" stroke-width="0.6" fill-rule="evenodd" d="M234.3,274.4 232.5,277.4 229.9,280.9 227.9,282.9 224.9,285.4 224.9,284.5 228.9,281.1 231.2,278.4 233.7,274.4Z"/>
<path fill="#92c539" stroke="#92c539" stroke-width="0.6" fill-rule="evenodd" d="M233.7,274.4 231.9,277.4 229.6,280.4 227.9,282.1 224.9,284.5 224.9,283.8 228.9,280.3 231.3,277.4 233.2,274.4Z"/>
<path fill="#96c936" stroke="#96c936" stroke-width="0.6" fill-rule="evenodd" d="M233.2,274.4 231.3,277.4 228.9,280.3 224.9,283.8 224.9,283.1 226.9,281.5 228.9,279.6 230.7,277.4 232.6,274.4Z"/>
<path fill="#9acd32" stroke="#9acd32" stroke-width="0.6" fill-rule="evenodd" d="M232.6,274.4 230.7,277.4 228.9,279.6 226.9,281.5 224.9,283.1 224.9,282.4 227.9,279.9 230.1,277.4 232.1,274.4Z"/>
<path fill="#9ed12f" stroke="#9ed12f" stroke-width="0.6" fill-rule="evenodd" d="M232.1,274.4 228.9,278.9 226.9,280.9 224.9,282.4 224.9,281.8 226.9,280.2 228.7,278.4 231.5,274.4Z"/>
<path fill="#a2d52c" stroke="#a2d52c" stroke-width="0.6" fill-rule="evenodd" d="M231.5,274.4 228.7,278.4 226.9,280.2 224.9,281.8 224.9,281.2 228.1,278.4 231.0,274.4Z"/>
<path fill="#b4d724" stroke="#b4d724" stroke-width="0.6" fill-rule="evenodd" d="M231.0,274.4 228.1,278.4 224.9,281.2 224.9,280.6 227.9,278.0 230.5,274.4Z"/>
<path fill="#c5d91c" stroke="#c5d91c" stroke-width="0.6" fill-rule="evenodd" d="M230.5,274.4 227.9,278.0 224.9,280.6 224.9,280.0 227.8,277.4 230.0,274.4Z"/>
<path fill="#d2d816" stroke="#d2d816" stroke-width="0.6" fill-rule="evenodd" d="M230.0,274.4 227.8,277.4 224.9,280.0 224.9,279.5 227.2,277.4 229.5,274.4Z"/>
<path fill="#e0d60f" stroke="#e0d60f" stroke-width="0.6" fill-rule="evenodd" d="M229.5,274.4 227.2,277.4 224.9,279.5 224.9,278.9 226.9,277.1 229.0,274.4Z"/>
<path fill="#eacc0c" stroke="#eacc0c" stroke-width="0.6" fill-rule="evenodd" d="M229.0,274.4 226.9,277.1 224.9,278.9 224.9,278.3 226.9,276.5 228.5,274.4Z"/>
<path fill="#f5c30a" stroke="#f5c30a" stroke-width="0.6" fill-rule="evenodd" d="M228.5,274.4 226.9,276.5 224.9,278.3 224.9,277.8 226.4,276.4 228.0,274.4Z"/>
<path fill="#fab405" stroke="#fab405" stroke-width="0.6" fill-rule="evenodd" d="M228.0,274.4 226.4,276.4 224.9,277.8 224.9,277.2 225.9,276.3 227.4,274.4Z"/>
<path fill="#ffa500" stroke="#ffa500" stroke-width="0.6" fill-rule="evenodd" d="M227.4,274.4 225.9,276.3 224.9,277.2 224.9,276.6 226.9,274.4Z"/>
<path fill="#f17a07" stroke="#f17a07" stroke-width="0.6" fill-rule="evenodd" d="M226.9,274.4 224.9,276.6 224.9,276.0 226.4,274.4Z"/>
<path fill="#e3500e" stroke="#e3500e" stroke-width="0.6" fill-rule="evenodd" d="M226.4,274.4 224.9,276.0 224.9,275.4 225.8,274.4Z"/>
<path fill="#dc2f0e" stroke="#dc2f0e" stroke-width="0.6" fill-rule="evenodd" d="M224.9,275.4 224.9,274.7 225.2,274.4 225.8,274.4Z"/>
<path fill="#d40e0e" stroke="#d40e0e" stroke-width="0.6" fill-rule="evenodd" d="M224.9,274.7 224.9,274.4 225.2,274.4Z"/>
</g>
<rect x="224.9" y="274.4" width="131.8" height="97.3" fill="none" stroke="#222" stroke-width="1"/>
<path d="M224.9,371.7v5.2M224.9,371.7h-5.5M251.3,371.7v5.2M224.9,352.2h-5.5M277.6,371.7v5.2M224.9,332.8h-5.5M304.0,371.7v5.2M224.9,313.3h-5.5M330.3,371.7v5.2M224.9,293.9h-5.5M356.7,371.7v5.2M224.9,274.4h-5.5" stroke="#222" stroke-width="1" fill="none"/>
<text class="tk" x="223.9" y="389.8" text-anchor="middle">0.0</text>
<text class="tk" x="214.4" y="376.8" text-anchor="end">0.0</text>
<text class="tk" x="250.3" y="389.8" text-anchor="middle">0.2</text>
<text class="tk" x="214.4" y="357.3" text-anchor="end">0.2</text>
<text class="tk" x="276.6" y="389.8" text-anchor="middle">0.4</text>
<text class="tk" x="214.4" y="337.9" text-anchor="end">0.4</text>
<text class="tk" x="303.0" y="389.8" text-anchor="middle">0.6</text>
<text class="tk" x="214.4" y="318.4" text-anchor="end">0.6</text>
<text class="tk" x="329.3" y="389.8" text-anchor="middle">0.8</text>
<text class="tk" x="214.4" y="299.0" text-anchor="end">0.8</text>
<text class="tk" x="355.7" y="389.8" text-anchor="middle">1.0</text>
<text class="tk" x="214.4" y="279.5" text-anchor="end">1.0</text>
<text class="xl" x="290.5" y="401.2" text-anchor="middle">u (WindS)</text>
<text class="xl" transform="translate(194.2,324.0) rotate(-90)" text-anchor="middle">v (WB ET)</text>
<text class="pl" x="226.0" y="282.7">(d)</text>
</g>
<g>
<clipPath id="cpg"><rect x="406.2" y="274.4" width="131.8" height="97.3"/></clipPath>
<g clip-path="url(#cpg)">
<path fill="#fffff0" stroke="#fffff0" stroke-width="0.6" fill-rule="evenodd" d="M407.4,274.4 406.2,277.5 406.2,274.4ZM536.4,274.4 538.0,274.4 538.0,282.1 536.7,279.4 536.4,277.4ZM407.8,371.7 406.2,371.7 406.2,371.0Z"/>
<path fill="#f6f8eb" stroke="#f6f8eb" stroke-width="0.6" fill-rule="evenodd" d="M409.6,274.4 407.8,278.4 406.2,280.3 406.2,277.5 407.4,274.4ZM533.5,274.4 536.4,274.4 536.4,277.4 536.7,279.4 538.0,282.1 538.0,285.8 536.0,283.1 534.7,280.4 533.9,277.4ZM406.2,369.7 408.2,370.5 410.5,371.7 407.8,371.7 406.2,371.0Z"/>
<path fill="#ecf0e6" stroke="#ecf0e6" stroke-width="0.6" fill-rule="evenodd" d="M411.5,274.4 408.9,279.4 407.2,281.2 406.2,282.0 406.2,280.3 407.8,278.4 409.6,274.4ZM530.9,274.4 533.5,274.4 533.9,277.4 534.7,280.4 536.0,283.1 538.0,285.8 538.0,288.9 535.1,285.3 533.4,282.3 531.9,278.4ZM406.2,368.5 409.4,369.7 413.1,371.7 410.5,371.7 408.2,370.5 406.2,369.7Z"/>
<path fill="#e2e8e1" stroke="#e2e8e1" stroke-width="0.6" fill-rule="evenodd" d="M413.3,274.4 411.7,277.4 409.7,280.4 408.2,282.0 406.2,283.5 406.2,282.0 407.2,281.2 408.9,279.4 411.5,274.4ZM528.4,274.4 530.9,274.4 531.9,278.4 533.4,282.3 535.1,285.3 538.0,288.9 538.0,292.0 534.3,287.3 532.3,284.3 530.5,280.4ZM406.2,367.3 410.2,368.8 415.6,371.7 413.1,371.7 409.4,369.7 406.2,368.5Z"/>
<path fill="#d8e1dc" stroke="#d8e1dc" stroke-width="0.6" fill-rule="evenodd" d="M415.1,274.4 412.7,278.4 410.4,281.4 408.4,283.3 406.2,284.8 406.2,283.5 408.2,282.0 409.7,280.4 411.7,277.4 413.3,274.4ZM526.0,274.4 528.4,274.4 530.5,280.4 532.3,284.3 534.3,287.3 538.0,292.0 538.0,296.7 536.3,293.3 532.1,287.3 530.3,284.3ZM406.2,366.2 409.2,367.1 412.2,368.4 418.1,371.7 415.6,371.7 410.2,368.8 406.2,367.3Z"/>
<path fill="#ccd8d6" stroke="#ccd8d6" stroke-width="0.6" fill-rule="evenodd" d="M416.8,274.4 414.2,278.4 411.0,282.3 408.9,284.3 406.2,286.0 406.2,284.8 408.4,283.3 410.4,281.4 412.7,278.4 415.1,274.4ZM523.7,274.4 526.0,274.4 530.3,284.3 532.1,287.3 536.9,294.3 538.0,296.7 538.0,302.1 537.0,300.2 534.4,294.3 528.2,284.3ZM406.2,365.0 410.2,366.3 413.2,367.5 417.5,369.7 420.6,371.7 418.1,371.7 412.2,368.4 409.2,367.1 406.2,366.2Z"/>
<path fill="#c1cfd0" stroke="#c1cfd0" stroke-width="0.6" fill-rule="evenodd" d="M418.5,274.4 416.6,277.4 411.6,283.3 409.2,285.5 406.2,287.2 406.2,286.0 408.9,284.3 411.0,282.3 414.2,278.4 416.8,274.4ZM521.6,274.4 523.7,274.4 528.2,284.3 534.9,295.2 537.0,300.2 538.0,302.1 538.0,304.6 537.0,303.7 535.9,302.2 532.2,294.3 526.1,284.3 522.7,277.4ZM406.2,363.8 411.2,365.4 415.2,367.1 420.2,369.7 422.9,371.7 420.6,371.7 417.5,369.7 413.2,367.5 410.2,366.3 406.2,365.0Z"/>
<path fill="#b2c4c8" stroke="#b2c4c8" stroke-width="0.6" fill-rule="evenodd" d="M420.2,274.4 417.6,278.4 412.2,284.3 409.2,286.8 406.2,288.4 406.2,287.2 409.2,285.5 411.6,283.3 416.6,277.4 418.5,274.4ZM519.6,274.4 521.6,274.4 522.7,277.4 526.1,284.3 532.2,294.3 535.9,302.2 537.0,303.7 538.0,304.6 538.0,306.3 536.4,305.2 534.7,303.2 529.6,293.3 523.2,283.3 520.7,278.4ZM406.2,362.6 412.2,364.4 418.2,367.1 422.2,369.3 425.3,371.7 422.9,371.7 420.2,369.7 415.2,367.1 411.2,365.4 406.2,363.8Z"/>
<path fill="#a3b9c1" stroke="#a3b9c1" stroke-width="0.6" fill-rule="evenodd" d="M422.0,274.4 419.3,278.4 412.2,285.9 409.2,288.1 406.2,289.5 406.2,288.4 409.9,286.3 413.1,283.3 418.2,277.6 420.2,274.4ZM517.6,274.4 519.6,274.4 520.7,278.4 522.6,282.3 529.6,293.3 534.7,303.2 536.4,305.2 538.0,306.3 538.0,307.9 535.5,306.2 533.6,304.2 531.8,301.2 527.5,293.3 520.5,283.3 518.6,279.4ZM406.2,361.3 412.2,363.0 421.2,367.0 425.2,369.3 427.9,371.7 425.3,371.7 422.2,369.3 418.2,367.1 412.2,364.4 406.2,362.6Z"/>
<path fill="#92acb8" stroke="#92acb8" stroke-width="0.6" fill-rule="evenodd" d="M423.7,274.4 421.0,278.4 417.0,282.3 413.2,286.5 410.2,288.9 406.2,290.7 406.2,289.5 410.2,287.5 413.2,284.9 419.3,278.4 422.0,274.4ZM515.7,274.4 517.6,274.4 518.3,278.4 519.9,282.3 527.5,293.3 531.8,301.2 533.6,304.2 535.5,306.2 538.0,307.9 538.0,309.4 535.0,307.5 532.7,305.2 530.6,302.2 525.5,293.3 518.0,283.8 517.2,282.3 516.5,280.4ZM406.2,359.8 412.2,361.5 424.2,366.5 427.8,368.7 430.8,371.7 427.9,371.7 425.2,369.3 421.2,367.0 412.2,363.0 406.2,361.3Z"/>
<path fill="#819fb0" stroke="#819fb0" stroke-width="0.6" fill-rule="evenodd" d="M425.5,274.4 423.6,277.4 421.9,279.4 418.2,282.7 413.2,288.3 410.2,290.3 406.2,291.9 406.2,290.7 410.2,288.9 413.2,286.5 417.0,282.3 421.0,278.4 423.7,274.4ZM514.0,274.4 515.7,274.4 516.5,280.4 517.2,282.3 518.4,284.3 525.5,293.3 531.9,304.2 534.6,307.2 536.0,308.3 538.0,309.4 538.0,310.9 534.9,309.1 531.7,306.2 529.5,303.2 524.0,294.3 515.5,284.3 515.0,283.3 514.5,281.4ZM459.1,312.5 460.1,311.9 462.5,311.1 467.1,310.4 471.1,310.4 474.1,311.1 477.1,312.7 481.1,316.2 483.1,317.6 495.0,323.0 498.1,325.0 500.0,327.0 501.3,329.0 502.5,332.0 503.2,335.0 503.3,337.9 502.9,339.9 501.9,341.9 500.1,343.8 497.6,344.9 494.1,345.4 489.1,345.5 485.1,345.0 483.1,344.3 481.1,343.1 476.1,339.1 471.3,336.0 469.3,334.0 467.0,330.0 465.5,328.0 463.1,326.2 459.1,323.9 458.1,323.0 456.8,321.1 456.2,319.1 456.4,316.1 457.3,314.1ZM406.2,358.2 413.2,360.2 419.2,362.8 424.2,364.3 427.2,365.4 429.5,366.7 433.2,370.1 435.5,371.7 430.8,371.7 427.8,368.7 425.2,367.0 413.2,361.9 406.2,359.8Z"/>
<path fill="#7596aa" stroke="#7596aa" stroke-width="0.6" fill-rule="evenodd" d="M427.4,274.4 425.5,277.4 423.9,279.4 421.8,281.4 419.2,283.4 416.1,287.3 414.2,289.3 411.1,291.3 406.2,293.2 406.2,291.9 409.2,290.8 411.2,289.7 414.2,287.3 417.6,283.3 420.9,280.4 422.8,278.4 425.5,274.4ZM512.4,274.4 514.0,274.4 514.5,281.4 515.0,283.3 515.5,284.3 524.0,294.3 530.9,305.2 534.0,308.5 536.0,309.9 538.0,310.9 538.0,312.5 536.0,311.5 534.0,310.2 530.7,307.2 528.3,304.2 521.6,294.3 513.4,285.3 512.8,284.3 512.4,282.3ZM455.0,309.1 457.1,308.2 459.1,307.7 462.1,307.2 466.1,306.9 472.1,307.0 475.1,307.5 478.0,308.2 481.1,309.4 482.4,310.1 486.1,313.2 496.1,318.1 499.1,319.9 502.0,322.1 505.3,325.0 506.7,327.0 507.5,330.0 507.7,334.0 507.6,337.9 506.7,340.9 504.7,343.9 502.4,345.9 501.1,346.7 499.1,347.5 495.1,348.3 489.1,348.7 484.1,348.4 480.1,347.3 477.1,345.9 472.1,342.0 469.1,339.9 466.1,337.1 462.0,331.0 460.1,329.4 456.1,327.0 454.1,325.5 452.8,324.0 451.6,322.1 451.0,320.1 450.9,318.1 451.4,314.1 452.7,311.1 453.6,310.1ZM459.1,312.5 457.3,314.1 456.4,316.1 456.2,319.1 456.8,321.1 458.1,323.0 459.1,323.9 463.1,326.2 465.5,328.0 467.0,330.0 469.3,334.0 471.3,336.0 476.1,339.1 481.1,343.1 483.1,344.3 485.1,345.0 489.1,345.5 494.1,345.4 497.6,344.9 500.1,343.8 501.9,341.9 502.9,339.9 503.3,337.9 503.2,335.0 502.5,332.0 501.3,329.0 500.0,327.0 498.1,325.0 495.0,323.0 483.1,317.6 481.1,316.2 477.1,312.7 474.1,311.1 471.1,310.4 467.1,310.4 462.5,311.1 460.1,311.9ZM406.2,356.5 413.2,358.3 420.2,361.0 428.7,362.8 431.2,363.5 433.2,364.6 437.1,367.7 443.1,371.7 435.5,371.7 433.2,370.1 430.2,367.2 427.9,365.7 425.2,364.6 419.2,362.8 413.2,360.2 406.2,358.2Z"/>
<path fill="#698ca3" stroke="#698ca3" stroke-width="0.6" fill-rule="evenodd" d="M429.4,274.4 427.6,277.4 426.1,279.4 424.1,281.4 420.2,284.5 417.2,288.5 415.6,290.3 414.2,291.3 412.2,292.4 406.2,294.6 406.2,293.2 411.1,291.3 414.2,289.3 416.1,287.3 419.2,283.4 421.8,281.4 423.9,279.4 425.5,277.4 427.4,274.4ZM510.9,274.4 512.4,274.4 512.4,282.3 512.8,284.3 513.4,285.3 521.6,294.3 528.3,304.2 530.7,307.2 534.0,310.2 536.0,311.5 538.0,312.5 538.0,314.2 534.0,312.1 532.0,310.5 530.0,308.6 526.4,304.2 519.8,295.2 511.7,286.3 511.0,285.1 510.6,283.3ZM450.1,306.4 453.1,305.3 456.1,304.8 460.1,304.4 466.1,304.2 473.1,304.4 481.1,305.5 484.1,306.1 486.3,307.2 497.1,314.4 509.0,323.0 510.1,324.0 510.7,325.0 511.3,327.0 511.4,330.0 511.0,338.9 510.5,340.9 509.6,342.9 508.0,344.9 505.1,347.5 502.1,349.2 499.1,350.2 494.1,351.1 488.1,351.5 483.1,351.2 478.1,350.5 475.1,349.6 472.1,347.9 463.1,340.8 461.7,338.9 459.2,334.0 458.4,333.0 457.0,332.0 453.1,329.9 451.1,328.6 449.4,327.0 447.9,325.0 447.1,323.0 446.6,321.1 446.7,316.1 447.3,311.1 447.8,309.1 449.0,307.2ZM455.0,309.1 453.6,310.1 452.7,311.1 451.4,314.1 450.9,318.1 451.0,320.1 451.6,322.1 452.8,324.0 454.1,325.5 456.1,327.0 460.1,329.4 462.0,331.0 466.1,337.1 469.1,339.9 472.1,342.0 477.1,345.9 480.1,347.3 484.1,348.4 489.1,348.7 495.1,348.3 499.1,347.5 501.1,346.7 502.4,345.9 504.7,343.9 506.7,340.9 507.6,337.9 507.7,334.0 507.5,330.0 506.7,327.0 505.3,325.0 502.0,322.1 499.1,319.9 496.1,318.1 486.1,313.2 482.4,310.1 481.1,309.4 478.0,308.2 475.1,307.5 472.1,307.0 466.1,306.9 462.1,307.2 459.1,307.7 457.1,308.2ZM406.2,354.8 415.2,356.5 422.2,358.5 430.2,359.8 433.2,360.5 435.6,361.8 443.1,366.8 446.1,369.6 447.5,371.7 443.1,371.7 437.1,367.7 433.2,364.6 431.8,363.8 428.7,362.8 420.2,361.0 413.2,358.3 406.2,356.5Z"/>
<path fill="#5d839d" stroke="#5d839d" stroke-width="0.6" fill-rule="evenodd" d="M431.5,274.4 429.9,277.4 428.2,279.8 426.2,281.9 421.3,286.3 417.6,291.3 416.3,292.3 414.2,293.4 406.2,296.0 406.2,294.6 412.2,292.4 414.2,291.3 415.6,290.3 417.2,288.5 420.2,284.5 424.1,281.4 426.1,279.4 427.6,277.4 429.4,274.4ZM509.6,274.4 510.9,274.4 510.6,283.3 511.0,285.1 511.7,286.3 519.8,295.2 526.4,304.2 530.0,308.6 532.0,310.5 534.0,312.1 538.0,314.2 538.0,316.2 535.0,314.8 533.0,313.5 529.3,310.1 524.1,304.2 516.3,294.3 511.7,289.3 510.2,287.3 509.3,285.3 509.0,283.3ZM445.7,303.2 447.1,302.6 450.1,302.1 461.1,301.7 472.1,302.1 485.1,303.3 487.1,304.1 489.1,305.2 495.5,309.1 499.1,311.7 505.4,317.1 512.0,321.5 513.4,323.0 514.0,324.0 514.7,327.0 514.8,330.0 514.0,339.9 513.1,342.9 512.0,344.9 509.2,347.9 506.0,350.4 504.1,351.5 502.1,352.3 499.1,353.0 494.1,353.7 490.1,354.0 485.1,354.1 476.1,353.5 473.1,352.9 471.1,352.1 465.1,347.4 460.0,343.9 458.0,341.9 455.7,337.9 454.1,336.0 452.1,334.4 448.1,331.9 446.1,330.1 444.8,328.0 443.9,326.0 443.0,323.0 442.6,320.1 442.6,310.1 443.3,306.2 444.5,304.2ZM450.1,306.4 449.0,307.2 447.8,309.1 447.3,311.1 446.7,316.1 446.6,321.1 447.1,323.0 447.9,325.0 449.4,327.0 451.1,328.6 453.1,329.9 457.0,332.0 458.4,333.0 459.2,334.0 461.7,338.9 463.1,340.8 472.1,347.9 475.1,349.6 478.1,350.5 483.1,351.2 488.1,351.5 494.1,351.1 499.1,350.2 502.1,349.2 505.1,347.5 508.0,344.9 509.6,342.9 510.5,340.9 511.0,338.9 511.4,330.0 511.3,327.0 510.7,325.0 510.1,324.0 509.0,323.0 497.1,314.4 486.3,307.2 484.1,306.1 481.1,305.5 473.1,304.4 466.1,304.2 460.1,304.4 456.1,304.8 453.1,305.3ZM406.2,353.1 411.2,353.7 418.2,353.9 420.2,354.2 432.2,357.2 436.2,358.6 442.1,361.7 445.1,363.8 448.1,367.1 450.5,371.7 447.5,371.7 446.1,369.6 443.1,366.8 437.2,362.8 433.7,360.8 431.2,360.0 422.2,358.5 415.2,356.5 406.2,354.8Z"/>
<path fill="#517a97" stroke="#517a97" stroke-width="0.6" fill-rule="evenodd" d="M433.7,274.4 431.8,278.4 430.4,280.4 424.3,287.3 421.5,291.3 419.7,293.3 418.2,294.1 416.2,294.8 406.2,297.6 406.2,296.0 413.2,293.8 415.2,292.9 417.2,291.6 418.5,290.3 421.3,286.3 426.2,281.9 428.2,279.8 429.9,277.4 431.5,274.4ZM508.4,274.4 509.6,274.4 509.0,283.3 509.3,285.3 510.2,287.3 511.7,289.3 516.3,294.3 524.1,304.2 529.3,310.1 533.0,313.5 535.0,314.8 538.0,316.2 538.0,318.4 534.0,316.6 532.0,315.3 530.0,313.5 519.5,302.2 513.5,294.3 509.2,289.3 508.0,287.0 507.5,284.3 507.5,282.3ZM442.1,301.0 444.1,300.0 446.1,299.5 451.1,299.1 467.1,299.6 484.1,301.1 487.1,301.8 490.8,303.2 497.0,306.2 500.1,308.3 507.1,315.1 509.0,316.6 514.0,319.9 515.4,321.1 516.9,323.0 517.9,326.0 517.9,329.0 517.0,338.9 515.9,343.9 515.0,345.9 513.6,347.9 507.0,354.0 505.1,355.0 503.1,355.6 494.1,356.6 479.1,356.8 474.1,356.3 471.1,355.6 468.1,354.1 462.1,349.4 457.2,345.9 455.2,343.9 451.1,338.9 449.1,337.3 445.1,334.8 443.2,333.0 441.8,331.0 440.6,328.0 439.7,324.0 438.9,319.1 438.3,314.1 438.3,310.1 438.7,307.2 439.6,304.2 440.8,302.2ZM445.1,303.5 444.1,304.6 443.3,306.2 442.6,310.1 442.6,320.1 443.0,323.0 443.9,326.0 444.8,328.0 446.1,330.1 448.1,331.9 452.1,334.4 454.1,336.0 455.7,337.9 458.0,341.9 460.0,343.9 465.1,347.4 471.1,352.1 473.1,352.9 476.1,353.5 485.1,354.1 490.1,354.0 494.1,353.7 499.1,353.0 502.1,352.3 504.1,351.5 506.0,350.4 509.2,347.9 512.0,344.9 513.1,342.9 514.0,339.9 514.8,330.0 514.7,327.0 514.3,325.0 513.4,323.0 511.4,321.1 505.4,317.1 499.1,311.7 495.5,309.1 489.1,305.2 487.1,304.1 485.1,303.3 472.1,302.1 460.1,301.7 454.1,301.9 449.4,302.2 447.1,302.6ZM406.2,351.4 412.2,351.7 419.2,350.8 422.2,350.9 426.2,351.8 439.2,356.5 445.1,359.5 448.2,361.8 449.9,363.8 451.1,365.7 453.5,371.7 450.5,371.7 448.1,367.1 445.1,363.8 442.1,361.7 436.2,358.6 432.2,357.2 420.2,354.2 418.2,353.9 411.2,353.7 406.2,353.1Z"/>
<path fill="#467292" stroke="#467292" stroke-width="0.6" fill-rule="evenodd" d="M436.0,274.4 433.8,279.4 430.0,285.3 426.9,291.3 425.4,293.3 424.3,294.3 422.8,295.2 420.2,296.3 410.2,298.2 406.2,299.2 406.2,297.6 416.2,294.8 418.2,294.1 419.7,293.3 421.5,291.3 424.3,287.3 430.4,280.4 431.8,278.4 433.7,274.4ZM507.1,274.4 508.4,274.4 507.5,282.3 507.5,284.3 508.0,287.0 509.2,289.3 513.5,294.3 519.5,302.2 530.0,313.5 532.0,315.3 534.0,316.6 538.0,318.4 538.0,320.8 533.0,319.2 530.0,317.4 525.0,311.3 516.0,303.2 513.5,300.2 510.8,295.2 507.3,290.3 506.1,287.3 505.8,285.3 505.8,283.3ZM438.2,298.3 440.1,297.4 442.1,296.9 445.1,296.6 449.1,296.5 465.1,297.3 479.1,298.7 487.1,299.8 492.2,301.2 499.1,303.5 501.1,304.5 503.5,306.2 505.4,308.2 508.3,312.1 510.0,314.1 511.4,315.1 516.6,318.1 519.1,320.1 520.8,322.1 521.6,324.0 521.6,326.0 520.4,333.0 519.5,340.9 518.4,345.9 516.6,349.9 513.8,353.8 511.6,357.8 510.0,359.3 509.0,359.8 507.0,360.1 499.1,359.7 492.1,360.1 485.1,359.8 478.1,360.4 475.1,360.1 468.1,358.4 466.1,357.6 464.1,356.4 459.2,351.8 456.1,349.9 454.1,348.4 452.1,346.2 449.1,342.4 447.6,340.9 446.1,339.9 442.1,337.9 440.6,337.0 438.9,335.0 438.2,333.3 437.5,331.0 434.3,312.1 434.5,307.2 435.4,302.2 436.2,300.2 436.9,299.2ZM442.1,301.0 440.8,302.2 439.6,304.2 438.7,307.2 438.3,310.1 438.3,314.1 438.9,319.1 439.7,324.0 440.6,328.0 441.8,331.0 443.2,333.0 445.1,334.8 449.1,337.3 451.1,338.9 455.2,343.9 457.2,345.9 462.1,349.4 468.1,354.1 471.1,355.6 474.1,356.3 479.1,356.8 494.1,356.6 503.1,355.6 505.1,355.0 507.0,354.0 513.6,347.9 515.0,345.9 515.9,343.9 517.0,338.9 517.9,329.0 517.9,326.0 516.9,323.0 515.4,321.1 514.0,319.9 509.0,316.6 507.1,315.1 500.1,308.3 497.0,306.2 490.8,303.2 487.1,301.8 484.1,301.1 467.1,299.6 451.1,299.1 446.1,299.5 444.1,300.0ZM406.2,349.8 409.2,349.9 412.2,349.6 420.2,347.8 424.2,347.3 428.2,347.5 431.2,348.4 434.0,349.9 448.1,356.4 450.1,357.6 451.6,358.8 453.4,360.8 454.5,362.8 456.8,371.7 453.5,371.7 451.1,365.7 449.9,363.8 448.2,361.8 445.1,359.5 439.2,356.5 426.2,351.8 423.2,351.0 420.2,350.7 413.2,351.6 408.2,351.6 406.2,351.4Z"/>
<path fill="#3c6a8c" stroke="#3c6a8c" stroke-width="0.6" fill-rule="evenodd" d="M436.0,274.4 438.5,274.4 434.5,284.3 434.1,287.3 434.7,289.3 435.4,290.3 436.4,291.3 438.3,292.3 441.1,293.0 444.1,293.4 465.1,295.0 477.1,296.4 497.1,299.7 502.1,300.1 504.1,299.8 505.1,299.4 505.9,298.2 506.2,297.2 506.0,295.2 504.1,288.3 503.9,285.3 505.9,274.4 507.1,274.4 505.8,283.3 505.8,285.3 506.1,287.3 507.3,290.3 510.8,295.2 513.5,300.2 516.0,303.2 525.0,311.3 530.0,317.4 533.0,319.2 538.0,320.8 538.0,323.3 532.0,323.0 530.0,323.2 529.0,323.6 527.0,325.3 525.0,328.3 524.0,330.5 523.3,333.0 521.8,343.9 520.1,350.8 517.3,357.8 516.2,359.8 514.7,361.8 513.7,362.8 512.1,363.8 510.0,364.5 507.0,365.0 499.1,365.7 496.1,366.7 494.6,367.7 493.7,368.7 492.2,371.7 456.8,371.7 454.5,362.8 453.4,360.8 451.6,358.8 450.1,357.6 448.1,356.4 434.0,349.9 431.2,348.4 428.2,347.5 424.2,347.3 420.2,347.8 412.2,349.6 409.2,349.9 406.2,349.8 406.2,348.3 410.2,348.0 414.2,347.1 422.5,343.9 426.2,342.2 428.1,340.9 430.4,338.9 431.8,337.0 432.3,336.0 432.9,334.0 433.1,332.0 433.0,324.0 430.8,313.1 430.0,305.2 429.0,302.2 428.2,301.2 427.2,300.4 426.2,299.9 424.2,299.4 420.2,299.2 415.2,299.5 410.2,300.1 406.2,300.9 406.2,299.2 410.2,298.2 420.2,296.3 422.8,295.2 424.3,294.3 425.4,293.3 426.9,291.3 430.0,285.3 433.8,279.4ZM438.2,298.3 436.9,299.2 436.2,300.2 435.4,302.2 434.5,307.2 434.3,312.1 437.5,331.0 438.2,333.3 438.9,335.0 440.6,337.0 442.1,337.9 446.1,339.9 447.6,340.9 449.1,342.4 452.1,346.2 454.1,348.4 456.1,349.9 459.2,351.8 464.1,356.4 466.1,357.6 468.1,358.4 475.1,360.1 478.1,360.4 485.1,359.8 492.1,360.1 499.1,359.7 507.0,360.1 509.0,359.8 510.0,359.3 511.6,357.8 513.8,353.8 516.6,349.9 518.4,345.9 519.5,340.9 520.4,333.0 521.6,326.0 521.6,324.0 520.8,322.1 519.1,320.1 516.6,318.1 511.4,315.1 510.0,314.1 508.3,312.1 505.4,308.2 503.5,306.2 501.1,304.5 499.1,303.5 492.2,301.2 487.1,299.8 479.1,298.7 465.1,297.3 449.1,296.5 445.1,296.6 442.1,296.9 440.1,297.4Z"/>
<path fill="#427086" stroke="#427086" stroke-width="0.6" fill-rule="evenodd" d="M438.5,274.4 441.1,274.4 439.7,278.4 438.9,281.4 438.7,283.3 438.9,285.3 440.1,287.5 441.1,288.4 443.1,289.5 445.1,290.2 448.1,290.8 467.1,292.7 472.1,293.6 478.1,294.3 485.1,295.8 496.1,296.5 498.1,296.3 499.1,296.1 500.4,295.2 501.1,294.3 501.6,292.3 501.5,288.3 501.8,285.3 503.9,278.4 504.7,274.4 505.9,274.4 504.2,283.3 503.9,286.3 504.3,289.3 506.0,295.2 506.2,297.2 505.9,298.2 505.2,299.2 504.1,299.8 502.1,300.1 500.1,300.0 496.1,299.5 477.1,296.4 465.1,295.0 444.1,293.4 441.1,293.0 438.3,292.3 436.4,291.3 435.2,290.0 434.3,288.3 434.1,286.3 434.5,284.3ZM425.2,299.6 426.9,300.2 428.2,301.2 429.5,303.2 430.0,305.2 430.8,313.1 432.7,322.1 433.1,325.0 433.1,332.0 432.9,334.0 432.3,336.0 431.2,337.9 429.3,339.9 427.2,341.6 424.8,342.9 417.6,345.9 413.2,347.4 410.2,348.0 406.2,348.3 406.2,346.7 409.2,346.4 411.2,346.0 415.2,344.5 418.2,342.9 421.4,340.9 424.9,337.9 427.2,335.0 428.6,332.0 429.4,329.0 429.6,325.0 429.1,320.1 426.9,310.1 425.9,307.2 424.2,304.5 422.6,303.2 421.2,302.5 418.2,301.9 415.2,301.7 412.2,301.8 406.2,302.7 406.2,300.9 411.2,299.9 416.2,299.4 422.1,299.2ZM538.0,323.3 538.0,325.9 534.0,326.5 531.0,327.7 529.0,329.3 527.0,332.0 526.1,334.0 525.6,336.0 523.4,348.9 522.0,354.4 519.9,359.8 518.6,361.8 517.0,363.7 514.0,366.0 505.6,369.7 502.7,371.7 492.2,371.7 493.7,368.7 494.6,367.7 496.1,366.7 499.1,365.7 507.0,365.0 510.0,364.5 512.1,363.8 513.7,362.8 514.7,361.8 516.2,359.8 517.3,357.8 520.0,350.9 521.8,343.9 523.3,333.0 524.2,330.0 525.8,327.0 528.0,324.3 529.0,323.6 530.0,323.2 533.0,322.9Z"/>
<path fill="#477681" stroke="#477681" stroke-width="0.6" fill-rule="evenodd" d="M441.1,274.4 444.1,274.4 442.5,279.4 442.5,282.3 443.1,284.2 444.0,285.3 446.1,286.8 448.1,287.5 452.1,288.3 467.1,289.8 476.1,291.2 480.1,292.0 484.1,293.3 486.1,293.6 491.1,293.3 494.1,292.9 495.9,292.3 497.0,291.3 497.9,289.3 499.3,285.3 502.1,279.4 503.5,274.4 504.7,274.4 503.9,278.4 501.8,285.3 501.5,288.3 501.6,292.3 501.1,294.4 500.4,295.2 499.1,296.1 497.1,296.5 486.1,295.9 477.1,294.1 472.1,293.6 465.1,292.5 449.1,290.9 446.1,290.4 444.1,289.9 442.6,289.3 441.0,288.3 440.0,287.3 438.9,285.3 438.7,283.3 438.9,281.4 439.7,278.4ZM419.2,302.0 422.2,303.0 423.9,304.2 425.4,306.2 426.3,308.2 428.7,318.1 429.5,323.0 429.6,327.0 428.9,331.0 427.8,334.0 426.6,336.0 423.9,338.9 421.4,340.9 417.2,343.5 413.2,345.3 410.2,346.2 406.2,346.7 406.2,345.1 409.2,344.6 413.2,343.2 416.2,341.5 419.4,338.9 421.4,337.0 423.0,335.0 424.7,332.0 425.5,330.0 426.0,328.0 426.3,325.0 426.2,322.1 425.8,319.1 424.8,315.1 423.5,311.1 422.6,309.1 421.3,307.2 419.2,305.4 416.2,304.4 414.2,304.1 411.2,304.0 406.2,304.5 406.2,302.7 413.2,301.8 416.2,301.7ZM538.0,325.9 538.0,328.6 535.0,329.5 532.4,331.0 530.4,333.0 529.0,335.3 527.8,338.9 525.1,351.8 524.0,355.7 522.1,360.8 520.2,363.8 518.0,366.1 516.0,367.7 509.0,371.7 502.7,371.7 505.6,369.7 512.0,367.0 514.4,365.7 516.9,363.8 518.6,361.8 520.8,357.8 522.8,351.8 525.6,336.0 526.1,334.0 527.0,332.0 529.0,329.3 531.0,327.7 534.0,326.5Z"/>
<path fill="#4e7e7a" stroke="#4e7e7a" stroke-width="0.6" fill-rule="evenodd" d="M442.5,282.3 442.5,279.4 444.1,274.4 447.4,274.4 446.3,278.4 446.3,280.4 447.3,282.3 448.5,283.3 450.7,284.3 454.1,285.2 462.1,286.3 472.1,287.1 485.1,289.3 487.1,289.5 489.1,289.4 492.1,288.6 494.1,287.4 495.1,286.5 500.1,280.2 501.4,277.4 502.2,274.4 503.5,274.4 502.1,279.4 499.3,285.3 497.9,289.3 497.1,291.2 496.1,292.2 495.1,292.6 492.1,293.2 487.1,293.6 485.1,293.5 479.1,291.8 475.1,291.0 468.1,290.0 453.1,288.4 449.1,287.8 446.1,286.8 444.1,285.5 443.1,284.2ZM415.1,304.2 418.2,304.9 420.2,306.0 422.1,308.2 423.1,310.1 424.8,315.1 425.9,320.1 426.3,324.0 426.0,328.0 425.1,331.0 423.6,334.0 421.4,337.0 419.4,338.9 416.2,341.5 413.2,343.2 409.2,344.6 406.2,345.1 406.2,343.4 409.2,342.8 412.2,341.5 414.6,339.9 417.2,337.7 418.8,336.0 420.8,333.0 421.8,331.0 422.8,328.0 423.3,324.0 422.9,319.1 421.3,314.1 419.2,310.1 417.2,308.1 415.6,307.2 414.2,306.7 412.2,306.3 410.2,306.1 406.2,306.3 406.2,304.5 411.2,304.0ZM538.0,328.6 538.0,331.3 536.0,332.3 533.8,334.0 532.0,336.1 530.5,338.9 529.0,343.6 526.8,352.8 525.0,358.8 524.0,361.6 522.8,363.8 521.0,366.1 519.0,368.2 517.0,369.9 514.3,371.7 509.0,371.7 515.0,368.3 517.0,366.9 519.0,365.1 521.0,362.7 523.0,358.8 524.6,353.8 527.8,338.9 529.2,335.0 530.4,333.0 532.4,331.0 535.0,329.5Z"/>
<path fill="#558574" stroke="#558574" stroke-width="0.6" fill-rule="evenodd" d="M446.3,280.4 446.3,278.4 447.4,274.4 451.3,274.4 451.3,277.4 452.2,279.4 454.1,280.9 457.1,282.1 464.1,283.5 472.1,283.9 478.1,284.8 481.1,284.8 485.1,284.5 488.1,284.8 490.1,284.8 491.1,284.6 493.1,283.9 496.1,281.9 498.1,280.0 499.1,278.7 500.2,276.4 500.8,274.4 502.2,274.4 501.4,277.4 500.1,280.2 495.1,286.5 494.1,287.4 492.1,288.6 489.1,289.4 487.1,289.5 485.1,289.3 472.1,287.1 463.1,286.4 453.1,285.0 450.7,284.3 448.5,283.3 447.1,282.1ZM411.2,306.2 414.2,306.7 416.2,307.5 418.2,308.9 419.9,311.1 421.7,315.1 422.6,318.1 423.3,322.1 423.2,326.0 422.6,329.0 421.3,332.0 419.5,335.0 417.2,337.7 414.6,339.9 412.2,341.5 409.2,342.8 406.2,343.4 406.2,341.5 408.6,340.9 411.2,339.7 413.7,337.9 416.2,335.4 417.9,333.0 419.0,331.0 419.8,329.0 420.5,326.0 420.6,322.1 419.9,318.1 418.8,315.1 417.0,312.1 415.2,310.3 413.2,309.1 410.2,308.3 406.2,308.2 406.2,306.3 409.2,306.1ZM538.0,331.3 538.0,334.3 536.0,335.8 534.8,337.0 533.4,338.9 531.9,341.9 530.5,345.9 526.1,360.8 524.3,364.8 522.0,368.0 518.4,371.7 514.3,371.7 517.0,369.9 519.5,367.7 522.0,364.9 523.4,362.8 525.0,358.8 526.8,352.8 529.2,342.9 530.9,337.9 532.1,336.0 533.8,334.0 536.0,332.3Z"/>
<path fill="#5e8f6b" stroke="#5e8f6b" stroke-width="0.6" fill-rule="evenodd" d="M451.2,276.4 451.3,274.4 456.1,274.4 456.8,276.4 458.4,278.4 460.3,279.4 464.1,280.4 468.1,281.0 478.1,282.0 485.1,281.8 489.1,281.8 492.1,281.4 495.1,280.0 497.0,278.4 497.9,277.4 499.0,275.4 499.3,274.4 500.8,274.4 500.2,276.4 499.3,278.4 497.1,281.0 495.1,282.7 493.1,283.9 491.1,284.6 489.1,284.8 485.1,284.5 481.1,284.8 478.1,284.8 472.1,283.9 464.1,283.5 458.1,282.4 455.1,281.4 453.1,280.3 452.2,279.4 451.6,278.4ZM408.2,308.1 411.2,308.5 413.3,309.1 415.2,310.3 417.2,312.3 418.8,315.1 419.9,318.1 420.5,321.1 420.6,325.0 420.1,328.0 419.4,330.0 417.9,333.0 415.7,336.0 413.7,337.9 411.2,339.7 408.6,340.9 406.2,341.5 406.2,339.3 408.2,338.8 411.2,337.1 413.2,335.4 415.2,333.0 417.3,329.0 418.2,325.0 417.9,320.1 417.4,318.1 416.2,315.5 414.4,313.1 412.2,311.4 409.2,310.4 406.2,310.2 406.2,308.2ZM538.0,334.3 538.0,337.5 536.5,338.9 535.0,340.9 533.0,344.6 531.4,348.9 527.7,360.8 526.0,364.8 524.0,368.3 521.4,371.7 518.4,371.7 522.0,368.0 525.0,363.4 526.5,359.8 530.5,345.9 532.0,341.6 533.4,338.9 534.8,337.0 536.0,335.8Z"/>
<path fill="#689962" stroke="#689962" stroke-width="0.6" fill-rule="evenodd" d="M456.1,274.4 461.8,274.4 462.6,275.4 463.9,276.4 465.9,277.4 468.1,278.1 473.1,279.1 480.1,279.6 488.1,279.4 491.1,279.0 493.1,278.4 495.1,277.2 496.1,276.3 497.3,274.4 499.3,274.4 498.5,276.4 497.1,278.3 495.1,280.0 493.1,281.0 490.1,281.8 485.1,281.8 479.1,282.0 476.1,281.9 467.1,280.9 464.1,280.4 460.3,279.4 458.4,278.4 457.4,277.4 456.8,276.4ZM409.2,310.4 411.6,311.1 413.3,312.1 415.2,314.0 416.5,316.1 417.7,319.1 418.1,321.1 418.2,324.0 417.9,327.0 417.3,329.0 415.8,332.0 414.5,334.0 412.6,336.0 410.2,337.8 408.2,338.8 406.2,339.3 406.2,336.9 408.2,336.2 410.3,335.0 412.2,333.2 413.9,331.0 415.3,328.0 416.0,324.0 415.6,320.1 414.2,316.8 412.9,315.1 411.2,313.7 409.2,312.7 406.2,312.2 406.2,310.2ZM538.0,337.5 538.0,340.8 535.7,343.9 533.6,347.9 532.0,352.1 528.8,361.8 527.0,366.1 523.8,371.7 521.4,371.7 524.4,367.7 527.0,362.8 531.4,348.9 533.3,343.9 535.7,339.9Z"/>
<path fill="#70a25a" stroke="#70a25a" stroke-width="0.6" fill-rule="evenodd" d="M461.8,274.4 468.2,274.4 470.1,275.5 473.1,276.4 478.1,277.0 484.1,277.3 487.1,277.1 490.1,276.6 492.1,275.9 494.1,274.4 497.3,274.4 496.1,276.3 494.1,277.9 492.1,278.8 489.0,279.4 480.1,279.6 473.1,279.1 468.1,278.1 465.9,277.4 463.9,276.4 462.6,275.4ZM406.2,312.2 408.2,312.5 410.2,313.1 411.8,314.1 413.2,315.4 414.4,317.1 415.3,319.1 416.0,323.0 415.8,326.0 415.3,328.0 414.4,330.0 413.2,332.0 411.4,334.0 410.2,335.0 408.2,336.2 406.2,336.9 406.2,334.2 408.2,333.4 409.2,332.7 411.2,330.8 412.9,328.0 413.5,326.0 413.8,324.0 413.5,321.1 412.2,318.1 411.2,316.8 409.2,315.3 408.2,314.9 406.2,314.5ZM538.0,340.8 538.0,344.2 536.0,347.2 534.0,351.2 528.0,367.3 525.8,371.7 523.8,371.7 526.0,368.0 528.0,363.8 532.0,352.1 534.0,347.1 536.0,343.4Z"/>
<path fill="#79aa52" stroke="#79aa52" stroke-width="0.6" fill-rule="evenodd" d="M468.2,274.4 480.7,274.4 485.1,274.7 487.1,274.4 494.1,274.4 492.1,275.9 490.1,276.6 487.1,277.1 484.1,277.3 478.1,277.0 473.1,276.4 470.1,275.5ZM406.2,314.5 408.2,314.9 409.2,315.3 411.5,317.1 412.2,318.1 413.2,320.1 413.7,322.1 413.8,324.0 413.5,326.0 412.9,328.0 411.2,330.8 409.2,332.7 408.2,333.4 406.2,334.2 406.2,331.2 408.2,330.1 410.1,328.0 411.0,326.0 411.4,324.0 411.2,321.8 410.2,319.6 409.2,318.4 408.2,317.7 406.2,317.0ZM538.0,344.2 538.0,347.5 536.0,350.8 534.6,353.8 528.9,368.7 527.5,371.7 525.8,371.7 529.0,365.0 534.2,350.8 536.0,347.2Z"/>
<path fill="#80b24a" stroke="#80b24a" stroke-width="0.6" fill-rule="evenodd" d="M480.7,274.4 487.1,274.4 485.1,274.7ZM406.2,317.0 408.2,317.7 409.2,318.4 410.2,319.6 411.2,321.8 411.4,324.0 411.0,326.0 410.1,328.0 408.2,330.1 406.2,331.2 406.2,327.5 407.2,326.8 407.8,326.0 408.5,324.0 408.2,321.9 407.2,320.7 406.2,320.2ZM538.0,347.5 538.0,350.7 534.8,356.8 529.2,371.7 527.5,371.7 530.0,366.0 534.6,353.8 536.0,350.8Z"/>
<path fill="#88ba43" stroke="#88ba43" stroke-width="0.6" fill-rule="evenodd" d="M406.2,320.2 407.2,320.7 408.2,321.9 408.5,324.0 407.8,326.0 407.2,326.8 406.2,327.5ZM538.0,350.7 538.0,353.9 535.0,360.0 530.7,371.7 529.2,371.7 534.8,356.8Z"/>
<path fill="#8dc03e" stroke="#8dc03e" stroke-width="0.6" fill-rule="evenodd" d="M538.0,353.9 538.0,357.1 535.7,361.8 532.3,371.7 530.7,371.7 535.0,360.0Z"/>
<path fill="#92c539" stroke="#92c539" stroke-width="0.6" fill-rule="evenodd" d="M538.0,357.1 538.0,360.3 536.9,362.8 533.9,371.7 532.3,371.7 535.7,361.8Z"/>
<path fill="#96c936" stroke="#96c936" stroke-width="0.6" fill-rule="evenodd" d="M538.0,360.3 538.0,364.1 535.4,371.7 533.9,371.7 536.9,362.8Z"/>
<path fill="#9acd32" stroke="#9acd32" stroke-width="0.6" fill-rule="evenodd" d="M538.0,364.1 538.0,369.0 537.1,371.7 535.4,371.7Z"/>
<path fill="#9ed12f" stroke="#9ed12f" stroke-width="0.6" fill-rule="evenodd" d="M538.0,369.0 538.0,371.7 537.1,371.7Z"/>
</g>
<rect x="406.2" y="274.4" width="131.8" height="97.3" fill="none" stroke="#222" stroke-width="1"/>
<path d="M406.2,371.7v5.2M406.2,371.7h-5.5M432.6,371.7v5.2M406.2,352.2h-5.5M458.9,371.7v5.2M406.2,332.8h-5.5M485.3,371.7v5.2M406.2,313.3h-5.5M511.6,371.7v5.2M406.2,293.9h-5.5M538.0,371.7v5.2M406.2,274.4h-5.5" stroke="#222" stroke-width="1" fill="none"/>
<text class="tk" x="405.2" y="389.8" text-anchor="middle">0.0</text>
<text class="tk" x="395.7" y="376.8" text-anchor="end">0.0</text>
<text class="tk" x="431.6" y="389.8" text-anchor="middle">0.2</text>
<text class="tk" x="395.7" y="357.3" text-anchor="end">0.2</text>
<text class="tk" x="457.9" y="389.8" text-anchor="middle">0.4</text>
<text class="tk" x="395.7" y="337.9" text-anchor="end">0.4</text>
<text class="tk" x="484.3" y="389.8" text-anchor="middle">0.6</text>
<text class="tk" x="395.7" y="318.4" text-anchor="end">0.6</text>
<text class="tk" x="510.6" y="389.8" text-anchor="middle">0.8</text>
<text class="tk" x="395.7" y="299.0" text-anchor="end">0.8</text>
<text class="tk" x="537.0" y="389.8" text-anchor="middle">1.0</text>
<text class="tk" x="395.7" y="279.5" text-anchor="end">1.0</text>
<text class="xl" x="471.8" y="401.2" text-anchor="middle">u (LST)</text>
<text class="xl" transform="translate(375.5,324.0) rotate(-90)" text-anchor="middle">v (WB ET)</text>
<text class="pl b" x="408.2" y="283.0">(g)</text>
</g>
<rect x="125.8" y="349.45" width="16.3" height="8.85" fill="#fffff0" stroke="#1a1a1a" stroke-width="0.8"/>
<rect x="125.8" y="340.60" width="16.3" height="8.85" fill="#fffff0" stroke="#1a1a1a" stroke-width="0.8"/>
<rect x="125.8" y="331.75" width="16.3" height="8.85" fill="#fffff0" stroke="#1a1a1a" stroke-width="0.8"/>
<rect x="125.8" y="322.90" width="16.3" height="8.85" fill="#b4c7d3" stroke="#1a1a1a" stroke-width="0.8"/>
<rect x="125.8" y="314.05" width="16.3" height="8.85" fill="#4a7cab" stroke="#1a1a1a" stroke-width="0.8"/>
<rect x="125.8" y="305.20" width="16.3" height="8.85" fill="#5f9478" stroke="#1a1a1a" stroke-width="0.8"/>
<rect x="125.8" y="296.35" width="16.3" height="8.85" fill="#8cc63c" stroke="#1a1a1a" stroke-width="0.8"/>
<rect x="125.8" y="287.50" width="16.3" height="8.85" fill="#98d032" stroke="#1a1a1a" stroke-width="0.8"/>
<rect x="125.8" y="278.65" width="16.3" height="8.85" fill="#9ad236" stroke="#1a1a1a" stroke-width="0.8"/>
<rect x="125.8" y="269.80" width="16.3" height="8.85" fill="#a2d630" stroke="#1a1a1a" stroke-width="0.8"/>
<rect x="125.8" y="260.95" width="16.3" height="8.85" fill="#b4d826" stroke="#1a1a1a" stroke-width="0.8"/>
<rect x="125.8" y="252.10" width="16.3" height="8.85" fill="#d2d618" stroke="#1a1a1a" stroke-width="0.8"/>
<rect x="125.8" y="243.25" width="16.3" height="8.85" fill="#ebc80e" stroke="#1a1a1a" stroke-width="0.8"/>
<rect x="125.8" y="234.40" width="16.3" height="8.85" fill="#fbb408" stroke="#1a1a1a" stroke-width="0.8"/>
<rect x="125.8" y="225.55" width="16.3" height="8.85" fill="#ffa500" stroke="#1a1a1a" stroke-width="0.8"/>
<rect x="125.8" y="216.70" width="16.3" height="8.85" fill="#fb9a0a" stroke="#1a1a1a" stroke-width="0.8"/>
<rect x="125.8" y="207.85" width="16.3" height="8.85" fill="#e3500e" stroke="#1a1a1a" stroke-width="0.8"/>
<rect x="125.8" y="199.00" width="16.3" height="8.85" fill="#d40e0e" stroke="#1a1a1a" stroke-width="0.8"/>
<rect x="125.8" y="190.15" width="16.3" height="8.85" fill="#b50a0a" stroke="#1a1a1a" stroke-width="0.8"/>
<rect x="125.8" y="181.30" width="16.3" height="8.85" fill="#a20808" stroke="#1a1a1a" stroke-width="0.8"/>
<rect x="125.8" y="172.45" width="16.3" height="8.85" fill="#950707" stroke="#1a1a1a" stroke-width="0.8"/>
<rect x="125.8" y="163.60" width="16.3" height="8.85" fill="#8b0000" stroke="#1a1a1a" stroke-width="0.8"/>
<text class="cb" x="153.0" y="363.5">0</text>
<text class="cb" x="153.0" y="328.1">2</text>
<text class="cb" x="153.0" y="292.7">4</text>
<text class="cb" x="153.0" y="257.3">6</text>
<text class="cb" x="153.0" y="221.9">8</text>
<text class="cb" x="153.0" y="186.5">10</text>
<path d="M142.1,358.30h5.8M142.1,322.90h5.8M142.1,287.50h5.8M142.1,252.10h5.8M142.1,216.70h5.8M142.1,181.30h5.8" stroke="#222" stroke-width="1" fill="none"/>
</svg>
</body></html>
